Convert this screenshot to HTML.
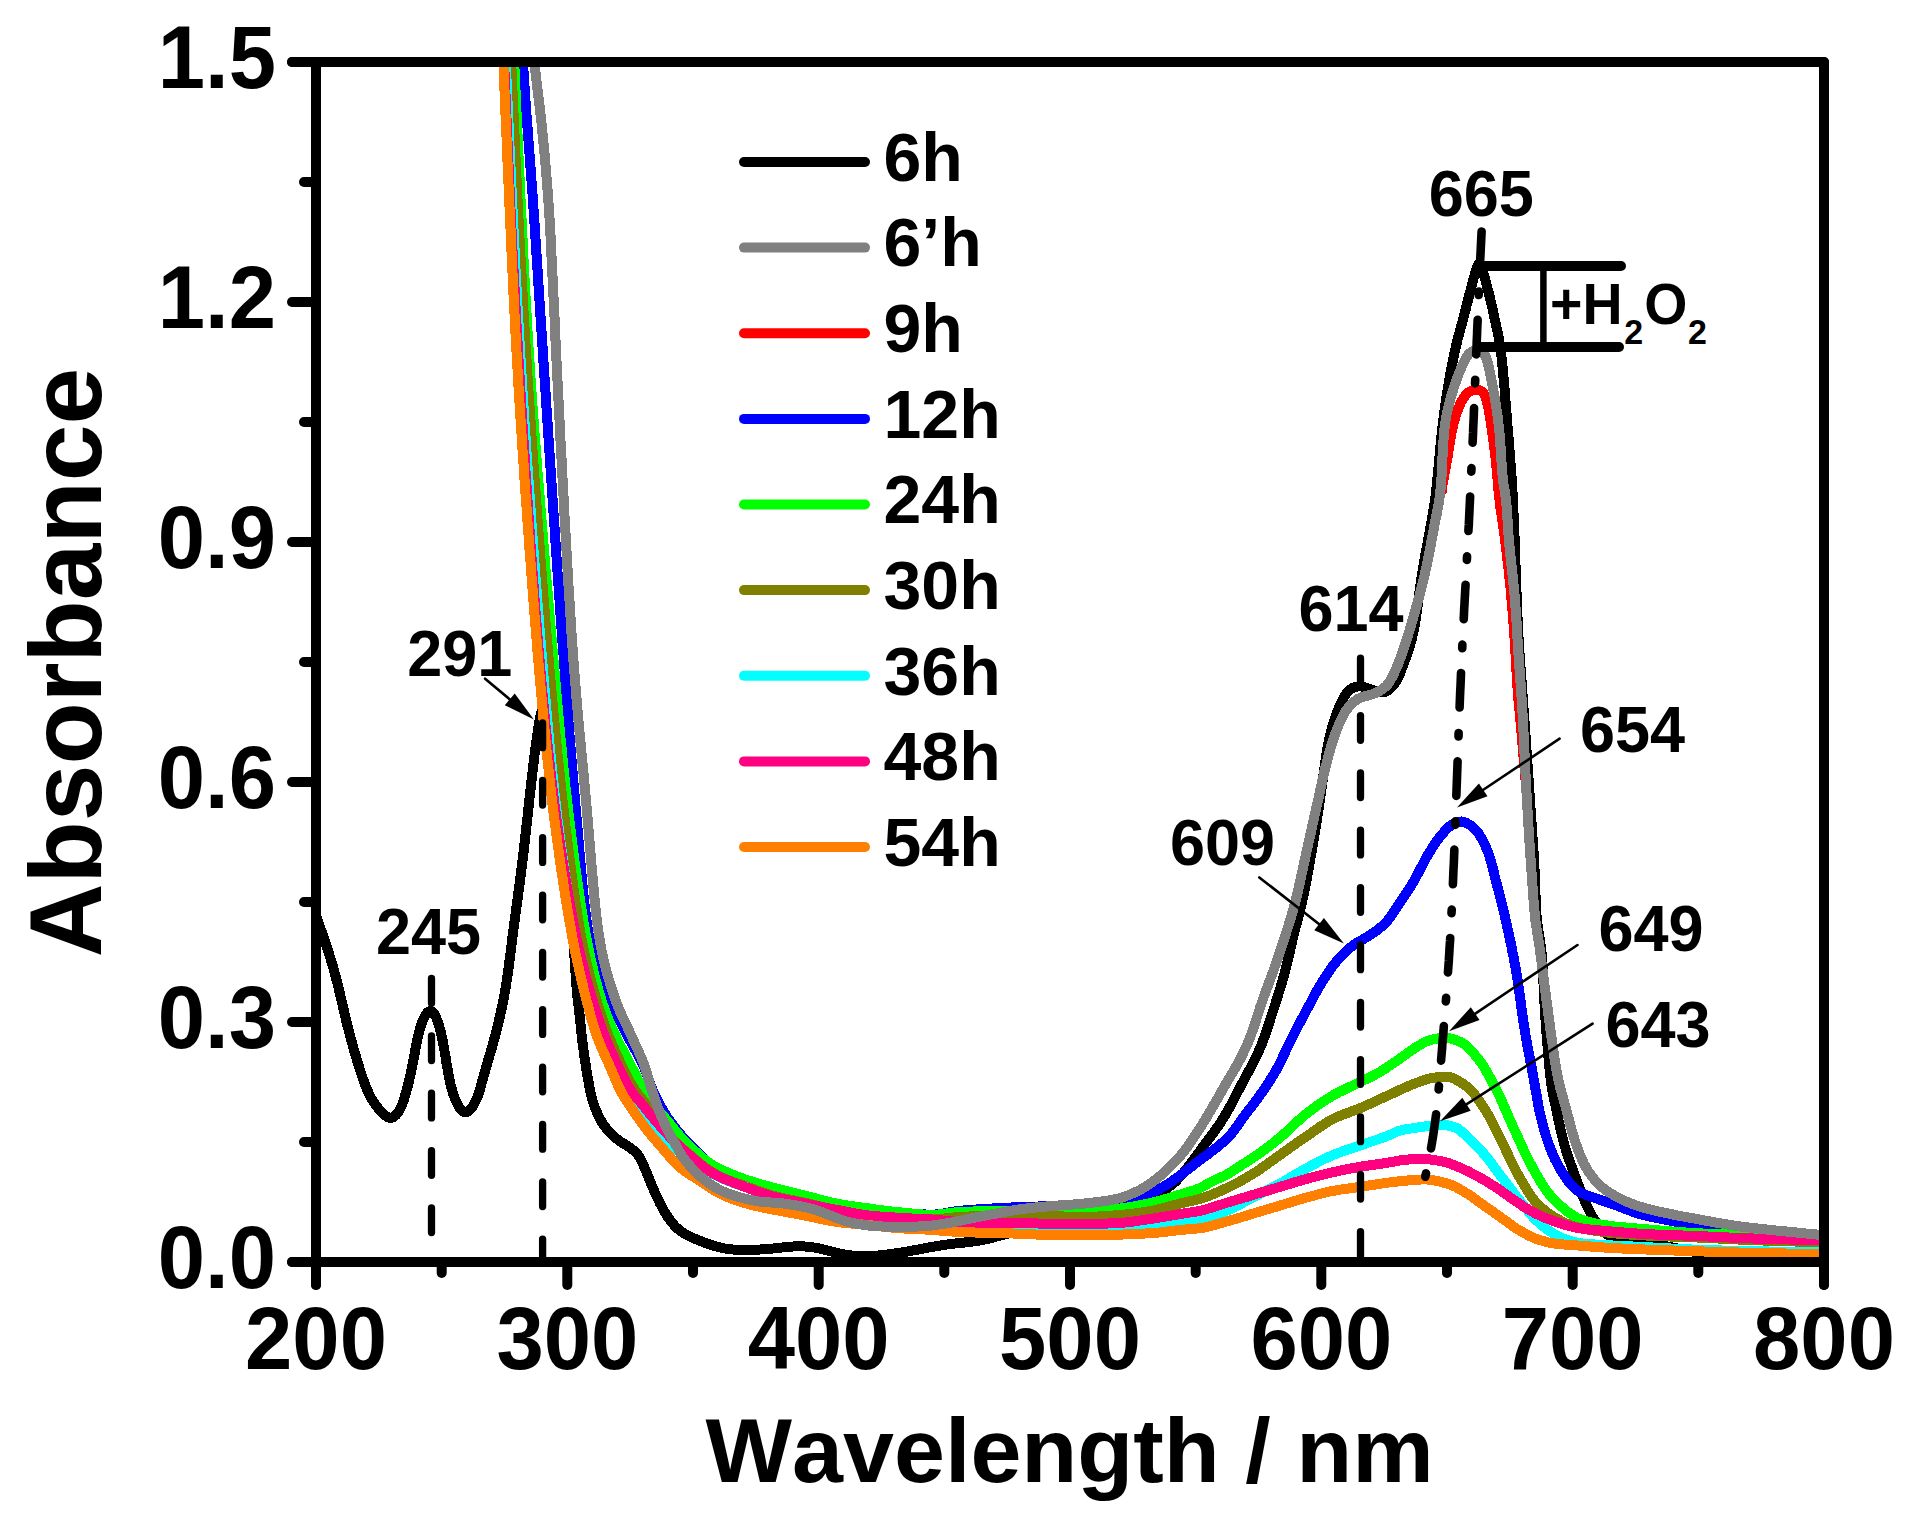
<!DOCTYPE html>
<html lang="en"><head><meta charset="utf-8"><title>UV-vis absorbance spectra</title>
<style>html,body{margin:0;padding:0;background:#fff;overflow:hidden;}svg{display:block;}</style></head>
<body>
<svg width="1906" height="1513" viewBox="0 0 1906 1513" role="img" aria-label="UV-vis absorbance spectra" font-family='"Liberation Sans", sans-serif' font-weight="bold" fill="#000" style="font-kerning:none;font-variant-ligatures:none">
<rect width="1906" height="1513" fill="#fff"/>
<defs><clipPath id="plot"><rect x="316" y="62" width="1508" height="1200"/></clipPath></defs>
<g clip-path="url(#plot)" fill="none" stroke-width="10" stroke-linejoin="round" stroke-linecap="butt" shape-rendering="crispEdges">
<path d="M312.0 901.0 L312.1 901.9 L312.4 903.1 L312.8 904.6 L313.3 906.4 L313.9 908.4 L314.6 910.6 L315.3 913.0 L316.2 915.7 L317.2 918.5 L318.2 921.4 L319.2 924.6 L320.3 927.8 L321.5 931.2 L322.7 934.7 L323.9 938.3 L325.1 941.9 L326.3 945.6 L327.6 949.4 L328.8 953.1 L330.0 956.9 L331.1 960.7 L332.3 964.5 L333.4 968.2 L334.4 971.9 L335.4 975.6 L336.3 979.2 L337.3 982.8 L338.1 986.3 L339.0 989.8 L339.8 993.3 L340.6 996.8 L341.5 1000.3 L342.3 1003.8 L343.1 1007.2 L343.9 1010.7 L344.7 1014.2 L345.5 1017.7 L346.3 1021.1 L347.2 1024.7 L348.1 1028.2 L349.0 1031.7 L349.9 1035.2 L350.9 1038.7 L351.8 1042.2 L352.8 1045.7 L353.8 1049.2 L354.7 1052.6 L355.7 1055.9 L356.7 1059.3 L357.7 1062.5 L358.7 1065.7 L359.7 1068.9 L360.7 1071.9 L361.6 1074.9 L362.6 1077.8 L363.6 1080.6 L364.6 1083.3 L365.6 1085.9 L366.6 1088.5 L367.7 1090.9 L368.8 1093.3 L369.9 1095.6 L371.0 1097.8 L372.2 1099.8 L373.5 1101.8 L374.7 1103.7 L376.1 1105.5 L377.4 1107.2 L378.7 1108.8 L380.0 1110.3 L381.3 1111.7 L382.6 1113.0 L383.9 1114.2 L385.1 1115.3 L386.3 1116.3 L387.4 1117.0 L388.6 1117.6 L389.8 1117.9 L391.0 1117.9 L392.3 1117.6 L393.5 1117.0 L394.7 1116.2 L395.9 1115.1 L397.0 1113.9 L398.1 1112.4 L399.2 1110.8 L400.1 1109.0 L401.1 1107.1 L401.9 1105.0 L402.8 1102.8 L403.6 1100.5 L404.4 1098.1 L405.1 1095.5 L405.9 1092.9 L406.6 1090.3 L407.4 1087.5 L408.1 1084.7 L408.8 1081.9 L409.5 1079.0 L410.1 1076.1 L410.8 1073.1 L411.4 1070.1 L412.1 1067.0 L412.7 1063.9 L413.3 1060.9 L413.9 1057.7 L414.5 1054.6 L415.0 1051.5 L415.6 1048.4 L416.2 1045.3 L416.8 1042.3 L417.4 1039.2 L418.0 1036.3 L418.7 1033.4 L419.4 1030.6 L420.2 1027.8 L421.0 1025.2 L421.9 1022.7 L422.9 1020.2 L423.9 1018.0 L425.0 1016.0 L426.1 1014.2 L427.2 1012.8 L428.4 1011.7 L429.6 1011.1 L430.7 1011.0 L431.8 1011.4 L432.9 1012.3 L434.0 1013.7 L435.1 1015.4 L436.1 1017.4 L437.0 1019.7 L437.9 1022.2 L438.8 1024.9 L439.6 1027.7 L440.4 1030.6 L441.1 1033.6 L441.8 1036.7 L442.5 1039.9 L443.1 1043.1 L443.7 1046.3 L444.3 1049.6 L444.8 1052.8 L445.4 1056.1 L445.9 1059.3 L446.4 1062.6 L447.0 1065.8 L447.5 1068.9 L448.1 1072.0 L448.6 1075.0 L449.2 1078.0 L449.8 1080.9 L450.4 1083.7 L451.1 1086.5 L451.8 1089.2 L452.6 1091.9 L453.4 1094.5 L454.3 1097.0 L455.3 1099.4 L456.3 1101.8 L457.4 1104.1 L458.5 1106.2 L459.7 1108.1 L460.9 1109.7 L462.2 1111.0 L463.5 1111.8 L464.9 1112.3 L466.2 1112.2 L467.6 1111.7 L469.0 1110.8 L470.3 1109.5 L471.6 1107.9 L472.9 1106.2 L474.0 1104.2 L475.1 1102.1 L476.1 1100.0 L477.1 1097.8 L477.9 1095.6 L478.7 1093.2 L479.5 1090.9 L480.2 1088.4 L480.9 1086.0 L481.6 1083.4 L482.3 1080.8 L483.0 1078.2 L483.8 1075.5 L484.6 1072.7 L485.4 1069.9 L486.2 1067.0 L487.1 1064.1 L487.9 1061.2 L488.8 1058.2 L489.7 1055.1 L490.6 1052.0 L491.5 1048.9 L492.4 1045.7 L493.3 1042.5 L494.2 1039.2 L495.1 1035.9 L495.9 1032.6 L496.8 1029.2 L497.6 1025.8 L498.5 1022.4 L499.3 1019.0 L500.1 1015.5 L500.8 1012.0 L501.6 1008.6 L502.3 1005.1 L503.0 1001.6 L503.7 998.1 L504.4 994.6 L505.0 991.1 L505.6 987.7 L506.2 984.3 L506.7 980.8 L507.2 977.4 L507.7 974.0 L508.2 970.5 L508.7 967.1 L509.1 963.6 L509.6 960.1 L510.0 956.6 L510.5 953.1 L510.9 949.5 L511.4 945.9 L511.8 942.2 L512.3 938.4 L512.8 934.6 L513.3 930.8 L513.8 926.9 L514.3 922.9 L514.9 918.9 L515.4 914.8 L516.0 910.7 L516.5 906.5 L517.1 902.3 L517.7 898.1 L518.2 893.8 L518.8 889.5 L519.4 885.2 L520.0 880.8 L520.5 876.4 L521.1 872.0 L521.6 867.6 L522.2 863.2 L522.7 858.7 L523.3 854.3 L523.8 849.8 L524.3 845.4 L524.8 840.9 L525.3 836.5 L525.8 832.0 L526.3 827.6 L526.8 823.2 L527.3 818.8 L527.8 814.4 L528.2 810.1 L528.7 805.8 L529.2 801.5 L529.6 797.3 L530.1 793.1 L530.6 788.9 L531.0 784.8 L531.5 780.8 L531.9 776.8 L532.4 772.8 L532.9 768.9 L533.3 765.1 L533.8 761.3 L534.2 757.5 L534.7 753.8 L535.2 750.2 L535.6 746.6 L536.1 743.0 L536.6 739.5 L537.1 736.0 L537.6 732.6 L538.1 729.2 L538.6 725.9 L539.1 722.7 L539.7 719.6 L540.2 716.7 L540.7 714.2 L541.3 712.0 L541.8 710.2 L542.4 708.9 L542.9 708.1 L543.4 708.0 L543.9 708.6 L544.5 709.7 L545.0 711.3 L545.5 713.4 L546.0 715.9 L546.5 718.7 L547.1 721.8 L547.6 725.2 L548.1 728.7 L548.6 732.3 L549.2 735.9 L549.7 739.7 L550.2 743.6 L550.8 747.6 L551.3 751.6 L551.9 755.7 L552.4 759.9 L553.0 764.1 L553.5 768.4 L554.1 772.7 L554.6 777.1 L555.2 781.5 L555.8 785.9 L556.3 790.4 L556.9 794.9 L557.4 799.4 L558.0 803.9 L558.5 808.4 L559.1 812.9 L559.6 817.4 L560.2 821.9 L560.7 826.4 L561.2 830.8 L561.8 835.3 L562.3 839.7 L562.8 844.2 L563.3 848.6 L563.9 852.9 L564.4 857.3 L564.9 861.6 L565.4 865.8 L565.9 870.1 L566.3 874.3 L566.8 878.4 L567.3 882.5 L567.7 886.5 L568.2 890.5 L568.6 894.5 L569.1 898.4 L569.5 902.3 L569.9 906.2 L570.3 910.0 L570.7 913.8 L571.1 917.6 L571.5 921.4 L571.9 925.2 L572.2 928.9 L572.5 932.7 L572.9 936.4 L573.2 940.1 L573.5 943.9 L573.8 947.6 L574.0 951.4 L574.3 955.1 L574.6 958.7 L574.8 962.3 L575.0 965.9 L575.3 969.4 L575.5 972.7 L575.7 976.0 L575.9 979.2 L576.2 982.2 L576.4 985.1 L576.6 987.8 L576.8 990.4 L577.1 992.8 L577.3 995.1 L577.5 997.3 L577.8 999.5 L578.0 1001.6 L578.3 1003.8 L578.5 1006.0 L578.8 1008.2 L579.1 1010.6 L579.3 1013.1 L579.6 1015.6 L579.9 1018.3 L580.2 1021.1 L580.5 1024.0 L580.8 1026.9 L581.1 1029.9 L581.4 1033.0 L581.8 1036.0 L582.1 1039.1 L582.5 1042.2 L582.9 1045.4 L583.3 1048.5 L583.7 1051.5 L584.1 1054.6 L584.6 1057.6 L585.0 1060.7 L585.5 1063.6 L585.9 1066.6 L586.4 1069.4 L586.8 1072.3 L587.3 1075.0 L587.8 1077.7 L588.2 1080.4 L588.7 1082.9 L589.1 1085.4 L589.6 1087.9 L590.1 1090.2 L590.6 1092.6 L591.1 1094.8 L591.7 1097.1 L592.2 1099.3 L592.9 1101.5 L593.6 1103.7 L594.3 1105.9 L595.1 1108.1 L596.0 1110.2 L596.9 1112.4 L597.8 1114.5 L598.8 1116.5 L599.9 1118.6 L601.0 1120.5 L602.1 1122.5 L603.3 1124.3 L604.5 1126.1 L605.8 1127.9 L607.1 1129.6 L608.5 1131.2 L610.0 1132.8 L611.5 1134.3 L613.0 1135.8 L614.6 1137.2 L616.3 1138.5 L618.0 1139.8 L619.7 1141.0 L621.4 1142.2 L623.2 1143.3 L624.9 1144.4 L626.6 1145.5 L628.2 1146.5 L629.7 1147.6 L631.2 1148.6 L632.6 1149.6 L633.9 1150.7 L635.1 1151.8 L636.3 1153.0 L637.4 1154.3 L638.4 1155.7 L639.4 1157.1 L640.3 1158.7 L641.2 1160.4 L642.1 1162.1 L643.0 1164.0 L643.8 1165.9 L644.6 1167.9 L645.5 1169.9 L646.3 1172.0 L647.2 1174.1 L648.1 1176.2 L648.9 1178.4 L649.8 1180.6 L650.8 1182.8 L651.7 1185.1 L652.7 1187.3 L653.6 1189.6 L654.6 1191.8 L655.6 1194.0 L656.6 1196.2 L657.6 1198.4 L658.7 1200.6 L659.7 1202.8 L660.8 1204.9 L661.9 1207.0 L663.1 1209.1 L664.2 1211.2 L665.4 1213.2 L666.7 1215.2 L667.9 1217.1 L669.2 1219.0 L670.6 1220.8 L671.9 1222.6 L673.4 1224.3 L674.8 1225.9 L676.3 1227.4 L677.8 1228.8 L679.4 1230.1 L681.0 1231.3 L682.7 1232.4 L684.4 1233.5 L686.1 1234.5 L687.9 1235.4 L689.7 1236.3 L691.6 1237.2 L693.5 1238.1 L695.4 1239.0 L697.4 1239.8 L699.4 1240.6 L701.4 1241.4 L703.4 1242.2 L705.5 1243.0 L707.5 1243.7 L709.6 1244.4 L711.6 1245.1 L713.7 1245.7 L715.7 1246.3 L717.8 1246.9 L719.8 1247.4 L721.9 1247.9 L723.9 1248.3 L726.0 1248.7 L728.0 1249.0 L730.0 1249.2 L732.1 1249.4 L734.2 1249.6 L736.2 1249.7 L738.3 1249.7 L740.4 1249.8 L742.5 1249.8 L744.6 1249.8 L746.7 1249.8 L748.9 1249.8 L751.1 1249.8 L753.3 1249.7 L755.5 1249.7 L757.8 1249.6 L760.1 1249.5 L762.5 1249.4 L764.9 1249.2 L767.3 1249.0 L769.8 1248.8 L772.3 1248.6 L774.9 1248.3 L777.4 1248.1 L779.8 1247.8 L782.2 1247.5 L784.6 1247.3 L786.8 1247.0 L789.0 1246.8 L791.0 1246.6 L792.9 1246.5 L794.7 1246.4 L796.4 1246.3 L798.1 1246.3 L799.7 1246.3 L801.4 1246.3 L803.1 1246.4 L804.9 1246.5 L806.7 1246.7 L808.6 1246.8 L810.6 1247.0 L812.6 1247.3 L814.6 1247.6 L816.6 1247.9 L818.7 1248.3 L820.8 1248.8 L822.9 1249.3 L825.1 1249.8 L827.2 1250.4 L829.3 1250.9 L831.4 1251.5 L833.5 1252.0 L835.6 1252.6 L837.7 1253.1 L839.7 1253.5 L841.7 1253.9 L843.6 1254.3 L845.6 1254.7 L847.5 1255.0 L849.4 1255.2 L851.3 1255.5 L853.1 1255.7 L855.0 1255.9 L856.8 1256.0 L858.7 1256.2 L860.6 1256.2 L862.6 1256.3 L864.6 1256.3 L866.6 1256.3 L868.7 1256.2 L870.9 1256.1 L873.2 1255.9 L875.6 1255.8 L877.9 1255.6 L880.4 1255.3 L882.8 1255.0 L885.3 1254.8 L887.7 1254.4 L890.1 1254.1 L892.6 1253.8 L894.9 1253.5 L897.3 1253.1 L899.6 1252.7 L902.0 1252.4 L904.3 1252.0 L906.6 1251.6 L909.0 1251.2 L911.4 1250.8 L913.8 1250.3 L916.3 1249.9 L918.8 1249.4 L921.4 1248.9 L924.1 1248.4 L926.8 1247.9 L929.5 1247.4 L932.3 1246.9 L935.1 1246.4 L937.9 1245.9 L940.7 1245.4 L943.6 1245.0 L946.4 1244.6 L949.3 1244.2 L952.1 1243.8 L955.0 1243.5 L957.8 1243.2 L960.6 1242.9 L963.5 1242.6 L966.3 1242.3 L969.0 1242.0 L971.8 1241.6 L974.5 1241.3 L977.2 1240.9 L979.9 1240.4 L982.6 1239.9 L985.2 1239.4 L987.8 1238.8 L990.4 1238.2 L993.0 1237.5 L995.6 1236.8 L998.2 1236.1 L1000.9 1235.4 L1003.6 1234.7 L1006.3 1234.0 L1009.1 1233.2 L1011.9 1232.5 L1014.8 1231.8 L1017.7 1231.1 L1020.7 1230.4 L1023.8 1229.7 L1026.9 1229.0 L1030.0 1228.3 L1033.1 1227.6 L1036.2 1227.0 L1039.4 1226.3 L1042.6 1225.6 L1045.7 1224.9 L1048.9 1224.2 L1052.0 1223.6 L1055.2 1222.9 L1058.3 1222.2 L1061.4 1221.5 L1064.5 1220.8 L1067.6 1220.1 L1070.7 1219.4 L1073.7 1218.7 L1076.8 1218.0 L1079.8 1217.4 L1082.8 1216.7 L1085.9 1216.0 L1088.9 1215.3 L1091.9 1214.6 L1094.9 1213.9 L1097.9 1213.2 L1100.8 1212.5 L1103.8 1211.8 L1106.7 1211.1 L1109.6 1210.4 L1112.5 1209.8 L1115.3 1209.1 L1118.1 1208.5 L1120.8 1207.9 L1123.5 1207.3 L1126.2 1206.8 L1128.8 1206.2 L1131.3 1205.7 L1133.8 1205.1 L1136.2 1204.5 L1138.6 1203.9 L1140.9 1203.3 L1143.2 1202.6 L1145.3 1201.8 L1147.5 1200.9 L1149.6 1200.0 L1151.6 1198.9 L1153.5 1197.8 L1155.4 1196.6 L1157.2 1195.4 L1159.0 1194.1 L1160.7 1192.9 L1162.3 1191.7 L1163.9 1190.5 L1165.4 1189.5 L1166.8 1188.4 L1168.2 1187.4 L1169.6 1186.4 L1171.0 1185.4 L1172.5 1184.2 L1173.9 1183.0 L1175.5 1181.5 L1177.1 1179.9 L1178.7 1178.1 L1180.5 1176.2 L1182.2 1174.1 L1184.0 1172.0 L1185.8 1169.8 L1187.6 1167.5 L1189.4 1165.2 L1191.2 1162.9 L1192.9 1160.7 L1194.5 1158.5 L1196.0 1156.4 L1197.5 1154.4 L1198.9 1152.4 L1200.3 1150.6 L1201.6 1148.7 L1202.9 1146.9 L1204.2 1145.1 L1205.5 1143.4 L1206.8 1141.6 L1208.2 1139.8 L1209.5 1137.9 L1210.9 1136.1 L1212.3 1134.2 L1213.8 1132.2 L1215.2 1130.2 L1216.7 1128.1 L1218.2 1126.0 L1219.7 1123.8 L1221.2 1121.6 L1222.6 1119.3 L1224.1 1116.9 L1225.6 1114.4 L1227.0 1111.9 L1228.4 1109.4 L1229.9 1106.8 L1231.3 1104.2 L1232.6 1101.7 L1234.0 1099.1 L1235.3 1096.6 L1236.6 1094.1 L1237.8 1091.7 L1239.0 1089.4 L1240.2 1087.1 L1241.3 1085.0 L1242.4 1082.9 L1243.5 1080.8 L1244.6 1078.8 L1245.6 1076.9 L1246.7 1074.9 L1247.7 1073.0 L1248.7 1071.0 L1249.8 1069.1 L1250.9 1067.1 L1252.0 1065.0 L1253.0 1063.0 L1254.1 1060.8 L1255.2 1058.7 L1256.3 1056.4 L1257.4 1054.1 L1258.5 1051.8 L1259.6 1049.3 L1260.6 1046.8 L1261.7 1044.2 L1262.7 1041.5 L1263.8 1038.7 L1264.8 1035.9 L1265.8 1033.0 L1266.8 1030.1 L1267.8 1027.1 L1268.8 1024.1 L1269.8 1021.1 L1270.7 1018.1 L1271.7 1015.1 L1272.7 1012.1 L1273.7 1009.1 L1274.6 1006.1 L1275.6 1003.1 L1276.5 1000.1 L1277.5 997.1 L1278.4 994.1 L1279.3 991.1 L1280.3 988.1 L1281.2 985.1 L1282.1 982.0 L1282.9 978.9 L1283.8 975.8 L1284.7 972.7 L1285.5 969.5 L1286.3 966.4 L1287.1 963.1 L1287.9 959.9 L1288.6 956.7 L1289.4 953.5 L1290.1 950.4 L1290.8 947.3 L1291.5 944.2 L1292.2 941.2 L1292.9 938.3 L1293.6 935.5 L1294.2 932.8 L1294.9 930.2 L1295.5 927.7 L1296.2 925.2 L1296.8 922.8 L1297.5 920.4 L1298.1 917.9 L1298.8 915.4 L1299.5 912.7 L1300.2 909.9 L1300.9 906.9 L1301.7 903.6 L1302.5 900.1 L1303.3 896.3 L1304.1 892.2 L1305.0 887.9 L1305.9 883.3 L1306.8 878.6 L1307.7 873.6 L1308.7 868.5 L1309.6 863.3 L1310.5 857.9 L1311.5 852.5 L1312.4 847.0 L1313.4 841.4 L1314.3 835.9 L1315.2 830.3 L1316.1 824.8 L1317.0 819.3 L1317.8 814.0 L1318.6 808.7 L1319.4 803.5 L1320.1 798.6 L1320.8 793.7 L1321.5 789.1 L1322.1 784.7 L1322.7 780.5 L1323.2 776.4 L1323.8 772.5 L1324.3 768.8 L1324.8 765.1 L1325.3 761.7 L1325.8 758.3 L1326.3 755.0 L1326.8 751.8 L1327.3 748.7 L1327.9 745.6 L1328.4 742.6 L1329.1 739.7 L1329.7 736.7 L1330.4 733.8 L1331.2 730.9 L1331.9 728.1 L1332.8 725.3 L1333.6 722.5 L1334.5 719.8 L1335.4 717.1 L1336.3 714.5 L1337.2 712.0 L1338.2 709.5 L1339.1 707.1 L1340.1 704.8 L1341.1 702.5 L1342.2 700.4 L1343.2 698.4 L1344.3 696.5 L1345.5 694.7 L1346.6 693.1 L1347.9 691.6 L1349.2 690.3 L1350.5 689.2 L1351.9 688.3 L1353.4 687.6 L1354.9 687.0 L1356.5 686.6 L1358.1 686.4 L1359.7 686.4 L1361.3 686.5 L1363.0 686.8 L1364.6 687.2 L1366.3 687.7 L1368.0 688.3 L1369.7 688.9 L1371.4 689.6 L1373.1 690.3 L1374.7 691.0 L1376.4 691.6 L1378.1 692.1 L1379.8 692.4 L1381.4 692.5 L1383.1 692.4 L1384.7 691.9 L1386.4 691.2 L1388.0 690.3 L1389.6 689.1 L1391.1 687.8 L1392.5 686.3 L1393.9 684.6 L1395.1 682.9 L1396.2 681.1 L1397.3 679.3 L1398.3 677.3 L1399.2 675.3 L1400.1 673.3 L1400.9 671.2 L1401.7 669.1 L1402.5 666.9 L1403.3 664.7 L1404.2 662.4 L1405.0 660.1 L1405.9 657.8 L1406.7 655.4 L1407.6 652.9 L1408.4 650.3 L1409.3 647.7 L1410.1 645.0 L1410.9 642.2 L1411.7 639.2 L1412.4 636.2 L1413.1 633.0 L1413.8 629.7 L1414.5 626.3 L1415.1 622.7 L1415.7 619.2 L1416.2 615.5 L1416.8 611.8 L1417.3 608.0 L1417.9 604.2 L1418.4 600.3 L1418.9 596.4 L1419.4 592.6 L1420.0 588.7 L1420.5 584.9 L1421.0 581.0 L1421.6 577.2 L1422.2 573.5 L1422.8 569.8 L1423.4 566.2 L1424.0 562.6 L1424.6 559.0 L1425.2 555.5 L1425.8 552.1 L1426.4 548.7 L1427.1 545.3 L1427.7 542.0 L1428.3 538.7 L1428.9 535.6 L1429.5 532.4 L1430.1 529.3 L1430.6 526.3 L1431.2 523.3 L1431.7 520.3 L1432.2 517.4 L1432.7 514.4 L1433.2 511.5 L1433.7 508.5 L1434.1 505.5 L1434.6 502.4 L1435.0 499.2 L1435.5 496.0 L1435.9 492.7 L1436.3 489.2 L1436.7 485.7 L1437.1 482.0 L1437.4 478.3 L1437.8 474.4 L1438.2 470.5 L1438.6 466.5 L1438.9 462.4 L1439.3 458.2 L1439.7 453.9 L1440.1 449.6 L1440.5 445.3 L1441.0 440.9 L1441.4 436.5 L1441.9 432.0 L1442.4 427.5 L1442.9 423.0 L1443.5 418.4 L1444.0 413.9 L1444.7 409.4 L1445.3 404.9 L1445.9 400.4 L1446.6 395.9 L1447.3 391.5 L1448.0 387.1 L1448.7 382.9 L1449.5 378.7 L1450.2 374.5 L1451.0 370.5 L1451.7 366.6 L1452.4 362.8 L1453.2 359.2 L1453.9 355.7 L1454.6 352.3 L1455.3 349.2 L1456.0 346.1 L1456.7 343.3 L1457.3 340.6 L1458.0 338.0 L1458.6 335.5 L1459.3 333.1 L1459.9 330.8 L1460.5 328.4 L1461.2 326.2 L1461.8 323.9 L1462.4 321.6 L1463.0 319.2 L1463.7 316.8 L1464.3 314.4 L1464.9 312.0 L1465.6 309.6 L1466.2 307.1 L1466.8 304.7 L1467.5 302.2 L1468.1 299.8 L1468.7 297.4 L1469.3 294.9 L1469.9 292.5 L1470.6 290.1 L1471.2 287.8 L1471.8 285.5 L1472.4 283.2 L1472.9 281.0 L1473.5 278.8 L1474.1 276.7 L1474.7 274.7 L1475.3 272.7 L1475.8 270.9 L1476.4 269.1 L1476.9 267.6 L1477.5 266.2 L1478.0 265.0 L1478.6 264.0 L1479.1 263.3 L1479.6 263.0 L1480.0 263.1 L1480.5 263.6 L1480.9 264.5 L1481.3 265.7 L1481.7 267.0 L1482.2 268.6 L1482.7 270.3 L1483.2 272.1 L1483.7 274.0 L1484.2 276.0 L1484.8 278.0 L1485.3 280.0 L1485.8 282.0 L1486.4 284.0 L1486.9 286.1 L1487.5 288.1 L1488.0 290.2 L1488.6 292.3 L1489.1 294.5 L1489.7 296.8 L1490.3 299.1 L1490.8 301.4 L1491.4 303.9 L1492.0 306.4 L1492.5 308.9 L1493.1 311.4 L1493.6 314.0 L1494.2 316.5 L1494.7 319.0 L1495.2 321.4 L1495.7 323.8 L1496.2 326.1 L1496.7 328.3 L1497.2 330.5 L1497.7 332.7 L1498.1 334.9 L1498.6 337.1 L1499.0 339.5 L1499.5 341.9 L1499.9 344.5 L1500.3 347.3 L1500.7 350.3 L1501.1 353.5 L1501.5 356.9 L1501.9 360.4 L1502.3 364.2 L1502.7 368.1 L1503.1 372.1 L1503.4 376.3 L1503.8 380.5 L1504.2 384.8 L1504.6 389.2 L1504.9 393.7 L1505.3 398.2 L1505.6 402.7 L1506.0 407.1 L1506.4 411.6 L1506.7 416.0 L1507.1 420.4 L1507.4 424.8 L1507.8 429.0 L1508.1 433.3 L1508.5 437.5 L1508.9 441.7 L1509.2 446.0 L1509.5 450.2 L1509.9 454.4 L1510.2 458.7 L1510.5 463.1 L1510.9 467.4 L1511.2 471.9 L1511.5 476.4 L1511.8 481.0 L1512.1 485.7 L1512.4 490.5 L1512.7 495.4 L1512.9 500.5 L1513.2 505.7 L1513.4 511.0 L1513.7 516.4 L1513.9 522.0 L1514.2 527.6 L1514.4 533.2 L1514.6 538.9 L1514.8 544.6 L1515.0 550.4 L1515.2 556.1 L1515.4 561.8 L1515.6 567.5 L1515.8 573.2 L1516.0 578.7 L1516.2 584.2 L1516.4 589.6 L1516.6 594.9 L1516.8 600.1 L1517.0 605.1 L1517.2 610.0 L1517.4 614.7 L1517.6 619.2 L1517.8 623.5 L1518.0 627.6 L1518.2 631.6 L1518.4 635.4 L1518.6 639.1 L1518.8 642.8 L1519.1 646.3 L1519.3 649.9 L1519.5 653.4 L1519.8 657.0 L1520.1 660.6 L1520.3 664.3 L1520.6 668.1 L1520.9 672.0 L1521.2 676.0 L1521.5 680.2 L1521.8 684.6 L1522.2 689.2 L1522.5 694.0 L1522.9 698.9 L1523.2 704.0 L1523.6 709.2 L1524.0 714.5 L1524.4 719.9 L1524.8 725.4 L1525.2 731.0 L1525.6 736.6 L1526.0 742.3 L1526.4 748.0 L1526.8 753.8 L1527.2 759.5 L1527.6 765.3 L1528.0 771.0 L1528.4 776.6 L1528.8 782.3 L1529.1 787.8 L1529.5 793.3 L1529.9 798.7 L1530.3 804.0 L1530.6 809.1 L1531.0 814.2 L1531.3 819.2 L1531.7 824.0 L1532.0 828.8 L1532.3 833.5 L1532.6 838.0 L1532.9 842.5 L1533.2 846.8 L1533.5 851.1 L1533.7 855.3 L1534.0 859.4 L1534.2 863.3 L1534.4 867.2 L1534.6 871.0 L1534.8 874.8 L1534.9 878.4 L1535.1 881.9 L1535.2 885.4 L1535.3 888.8 L1535.4 892.1 L1535.5 895.3 L1535.7 898.5 L1535.8 901.6 L1535.9 904.6 L1536.1 907.6 L1536.2 910.6 L1536.4 913.5 L1536.6 916.3 L1536.9 919.1 L1537.2 921.9 L1537.6 924.6 L1537.9 927.4 L1538.3 930.1 L1538.7 932.8 L1539.1 935.5 L1539.6 938.2 L1540.0 940.9 L1540.4 943.6 L1540.8 946.4 L1541.1 949.2 L1541.5 952.1 L1541.8 955.0 L1542.0 957.9 L1542.3 960.9 L1542.5 963.9 L1542.7 967.0 L1542.8 970.1 L1543.0 973.2 L1543.2 976.3 L1543.3 979.5 L1543.4 982.7 L1543.6 985.9 L1543.7 989.2 L1543.9 992.4 L1544.0 995.6 L1544.2 998.9 L1544.4 1002.2 L1544.6 1005.5 L1544.8 1008.8 L1545.0 1012.1 L1545.2 1015.5 L1545.4 1018.9 L1545.7 1022.3 L1545.9 1025.8 L1546.2 1029.3 L1546.4 1032.8 L1546.7 1036.4 L1547.0 1040.1 L1547.3 1043.7 L1547.6 1047.4 L1547.9 1051.1 L1548.2 1054.8 L1548.6 1058.4 L1548.9 1062.0 L1549.2 1065.6 L1549.6 1069.0 L1549.9 1072.4 L1550.3 1075.6 L1550.7 1078.7 L1551.1 1081.7 L1551.4 1084.5 L1551.8 1087.1 L1552.2 1089.5 L1552.6 1091.8 L1553.0 1094.0 L1553.4 1096.1 L1553.9 1098.2 L1554.3 1100.3 L1554.8 1102.4 L1555.3 1104.6 L1555.8 1107.0 L1556.3 1109.5 L1556.9 1112.1 L1557.4 1114.9 L1558.0 1117.8 L1558.6 1120.7 L1559.3 1123.7 L1559.9 1126.8 L1560.6 1129.8 L1561.3 1132.9 L1562.0 1135.9 L1562.8 1138.9 L1563.5 1141.8 L1564.3 1144.6 L1565.1 1147.3 L1565.9 1150.0 L1566.7 1152.5 L1567.5 1155.0 L1568.4 1157.5 L1569.2 1159.9 L1570.0 1162.2 L1570.9 1164.6 L1571.7 1166.9 L1572.6 1169.2 L1573.4 1171.5 L1574.3 1173.8 L1575.1 1176.2 L1576.0 1178.5 L1576.9 1180.8 L1577.7 1183.1 L1578.6 1185.5 L1579.5 1187.8 L1580.4 1190.2 L1581.3 1192.5 L1582.2 1194.8 L1583.2 1197.2 L1584.2 1199.5 L1585.1 1201.8 L1586.1 1204.1 L1587.2 1206.3 L1588.2 1208.6 L1589.3 1210.8 L1590.4 1212.9 L1591.6 1215.0 L1592.7 1217.1 L1593.9 1219.1 L1595.2 1221.0 L1596.4 1222.8 L1597.7 1224.6 L1598.9 1226.2 L1600.2 1227.8 L1601.4 1229.3 L1602.6 1230.6 L1603.9 1231.9 L1605.1 1233.0 L1606.3 1234.0 L1607.6 1234.8 L1609.0 1235.7 L1610.4 1236.4 L1612.0 1237.0 L1613.8 1237.6 L1615.7 1238.1 L1617.6 1238.6 L1619.7 1239.0 L1621.9 1239.4 L1624.1 1239.7 L1626.3 1240.0 L1628.5 1240.3 L1630.7 1240.6 L1632.9 1240.8 L1635.0 1241.1 L1637.2 1241.4 L1639.4 1241.6 L1641.6 1241.9 L1643.9 1242.2 L1646.3 1242.6 L1648.7 1243.0 L1651.3 1243.4 L1654.0 1243.8 L1656.8 1244.4 L1659.7 1244.9 L1662.6 1245.5 L1665.7 1246.1 L1668.8 1246.7 L1671.9 1247.3 L1675.0 1248.0 L1678.1 1248.6 L1681.2 1249.3 L1684.3 1249.9 L1687.3 1250.5 L1690.2 1251.0 L1693.1 1251.6 L1695.9 1252.1 L1698.6 1252.6 L1701.3 1253.0 L1703.9 1253.4 L1706.5 1253.8 L1709.1 1254.2 L1711.7 1254.5 L1714.3 1254.9 L1717.0 1255.2 L1719.7 1255.5 L1722.4 1255.7 L1725.2 1256.0 L1728.1 1256.2 L1731.0 1256.5 L1734.0 1256.7 L1737.0 1256.9 L1740.1 1257.1 L1743.3 1257.3 L1746.5 1257.4 L1749.8 1257.6 L1753.1 1257.7 L1756.6 1257.9 L1760.0 1258.0 L1763.6 1258.1 L1767.2 1258.2 L1770.9 1258.3 L1774.6 1258.4 L1778.5 1258.5 L1782.3 1258.6 L1786.3 1258.6 L1790.3 1258.7 L1794.4 1258.7 L1798.6 1258.8 L1802.9 1258.8 L1807.2 1258.9 L1811.6 1258.9 L1816.1 1258.9 L1820.6 1259.0 L1825.3 1259.0 L1830.0 1259.0" stroke="#000000"/>
<path d="M1441.4 494.0 L1441.5 493.0 L1441.6 491.8 L1441.8 490.4 L1442.0 488.8 L1442.2 487.1 L1442.5 485.1 L1442.8 482.8 L1443.3 480.3 L1443.8 477.5 L1444.3 474.5 L1444.9 471.4 L1445.5 468.3 L1446.1 465.1 L1446.6 462.0 L1447.2 458.9 L1447.7 456.0 L1448.2 453.0 L1448.7 449.9 L1449.2 446.8 L1449.7 443.7 L1450.2 440.6 L1450.7 437.4 L1451.2 434.4 L1451.8 431.3 L1452.4 428.4 L1453.1 425.5 L1453.8 422.7 L1454.6 419.8 L1455.4 416.8 L1456.4 413.9 L1457.4 411.0 L1458.4 408.2 L1459.5 405.6 L1460.6 403.1 L1461.7 401.0 L1462.8 399.1 L1463.9 397.5 L1465.0 396.0 L1466.1 394.7 L1467.2 393.5 L1468.4 392.5 L1469.6 391.7 L1470.8 391.1 L1472.1 390.5 L1473.5 390.1 L1474.8 389.7 L1476.1 389.5 L1477.5 389.6 L1478.9 390.0 L1480.2 390.6 L1481.5 391.3 L1482.7 392.2 L1483.5 393.1 L1484.3 394.3 L1485.0 395.8 L1485.6 397.5 L1486.2 399.3 L1486.8 401.2 L1487.3 403.2 L1487.9 405.4 L1488.3 407.8 L1488.8 410.3 L1489.3 413.1 L1489.7 415.9 L1490.1 418.7 L1490.6 421.6 L1491.0 424.5 L1491.4 427.3 L1491.8 430.1 L1492.2 432.8 L1492.6 435.6 L1493.0 438.4 L1493.4 441.2 L1493.8 444.0 L1494.2 446.9 L1494.5 449.8 L1494.9 452.7 L1495.3 455.7 L1495.6 458.8 L1496.0 462.0 L1496.3 465.3 L1496.6 468.7 L1496.9 472.1 L1497.2 475.5 L1497.5 479.0 L1497.8 482.6 L1498.1 486.1 L1498.4 489.6 L1498.8 493.1 L1499.1 496.5 L1499.5 499.9 L1499.9 503.2 L1500.3 506.5 L1500.7 509.7 L1501.2 512.9 L1501.7 516.1 L1502.1 519.3 L1502.6 522.5 L1503.1 525.7 L1503.6 529.0 L1504.1 532.4 L1504.5 535.9 L1505.0 539.4 L1505.4 543.1 L1505.9 546.9 L1506.4 550.7 L1506.8 554.7 L1507.3 558.7 L1507.8 562.8 L1508.3 566.9 L1508.7 571.1 L1509.2 575.3 L1509.6 579.5 L1510.0 583.7 L1510.5 587.8 L1510.9 592.0 L1511.2 596.1 L1511.6 600.2 L1512.0 604.3 L1512.3 608.6 L1512.7 612.9 L1513.0 617.3 L1513.3 621.8 L1513.7 626.2 L1514.0 630.5 L1514.3 634.8 L1514.6 639.0 L1514.8 643.0 L1515.1 646.9 L1515.3 650.6 L1515.5 654.1 L1515.7 657.3 L1515.9 660.3 L1516.0 662.9 L1516.2 665.3 L1516.3 667.6 L1516.4 669.8 L1516.5 672.0 L1516.6 674.3 L1516.7 676.7 L1516.9 679.5 L1517.1 682.5 L1517.3 685.7 L1517.6 689.2 L1517.9 692.8 L1518.2 696.6 L1518.5 700.5 L1518.9 704.5 L1519.3 708.6 L1519.7 712.7 L1520.0 716.8 L1520.4 720.9 L1520.8 725.0 L1521.1 729.0 L1521.5 732.9 L1521.8 736.8 L1522.2 740.8 L1522.5 745.0 L1522.9 749.2 L1523.3 753.5 L1523.6 757.7 L1524.0 761.9 L1524.4 766.0 L1524.7 770.0 L1525.0 773.8 L1525.3 777.3 L1525.6 780.6 L1525.8 783.6 L1526.0 786.3 L1526.2 788.7 L1526.4 791.0 L1526.5 793.1 L1526.7 795.1 L1526.8 796.9 L1526.9 798.6 L1527.0 800.0" stroke="#ff0000"/>
<path d="M522.0 40.0 L522.0 41.5 L522.1 43.2 L522.2 45.0 L522.3 47.0 L522.4 49.2 L522.5 51.5 L522.6 53.9 L522.7 56.5 L522.9 59.2 L523.0 62.0 L523.2 65.0 L523.4 68.1 L523.5 71.4 L523.8 75.0 L524.0 79.0 L524.3 83.2 L524.6 87.6 L524.9 92.3 L525.3 97.3 L525.6 102.4 L526.0 107.7 L526.4 113.1 L526.8 118.7 L527.3 124.4 L527.7 130.2 L528.2 136.1 L528.6 142.1 L529.1 148.1 L529.5 154.1 L530.0 160.1 L530.4 166.2 L530.9 172.2 L531.3 178.1 L531.7 184.0 L532.2 189.8 L532.6 195.5 L533.0 201.1 L533.4 206.6 L533.7 211.9 L534.1 217.1 L534.4 222.3 L534.8 227.4 L535.1 232.5 L535.4 237.5 L535.8 242.5 L536.1 247.5 L536.4 252.5 L536.7 257.5 L537.1 262.5 L537.4 267.5 L537.7 272.5 L538.0 277.6 L538.3 282.7 L538.7 287.8 L539.0 293.0 L539.3 298.3 L539.7 303.6 L540.0 309.0 L540.4 314.4 L540.7 320.0 L541.1 325.6 L541.5 331.4 L541.9 337.3 L542.3 343.3 L542.7 349.4 L543.1 355.7 L543.5 362.2 L544.0 368.9 L544.4 375.8 L544.9 382.9 L545.4 390.2 L545.8 397.6 L546.3 405.2 L546.9 412.9 L547.4 420.7 L547.9 428.6 L548.4 436.7 L549.0 444.8 L549.5 453.0 L550.1 461.3 L550.6 469.6 L551.2 478.0 L551.7 486.4 L552.3 494.8 L552.9 503.3 L553.4 511.7 L554.0 520.1 L554.6 528.5 L555.1 536.9 L555.7 545.2 L556.3 553.4 L556.8 561.6 L557.4 569.7 L557.9 577.7 L558.5 585.6 L559.0 593.4 L559.6 601.0 L560.1 608.5 L560.6 615.9 L561.1 623.1 L561.6 630.1 L562.1 637.0 L562.6 643.6 L563.1 650.0 L563.6 656.3 L564.0 662.4 L564.5 668.5 L564.9 674.4 L565.4 680.3 L565.8 686.0 L566.2 691.7 L566.6 697.3 L567.0 702.8 L567.5 708.3 L567.9 713.7 L568.3 719.1 L568.7 724.4 L569.1 729.6 L569.5 734.9 L569.9 740.1 L570.3 745.3 L570.8 750.4 L571.2 755.6 L571.6 760.7 L572.0 765.9 L572.5 771.1 L572.9 776.2 L573.4 781.5 L573.8 786.7 L574.3 792.0 L574.8 797.3 L575.2 802.6 L575.7 808.1 L576.2 813.6 L576.7 819.3 L577.2 825.0 L577.7 830.8 L578.2 836.6 L578.7 842.4 L579.2 848.2 L579.7 854.1 L580.2 859.9 L580.7 865.7 L581.2 871.5 L581.8 877.2 L582.3 882.8 L582.8 888.3 L583.4 893.8 L584.0 899.1 L584.5 904.3 L585.1 909.3 L585.7 914.2 L586.3 919.0 L587.0 923.5 L587.6 927.8 L588.3 932.0 L588.9 935.9 L589.6 939.5 L590.3 943.0 L591.1 946.3 L591.9 949.5 L592.8 952.6 L593.7 955.6 L594.6 958.4 L595.5 961.2 L596.4 963.9 L597.4 966.5 L598.3 969.0 L599.3 971.5 L600.2 973.9 L601.1 976.2 L601.9 978.5 L602.8 980.7 L603.6 982.9 L604.3 984.8 L605.0 986.7 L605.7 988.6 L606.5 990.4 L607.2 992.2 L607.9 994.0 L608.7 995.8 L609.6 997.8 L610.4 999.8 L611.4 1002.0 L612.4 1004.3 L613.4 1006.6 L614.5 1009.0 L615.6 1011.4 L616.8 1013.9 L618.0 1016.4 L619.2 1018.9 L620.4 1021.4 L621.6 1024.0 L622.9 1026.5 L624.1 1029.0 L625.3 1031.5 L626.5 1033.9 L627.8 1036.3 L629.1 1038.8 L630.4 1041.2 L631.8 1043.6 L633.2 1046.1 L634.5 1048.5 L635.9 1050.9 L637.2 1053.4 L638.5 1055.8 L639.8 1058.2 L641.0 1060.5 L642.2 1062.9 L643.2 1065.2 L644.3 1067.5 L645.2 1069.8 L646.1 1072.1 L646.9 1074.4 L647.7 1076.7 L648.5 1078.9 L649.3 1081.2 L650.1 1083.4 L650.9 1085.6 L651.7 1087.7 L652.6 1089.8 L653.4 1091.9 L654.4 1094.0 L655.4 1096.1 L656.4 1098.2 L657.5 1100.3 L658.6 1102.4 L659.7 1104.4 L660.8 1106.4 L661.8 1108.2 L662.8 1109.9 L663.7 1111.5 L664.5 1112.9 L665.2 1114.0 L665.9 1115.0 L666.4 1115.9 L667.0 1116.8 L667.6 1117.7 L668.4 1118.8 L669.3 1120.1 L670.4 1121.6 L671.6 1123.2 L672.9 1124.9 L674.3 1126.7 L675.8 1128.6 L677.2 1130.4 L678.7 1132.3 L680.2 1134.1 L681.6 1135.7 L683.0 1137.3 L684.3 1138.8 L685.6 1140.2 L686.9 1141.6 L688.2 1143.0 L689.5 1144.4 L690.9 1145.7 L692.2 1147.1 L693.6 1148.4 L695.0 1149.8 L696.4 1151.2 L697.8 1152.6 L699.2 1154.0 L700.6 1155.5 L702.1 1156.9 L703.5 1158.3 L705.0 1159.7 L706.6 1161.1 L708.2 1162.4 L709.9 1163.7 L711.8 1165.0 L713.7 1166.2 L715.8 1167.4 L718.0 1168.6 L720.3 1169.8 L722.7 1170.9 L725.1 1172.1 L727.7 1173.2 L730.2 1174.2 L732.8 1175.3 L735.3 1176.3 L737.9 1177.3 L740.4 1178.2 L742.8 1179.1 L745.3 1180.0 L747.7 1180.8 L750.1 1181.6 L752.6 1182.4 L755.0 1183.2 L757.4 1183.9 L759.9 1184.6 L762.3 1185.3 L764.8 1186.0 L767.3 1186.7 L769.7 1187.3 L772.2 1188.0 L774.6 1188.7 L777.1 1189.3 L779.5 1190.0 L782.0 1190.6 L784.5 1191.2 L786.9 1191.8 L789.4 1192.5 L791.9 1193.1 L794.3 1193.7 L796.8 1194.3 L799.3 1194.9 L801.7 1195.5 L804.2 1196.1 L806.7 1196.7 L809.1 1197.3 L811.6 1198.0 L814.0 1198.6 L816.5 1199.3 L819.0 1199.9 L821.4 1200.6 L823.9 1201.2 L826.4 1201.8 L828.8 1202.4 L831.3 1203.0 L833.8 1203.6 L836.2 1204.1 L838.7 1204.5 L841.2 1205.0 L843.7 1205.4 L846.2 1205.8 L848.6 1206.2 L851.1 1206.6 L853.6 1207.0 L856.1 1207.3 L858.6 1207.7 L861.1 1208.0 L863.6 1208.4 L866.1 1208.7 L868.6 1209.1 L871.1 1209.4 L873.5 1209.7 L876.0 1210.1 L878.5 1210.5 L881.0 1210.8 L883.5 1211.2 L886.0 1211.5 L888.5 1211.8 L891.0 1212.1 L893.5 1212.4 L896.0 1212.6 L898.5 1212.9 L901.0 1213.0 L903.5 1213.2 L906.0 1213.4 L908.5 1213.6 L911.0 1213.8 L913.6 1213.9 L916.1 1214.1 L918.6 1214.2 L921.1 1214.3 L923.6 1214.4 L926.1 1214.5 L928.6 1214.6 L931.0 1214.6 L933.4 1214.6 L935.8 1214.5 L938.1 1214.2 L940.3 1214.0 L942.6 1213.6 L944.8 1213.2 L947.1 1212.8 L949.4 1212.4 L951.7 1211.9 L954.1 1211.5 L956.6 1211.2 L959.2 1210.9 L961.8 1210.6 L964.6 1210.4 L967.4 1210.2 L970.4 1209.9 L973.4 1209.7 L976.4 1209.5 L979.5 1209.3 L982.7 1209.0 L985.8 1208.8 L989.0 1208.7 L992.2 1208.5 L995.4 1208.3 L998.6 1208.1 L1001.7 1208.0 L1004.8 1207.8 L1007.9 1207.7 L1010.9 1207.5 L1014.0 1207.4 L1017.0 1207.3 L1020.1 1207.2 L1023.2 1207.1 L1026.2 1206.9 L1029.3 1206.8 L1032.3 1206.7 L1035.4 1206.6 L1038.5 1206.5 L1041.5 1206.4 L1044.6 1206.3 L1047.6 1206.2 L1050.7 1206.1 L1053.7 1206.0 L1056.8 1205.9 L1059.8 1205.8 L1062.9 1205.7 L1066.0 1205.5 L1069.1 1205.4 L1072.2 1205.3 L1075.3 1205.2 L1078.4 1205.1 L1081.5 1205.0 L1084.5 1204.8 L1087.5 1204.7 L1090.5 1204.5 L1093.4 1204.4 L1096.3 1204.2 L1099.1 1204.1 L1101.9 1203.9 L1104.7 1203.7 L1107.4 1203.5 L1110.2 1203.2 L1112.9 1203.0 L1115.6 1202.7 L1118.3 1202.5 L1120.8 1202.2 L1123.4 1201.9 L1125.8 1201.5 L1128.1 1201.2 L1130.4 1200.8 L1132.5 1200.4 L1134.5 1200.0 L1136.4 1199.4 L1138.2 1198.8 L1139.9 1198.2 L1141.5 1197.5 L1143.2 1196.7 L1144.8 1195.9 L1146.4 1195.2 L1148.0 1194.4 L1149.7 1193.6 L1151.4 1192.9 L1153.1 1192.1 L1154.8 1191.3 L1156.4 1190.5 L1158.1 1189.6 L1159.8 1188.8 L1161.4 1187.9 L1163.1 1187.0 L1164.7 1186.0 L1166.3 1185.0 L1168.0 1184.0 L1169.6 1182.9 L1171.2 1181.8 L1172.8 1180.7 L1174.4 1179.5 L1176.0 1178.4 L1177.6 1177.2 L1179.2 1176.0 L1180.8 1174.8 L1182.3 1173.7 L1183.9 1172.5 L1185.5 1171.3 L1187.0 1170.1 L1188.6 1168.8 L1190.1 1167.6 L1191.7 1166.4 L1193.3 1165.2 L1194.9 1163.9 L1196.5 1162.7 L1198.1 1161.5 L1199.8 1160.3 L1201.4 1159.0 L1203.1 1157.8 L1204.8 1156.6 L1206.5 1155.3 L1208.2 1154.1 L1209.8 1152.8 L1211.5 1151.5 L1213.1 1150.3 L1214.7 1149.0 L1216.3 1147.7 L1217.9 1146.4 L1219.5 1145.1 L1221.0 1143.8 L1222.6 1142.5 L1224.1 1141.1 L1225.6 1139.7 L1227.1 1138.3 L1228.6 1136.8 L1230.1 1135.3 L1231.5 1133.6 L1232.9 1131.9 L1234.2 1130.1 L1235.6 1128.3 L1236.9 1126.4 L1238.3 1124.5 L1239.6 1122.6 L1240.9 1120.7 L1242.3 1118.8 L1243.6 1116.9 L1245.0 1115.0 L1246.4 1113.2 L1247.8 1111.4 L1249.2 1109.6 L1250.6 1107.8 L1252.0 1106.0 L1253.4 1104.1 L1254.8 1102.3 L1256.2 1100.5 L1257.6 1098.6 L1259.0 1096.7 L1260.3 1094.8 L1261.7 1092.9 L1263.0 1090.9 L1264.4 1088.9 L1265.7 1086.9 L1267.1 1084.9 L1268.4 1082.8 L1269.7 1080.8 L1271.0 1078.7 L1272.3 1076.6 L1273.6 1074.5 L1274.9 1072.3 L1276.1 1070.2 L1277.3 1068.0 L1278.5 1065.9 L1279.6 1063.7 L1280.7 1061.4 L1281.8 1059.2 L1282.9 1056.9 L1283.9 1054.7 L1285.0 1052.4 L1286.1 1050.1 L1287.1 1047.8 L1288.2 1045.5 L1289.3 1043.2 L1290.4 1040.9 L1291.6 1038.6 L1292.8 1036.3 L1293.9 1034.0 L1295.1 1031.7 L1296.3 1029.4 L1297.5 1027.1 L1298.7 1024.8 L1300.0 1022.5 L1301.2 1020.2 L1302.4 1017.9 L1303.6 1015.6 L1304.9 1013.3 L1306.1 1011.0 L1307.3 1008.7 L1308.5 1006.4 L1309.8 1004.2 L1311.0 1001.9 L1312.2 999.6 L1313.4 997.3 L1314.6 995.0 L1315.9 992.8 L1317.1 990.5 L1318.4 988.3 L1319.6 986.1 L1320.9 984.0 L1322.2 981.9 L1323.5 979.9 L1324.8 977.8 L1326.1 975.8 L1327.4 973.8 L1328.7 971.8 L1330.1 969.8 L1331.4 967.9 L1332.8 966.0 L1334.2 964.2 L1335.6 962.4 L1337.0 960.7 L1338.4 959.0 L1339.8 957.5 L1341.3 955.9 L1342.8 954.4 L1344.3 952.9 L1345.8 951.5 L1347.4 950.1 L1348.9 948.8 L1350.5 947.5 L1352.0 946.3 L1353.6 945.1 L1355.2 943.9 L1356.8 942.8 L1358.4 941.8 L1360.1 940.9 L1361.8 940.0 L1363.4 939.0 L1365.1 938.1 L1366.8 937.2 L1368.4 936.2 L1370.0 935.1 L1371.7 934.0 L1373.3 932.8 L1375.1 931.6 L1376.8 930.4 L1378.5 929.1 L1380.1 927.8 L1381.7 926.4 L1383.2 925.1 L1384.6 923.9 L1385.8 922.6 L1386.9 921.4 L1387.9 920.2 L1388.8 919.0 L1389.6 917.9 L1390.5 916.7 L1391.3 915.5 L1392.1 914.2 L1393.0 912.9 L1394.0 911.6 L1395.0 910.2 L1395.9 908.7 L1397.0 907.2 L1398.0 905.7 L1399.0 904.2 L1400.0 902.6 L1401.1 901.0 L1402.2 899.4 L1403.2 897.8 L1404.3 896.1 L1405.4 894.4 L1406.5 892.7 L1407.7 891.0 L1408.8 889.2 L1410.0 887.4 L1411.1 885.6 L1412.3 883.7 L1413.4 881.8 L1414.6 879.8 L1415.7 877.8 L1416.8 875.7 L1418.0 873.5 L1419.1 871.3 L1420.3 869.0 L1421.5 866.7 L1422.6 864.5 L1423.8 862.2 L1425.0 860.0 L1426.1 857.9 L1427.3 855.8 L1428.5 853.8 L1429.8 851.8 L1431.0 849.8 L1432.2 847.9 L1433.5 845.9 L1434.7 844.0 L1436.0 842.1 L1437.3 840.3 L1438.5 838.6 L1439.8 837.0 L1441.1 835.4 L1442.3 834.0 L1443.5 832.6 L1444.7 831.2 L1445.9 829.9 L1447.2 828.7 L1448.4 827.5 L1449.6 826.4 L1450.8 825.5 L1452.1 824.7 L1453.3 824.1 L1454.6 823.5 L1456.0 822.9 L1457.3 822.4 L1458.6 821.9 L1459.9 821.6 L1461.2 821.5 L1462.4 821.6 L1463.6 821.8 L1464.8 822.3 L1466.0 822.8 L1467.2 823.5 L1468.3 824.1 L1469.4 824.7 L1470.5 825.4 L1471.5 826.1 L1472.5 826.9 L1473.6 827.8 L1474.6 828.7 L1475.6 829.8 L1476.7 831.0 L1477.8 832.4 L1478.9 834.0 L1480.0 835.8 L1481.2 837.7 L1482.3 839.8 L1483.4 842.0 L1484.5 844.2 L1485.6 846.4 L1486.5 848.6 L1487.4 850.8 L1488.3 853.0 L1489.0 855.1 L1489.8 857.4 L1490.4 859.6 L1491.1 861.9 L1491.7 864.2 L1492.4 866.6 L1493.0 869.0 L1493.6 871.4 L1494.2 873.9 L1494.8 876.3 L1495.4 878.8 L1496.1 881.4 L1496.8 883.9 L1497.4 886.5 L1498.1 889.1 L1498.8 891.7 L1499.5 894.4 L1500.2 897.1 L1500.9 899.8 L1501.6 902.5 L1502.2 905.3 L1502.9 908.1 L1503.6 911.0 L1504.3 913.9 L1505.0 916.8 L1505.6 919.8 L1506.3 922.8 L1507.0 925.9 L1507.7 929.0 L1508.4 932.2 L1509.1 935.4 L1509.8 938.7 L1510.5 942.0 L1511.2 945.3 L1511.9 948.7 L1512.5 952.1 L1513.2 955.4 L1513.9 958.8 L1514.5 962.2 L1515.1 965.6 L1515.7 968.9 L1516.3 972.2 L1516.8 975.5 L1517.4 978.8 L1517.9 982.0 L1518.4 985.3 L1518.9 988.6 L1519.3 991.9 L1519.8 995.2 L1520.2 998.5 L1520.7 1001.8 L1521.1 1005.1 L1521.5 1008.4 L1522.0 1011.6 L1522.4 1014.9 L1522.9 1018.1 L1523.3 1021.3 L1523.8 1024.4 L1524.3 1027.6 L1524.8 1030.7 L1525.3 1033.8 L1525.8 1036.9 L1526.4 1040.0 L1526.9 1043.0 L1527.5 1046.0 L1528.1 1049.0 L1528.6 1052.0 L1529.2 1055.0 L1529.8 1058.0 L1530.3 1061.0 L1530.9 1063.9 L1531.5 1066.8 L1532.0 1069.8 L1532.6 1072.7 L1533.1 1075.6 L1533.6 1078.5 L1534.2 1081.4 L1534.7 1084.4 L1535.2 1087.3 L1535.7 1090.2 L1536.2 1093.1 L1536.7 1096.0 L1537.2 1098.8 L1537.7 1101.7 L1538.2 1104.5 L1538.7 1107.2 L1539.3 1110.0 L1539.8 1112.6 L1540.4 1115.3 L1541.0 1117.9 L1541.7 1120.4 L1542.3 1123.0 L1543.0 1125.5 L1543.7 1128.0 L1544.4 1130.5 L1545.1 1132.9 L1545.8 1135.3 L1546.5 1137.7 L1547.3 1140.0 L1548.0 1142.2 L1548.8 1144.4 L1549.6 1146.5 L1550.4 1148.6 L1551.2 1150.6 L1552.0 1152.5 L1552.8 1154.4 L1553.6 1156.3 L1554.4 1158.1 L1555.3 1159.9 L1556.2 1161.7 L1557.2 1163.6 L1558.2 1165.4 L1559.2 1167.3 L1560.4 1169.3 L1561.6 1171.3 L1562.8 1173.4 L1564.2 1175.4 L1565.5 1177.4 L1566.9 1179.4 L1568.2 1181.3 L1569.6 1183.0 L1570.9 1184.5 L1572.1 1185.9 L1573.2 1187.0 L1574.3 1188.0 L1575.3 1188.9 L1576.2 1189.7 L1577.2 1190.4 L1578.3 1191.2 L1579.5 1191.9 L1580.9 1192.7 L1582.5 1193.5 L1584.2 1194.2 L1586.1 1195.0 L1588.1 1195.7 L1590.2 1196.4 L1592.3 1197.1 L1594.4 1197.8 L1596.4 1198.5 L1598.5 1199.2 L1600.4 1199.9 L1602.4 1200.6 L1604.3 1201.3 L1606.2 1202.0 L1608.1 1202.7 L1610.1 1203.3 L1612.0 1204.0 L1613.9 1204.7 L1615.9 1205.3 L1617.8 1206.0 L1619.7 1206.7 L1621.6 1207.4 L1623.5 1208.1 L1625.3 1208.9 L1627.1 1209.6 L1628.9 1210.3 L1630.8 1211.0 L1632.7 1211.8 L1634.7 1212.5 L1636.7 1213.2 L1638.9 1213.8 L1641.2 1214.5 L1643.6 1215.1 L1646.3 1215.7 L1649.0 1216.4 L1651.9 1217.0 L1654.8 1217.6 L1657.8 1218.2 L1660.8 1218.8 L1663.8 1219.4 L1666.8 1220.0 L1669.7 1220.5 L1672.5 1221.1 L1675.2 1221.6 L1677.8 1222.0 L1680.1 1222.5 L1682.3 1222.9 L1684.4 1223.3 L1686.4 1223.7 L1688.4 1224.0 L1690.3 1224.4 L1692.2 1224.7 L1694.2 1225.1 L1696.2 1225.4 L1698.4 1225.8 L1700.8 1226.1 L1703.3 1226.5 L1705.9 1226.9 L1708.6 1227.3 L1711.4 1227.6 L1714.3 1228.0 L1717.3 1228.4 L1720.3 1228.8 L1723.5 1229.2 L1726.7 1229.5 L1729.9 1229.9 L1733.2 1230.3 L1736.6 1230.6 L1740.0 1231.0 L1743.4 1231.4 L1746.9 1231.7 L1750.3 1232.0 L1753.8 1232.4 L1757.4 1232.7 L1761.0 1233.0 L1764.6 1233.3 L1768.4 1233.7 L1772.1 1234.0 L1775.9 1234.3 L1779.8 1234.6 L1783.7 1234.9 L1787.7 1235.2 L1791.7 1235.5 L1795.7 1235.8 L1799.9 1236.1 L1804.0 1236.4 L1808.2 1236.6 L1812.5 1236.9 L1816.8 1237.2 L1821.1 1237.5 L1825.5 1237.7 L1830.0 1238.0" stroke="#0000ff"/>
<path d="M513.0 40.0 L513.1 41.4 L513.2 43.0 L513.3 44.7 L513.4 46.6 L513.5 48.6 L513.6 50.7 L513.7 53.0 L513.8 55.4 L513.9 57.9 L514.1 60.5 L514.2 63.2 L514.4 66.0 L514.5 69.0 L514.7 72.2 L514.8 75.8 L515.0 79.5 L515.2 83.5 L515.4 87.8 L515.6 92.2 L515.8 96.9 L516.0 101.7 L516.3 106.7 L516.5 111.8 L516.7 117.1 L517.0 122.4 L517.2 127.9 L517.5 133.4 L517.7 139.1 L518.0 144.7 L518.2 150.4 L518.5 156.1 L518.8 161.9 L519.0 167.6 L519.3 173.3 L519.6 178.9 L519.8 184.5 L520.1 189.9 L520.3 195.3 L520.6 200.6 L520.9 205.8 L521.1 210.8 L521.4 215.8 L521.6 220.7 L521.8 225.6 L522.1 230.4 L522.3 235.2 L522.6 239.9 L522.8 244.7 L523.1 249.4 L523.3 254.1 L523.5 258.8 L523.8 263.6 L524.0 268.3 L524.3 273.1 L524.5 277.9 L524.8 282.7 L525.1 287.5 L525.3 292.5 L525.6 297.4 L525.9 302.4 L526.2 307.5 L526.5 312.7 L526.8 317.9 L527.1 323.2 L527.4 328.6 L527.7 334.1 L528.1 339.7 L528.4 345.4 L528.8 351.3 L529.2 357.3 L529.6 363.5 L530.0 369.9 L530.4 376.4 L530.9 383.2 L531.4 390.0 L531.9 397.0 L532.4 404.2 L532.9 411.4 L533.5 418.8 L534.0 426.3 L534.6 433.9 L535.2 441.5 L535.8 449.2 L536.4 457.0 L537.0 464.9 L537.6 472.8 L538.3 480.7 L538.9 488.7 L539.6 496.6 L540.2 504.6 L540.9 512.6 L541.5 520.5 L542.2 528.5 L542.8 536.4 L543.5 544.2 L544.1 552.1 L544.8 559.8 L545.4 567.5 L546.1 575.1 L546.7 582.6 L547.4 590.0 L548.0 597.3 L548.6 604.4 L549.2 611.5 L549.8 618.4 L550.4 625.1 L551.0 631.7 L551.6 638.2 L552.1 644.4 L552.6 650.5 L553.2 656.4 L553.7 662.2 L554.2 667.9 L554.7 673.6 L555.2 679.1 L555.7 684.6 L556.1 690.0 L556.6 695.3 L557.1 700.5 L557.5 705.7 L558.0 710.9 L558.5 715.9 L558.9 721.0 L559.4 726.0 L559.9 731.0 L560.3 735.9 L560.8 740.8 L561.3 745.7 L561.8 750.6 L562.2 755.5 L562.7 760.4 L563.2 765.2 L563.7 770.1 L564.2 775.0 L564.8 779.9 L565.3 784.9 L565.8 789.8 L566.4 794.8 L567.0 799.8 L567.6 804.9 L568.2 810.1 L568.8 815.3 L569.4 820.5 L570.1 825.8 L570.7 831.1 L571.4 836.4 L572.0 841.7 L572.7 847.1 L573.4 852.4 L574.1 857.7 L574.8 863.1 L575.5 868.3 L576.2 873.6 L577.0 878.8 L577.7 883.9 L578.4 889.0 L579.2 894.1 L579.9 899.0 L580.6 903.9 L581.4 908.7 L582.1 913.4 L582.9 918.0 L583.6 922.5 L584.4 926.8 L585.1 931.1 L585.9 935.2 L586.6 939.1 L587.4 943.0 L588.1 946.7 L588.9 950.4 L589.6 954.0 L590.4 957.5 L591.1 961.0 L591.9 964.4 L592.7 967.7 L593.4 971.0 L594.2 974.2 L595.0 977.3 L595.8 980.4 L596.6 983.4 L597.4 986.3 L598.2 989.3 L599.0 992.1 L599.8 994.9 L600.7 997.7 L601.5 1000.4 L602.4 1003.0 L603.2 1005.5 L604.1 1008.0 L604.9 1010.4 L605.8 1012.8 L606.7 1015.1 L607.6 1017.3 L608.5 1019.6 L609.4 1021.8 L610.4 1024.0 L611.3 1026.3 L612.3 1028.5 L613.3 1030.8 L614.3 1033.1 L615.4 1035.4 L616.5 1037.7 L617.6 1040.0 L618.8 1042.4 L619.9 1044.7 L621.1 1047.0 L622.4 1049.3 L623.6 1051.6 L624.8 1053.9 L626.0 1056.2 L627.2 1058.5 L628.4 1060.7 L629.6 1062.9 L630.7 1065.1 L631.8 1067.3 L632.9 1069.4 L634.0 1071.6 L635.1 1073.8 L636.2 1076.0 L637.3 1078.2 L638.3 1080.3 L639.4 1082.4 L640.4 1084.4 L641.5 1086.4 L642.5 1088.3 L643.6 1090.1 L644.6 1091.9 L645.6 1093.5 L646.7 1095.0 L647.7 1096.5 L648.7 1097.9 L649.8 1099.3 L650.8 1100.6 L651.8 1102.0 L652.8 1103.3 L653.9 1104.6 L654.9 1105.9 L655.9 1107.2 L657.0 1108.4 L658.0 1109.6 L659.0 1110.9 L660.0 1112.1 L661.1 1113.3 L662.1 1114.5 L663.3 1115.8 L664.4 1117.2 L665.6 1118.7 L666.9 1120.3 L668.3 1121.9 L669.7 1123.7 L671.1 1125.5 L672.6 1127.3 L674.1 1129.1 L675.6 1131.0 L677.1 1132.8 L678.6 1134.5 L680.0 1136.2 L681.4 1137.8 L682.8 1139.3 L684.1 1140.7 L685.4 1142.1 L686.7 1143.4 L688.0 1144.6 L689.2 1145.8 L690.5 1147.0 L691.7 1148.2 L693.0 1149.4 L694.3 1150.6 L695.7 1151.8 L697.1 1153.0 L698.4 1154.2 L699.8 1155.4 L701.2 1156.7 L702.6 1157.9 L704.0 1159.0 L705.5 1160.2 L707.1 1161.4 L708.7 1162.5 L710.3 1163.7 L712.1 1164.8 L714.0 1165.9 L716.0 1167.0 L718.1 1168.1 L720.3 1169.2 L722.5 1170.2 L724.9 1171.3 L727.2 1172.4 L729.6 1173.4 L732.0 1174.4 L734.5 1175.4 L736.9 1176.3 L739.3 1177.2 L741.6 1178.1 L743.9 1178.9 L746.2 1179.7 L748.5 1180.5 L750.8 1181.2 L753.1 1182.0 L755.4 1182.7 L757.7 1183.4 L760.0 1184.0 L762.4 1184.7 L764.7 1185.3 L767.0 1186.0 L769.3 1186.6 L771.7 1187.3 L774.0 1187.9 L776.3 1188.5 L778.6 1189.1 L781.0 1189.7 L783.3 1190.3 L785.6 1190.9 L787.9 1191.5 L790.3 1192.1 L792.6 1192.6 L794.9 1193.2 L797.3 1193.8 L799.6 1194.4 L801.9 1194.9 L804.3 1195.5 L806.6 1196.1 L808.9 1196.7 L811.3 1197.3 L813.6 1197.9 L815.9 1198.5 L818.3 1199.1 L820.6 1199.8 L822.9 1200.4 L825.2 1201.0 L827.6 1201.5 L829.9 1202.1 L832.2 1202.6 L834.6 1203.1 L836.9 1203.6 L839.3 1204.0 L841.6 1204.5 L844.0 1204.9 L846.3 1205.3 L848.7 1205.6 L851.0 1206.0 L853.4 1206.3 L855.7 1206.7 L858.1 1207.0 L860.4 1207.3 L862.8 1207.7 L865.2 1208.0 L867.5 1208.3 L869.9 1208.6 L872.2 1209.0 L874.6 1209.3 L876.9 1209.6 L879.3 1209.9 L881.6 1210.2 L884.0 1210.5 L886.4 1210.8 L888.7 1211.1 L891.1 1211.4 L893.4 1211.7 L895.8 1211.9 L898.2 1212.2 L900.5 1212.4 L902.9 1212.6 L905.3 1212.9 L907.6 1213.1 L910.0 1213.4 L912.4 1213.6 L914.8 1213.8 L917.2 1214.1 L919.6 1214.3 L921.9 1214.4 L924.3 1214.6 L926.6 1214.7 L929.0 1214.8 L931.3 1214.8 L933.5 1214.8 L935.8 1214.7 L938.0 1214.5 L940.2 1214.3 L942.3 1214.0 L944.5 1213.7 L946.7 1213.4 L948.8 1213.1 L951.0 1212.8 L953.3 1212.6 L955.6 1212.3 L957.9 1212.1 L960.3 1212.0 L962.7 1211.9 L965.2 1211.8 L967.7 1211.7 L970.3 1211.6 L972.9 1211.5 L975.5 1211.4 L978.2 1211.3 L980.8 1211.3 L983.5 1211.2 L986.3 1211.1 L989.0 1211.1 L991.8 1211.0 L994.7 1211.0 L997.5 1211.0 L1000.3 1211.0 L1003.3 1211.0 L1006.3 1211.0 L1009.4 1211.1 L1012.6 1211.2 L1015.8 1211.2 L1019.0 1211.3 L1022.3 1211.4 L1025.6 1211.5 L1028.9 1211.6 L1032.1 1211.7 L1035.4 1211.8 L1038.5 1211.9 L1041.7 1211.9 L1044.8 1212.0 L1047.7 1212.0 L1050.6 1212.1 L1053.4 1212.1 L1056.1 1212.1 L1058.6 1212.1 L1061.1 1212.1 L1063.6 1212.1 L1066.0 1212.1 L1068.3 1212.1 L1070.6 1212.1 L1072.9 1212.1 L1075.2 1212.1 L1077.4 1212.1 L1079.7 1212.1 L1082.0 1212.1 L1084.3 1212.1 L1086.7 1212.1 L1089.0 1212.0 L1091.4 1211.9 L1093.7 1211.8 L1096.1 1211.6 L1098.5 1211.4 L1100.8 1211.1 L1103.2 1210.8 L1105.6 1210.5 L1107.9 1210.2 L1110.3 1209.9 L1112.6 1209.5 L1115.0 1209.2 L1117.3 1208.9 L1119.7 1208.6 L1122.1 1208.3 L1124.4 1207.9 L1126.8 1207.6 L1129.1 1207.2 L1131.5 1206.8 L1133.8 1206.4 L1136.2 1206.0 L1138.5 1205.5 L1140.9 1205.1 L1143.2 1204.6 L1145.5 1204.1 L1147.9 1203.6 L1150.2 1203.1 L1152.6 1202.6 L1155.0 1202.0 L1157.4 1201.3 L1159.8 1200.7 L1162.2 1200.0 L1164.6 1199.3 L1167.0 1198.6 L1169.4 1197.9 L1171.7 1197.2 L1174.0 1196.5 L1176.2 1195.8 L1178.3 1195.1 L1180.4 1194.5 L1182.4 1193.9 L1184.4 1193.3 L1186.3 1192.7 L1188.3 1192.1 L1190.1 1191.5 L1192.0 1190.9 L1193.7 1190.4 L1195.5 1189.8 L1197.2 1189.1 L1198.8 1188.5 L1200.3 1187.8 L1201.8 1187.2 L1203.2 1186.4 L1204.6 1185.7 L1205.9 1184.9 L1207.2 1184.2 L1208.5 1183.4 L1209.8 1182.6 L1211.2 1181.9 L1212.6 1181.1 L1214.1 1180.4 L1215.6 1179.7 L1217.1 1179.0 L1218.7 1178.3 L1220.2 1177.6 L1221.8 1176.9 L1223.4 1176.2 L1225.0 1175.4 L1226.5 1174.6 L1228.1 1173.7 L1229.7 1172.8 L1231.2 1171.9 L1232.8 1170.9 L1234.4 1169.9 L1236.0 1168.8 L1237.6 1167.8 L1239.2 1166.7 L1240.8 1165.7 L1242.3 1164.6 L1243.9 1163.6 L1245.5 1162.6 L1247.0 1161.6 L1248.6 1160.6 L1250.2 1159.6 L1251.7 1158.6 L1253.3 1157.6 L1254.9 1156.5 L1256.4 1155.5 L1258.0 1154.4 L1259.6 1153.2 L1261.3 1152.1 L1262.9 1150.9 L1264.5 1149.7 L1266.2 1148.5 L1267.8 1147.2 L1269.5 1145.9 L1271.2 1144.6 L1272.9 1143.3 L1274.6 1141.9 L1276.3 1140.5 L1278.0 1139.1 L1279.8 1137.7 L1281.6 1136.2 L1283.4 1134.6 L1285.2 1132.9 L1287.0 1131.2 L1288.9 1129.5 L1290.8 1127.7 L1292.7 1125.9 L1294.6 1124.1 L1296.5 1122.4 L1298.4 1120.6 L1300.3 1118.9 L1302.2 1117.2 L1304.2 1115.5 L1306.1 1114.0 L1308.0 1112.5 L1309.9 1111.0 L1311.8 1109.6 L1313.7 1108.2 L1315.6 1106.8 L1317.5 1105.4 L1319.4 1104.1 L1321.3 1102.7 L1323.2 1101.5 L1325.2 1100.2 L1327.1 1099.0 L1329.1 1097.8 L1331.0 1096.6 L1333.0 1095.4 L1334.9 1094.3 L1336.9 1093.3 L1338.9 1092.2 L1341.0 1091.2 L1343.0 1090.2 L1345.0 1089.2 L1347.0 1088.3 L1349.0 1087.3 L1351.0 1086.4 L1353.0 1085.4 L1355.0 1084.5 L1356.9 1083.5 L1358.8 1082.6 L1360.7 1081.7 L1362.5 1080.8 L1364.4 1079.9 L1366.2 1079.1 L1368.0 1078.2 L1369.9 1077.3 L1371.7 1076.4 L1373.5 1075.5 L1375.3 1074.5 L1377.2 1073.5 L1379.0 1072.5 L1380.9 1071.4 L1382.8 1070.2 L1384.8 1069.0 L1386.7 1067.7 L1388.6 1066.4 L1390.6 1065.1 L1392.5 1063.8 L1394.4 1062.4 L1396.3 1061.1 L1398.1 1059.9 L1399.9 1058.6 L1401.6 1057.4 L1403.3 1056.3 L1404.9 1055.1 L1406.5 1054.0 L1408.1 1052.8 L1409.6 1051.7 L1411.1 1050.6 L1412.6 1049.5 L1414.0 1048.5 L1415.5 1047.5 L1416.9 1046.6 L1418.4 1045.8 L1419.8 1045.0 L1421.2 1044.2 L1422.5 1043.4 L1423.9 1042.7 L1425.2 1042.0 L1426.6 1041.4 L1428.0 1040.8 L1429.4 1040.4 L1430.9 1040.0 L1432.4 1039.6 L1434.0 1039.2 L1435.6 1038.9 L1437.2 1038.5 L1438.8 1038.3 L1440.5 1038.1 L1442.1 1037.9 L1443.7 1037.8 L1445.3 1037.8 L1447.0 1037.9 L1448.7 1038.2 L1450.3 1038.5 L1452.0 1038.9 L1453.7 1039.4 L1455.3 1040.0 L1457.0 1040.6 L1458.6 1041.2 L1460.2 1041.9 L1461.8 1042.6 L1463.4 1043.6 L1464.9 1044.7 L1466.5 1046.0 L1468.1 1047.4 L1469.6 1048.9 L1471.1 1050.5 L1472.7 1052.2 L1474.1 1053.9 L1475.6 1055.7 L1477.0 1057.4 L1478.4 1059.2 L1479.8 1061.0 L1481.1 1062.8 L1482.5 1064.8 L1483.8 1066.8 L1485.1 1068.9 L1486.3 1071.1 L1487.6 1073.3 L1488.8 1075.5 L1490.1 1077.8 L1491.3 1080.1 L1492.5 1082.4 L1493.7 1084.8 L1494.9 1087.1 L1496.1 1089.4 L1497.3 1091.8 L1498.5 1094.2 L1499.7 1096.6 L1500.8 1099.1 L1502.0 1101.6 L1503.1 1104.2 L1504.2 1106.8 L1505.3 1109.3 L1506.5 1111.9 L1507.6 1114.5 L1508.7 1117.1 L1509.8 1119.7 L1511.0 1122.3 L1512.1 1124.8 L1513.3 1127.3 L1514.4 1129.8 L1515.6 1132.3 L1516.7 1134.8 L1517.9 1137.4 L1519.0 1139.9 L1520.2 1142.4 L1521.3 1144.9 L1522.5 1147.4 L1523.6 1149.9 L1524.8 1152.4 L1526.0 1154.8 L1527.2 1157.2 L1528.4 1159.6 L1529.6 1162.0 L1530.8 1164.3 L1532.0 1166.5 L1533.2 1168.8 L1534.5 1171.0 L1535.7 1173.3 L1537.0 1175.5 L1538.3 1177.8 L1539.6 1179.9 L1540.9 1182.1 L1542.2 1184.2 L1543.5 1186.2 L1544.8 1188.2 L1546.1 1190.1 L1547.5 1191.9 L1548.8 1193.7 L1550.2 1195.3 L1551.5 1196.9 L1552.9 1198.4 L1554.3 1199.9 L1555.7 1201.3 L1557.1 1202.7 L1558.5 1204.0 L1559.9 1205.3 L1561.4 1206.5 L1562.8 1207.7 L1564.2 1208.9 L1565.7 1210.0 L1567.1 1211.2 L1568.5 1212.3 L1569.9 1213.3 L1571.4 1214.4 L1572.8 1215.4 L1574.3 1216.3 L1575.8 1217.2 L1577.4 1218.1 L1579.1 1218.8 L1580.8 1219.5 L1582.7 1220.1 L1584.6 1220.8 L1586.6 1221.4 L1588.7 1221.9 L1590.8 1222.5 L1593.0 1223.0 L1595.3 1223.4 L1597.5 1223.9 L1599.8 1224.3 L1602.1 1224.7 L1604.4 1225.1 L1606.6 1225.4 L1608.9 1225.7 L1611.2 1226.0 L1613.5 1226.3 L1615.7 1226.6 L1618.1 1226.8 L1620.4 1227.0 L1622.8 1227.2 L1625.2 1227.5 L1627.6 1227.7 L1630.1 1227.9 L1632.7 1228.1 L1635.3 1228.3 L1637.9 1228.6 L1640.7 1228.8 L1643.6 1229.1 L1646.5 1229.3 L1649.6 1229.6 L1652.8 1229.9 L1656.0 1230.2 L1659.3 1230.5 L1662.6 1230.7 L1666.0 1231.0 L1669.4 1231.3 L1672.8 1231.6 L1676.2 1231.9 L1679.6 1232.1 L1683.0 1232.3 L1686.4 1232.6 L1689.7 1232.8 L1693.0 1233.0 L1696.2 1233.2 L1699.3 1233.3 L1702.4 1233.5 L1705.4 1233.6 L1708.4 1233.7 L1711.3 1233.8 L1714.2 1233.9 L1717.0 1234.0 L1719.9 1234.1 L1722.7 1234.2 L1725.6 1234.3 L1728.5 1234.4 L1731.4 1234.5 L1734.3 1234.6 L1737.3 1234.6 L1740.4 1234.7 L1743.5 1234.8 L1746.7 1234.9 L1750.0 1235.0 L1753.4 1235.1 L1756.8 1235.3 L1760.3 1235.4 L1763.8 1235.5 L1767.3 1235.6 L1770.9 1235.7 L1774.5 1235.8 L1778.2 1235.9 L1781.9 1236.1 L1785.7 1236.2 L1789.5 1236.3 L1793.4 1236.4 L1797.3 1236.5 L1801.2 1236.6 L1805.2 1236.8 L1809.2 1236.9 L1813.3 1237.0 L1817.4 1237.1 L1821.6 1237.3 L1825.8 1237.4 L1830.0 1237.5" stroke="#00ff00"/>
<path d="M510.0 40.0 L510.1 41.4 L510.2 43.0 L510.3 44.7 L510.4 46.6 L510.5 48.6 L510.6 50.8 L510.7 53.1 L510.8 55.5 L510.9 58.0 L511.1 60.6 L511.2 63.4 L511.4 66.2 L511.5 69.2 L511.7 72.5 L511.8 76.0 L512.0 79.8 L512.2 83.9 L512.4 88.2 L512.6 92.7 L512.8 97.4 L513.0 102.2 L513.3 107.2 L513.5 112.4 L513.7 117.7 L514.0 123.1 L514.2 128.6 L514.5 134.2 L514.7 139.9 L515.0 145.6 L515.3 151.3 L515.5 157.0 L515.8 162.8 L516.1 168.5 L516.3 174.2 L516.6 179.9 L516.9 185.5 L517.1 191.0 L517.4 196.4 L517.6 201.7 L517.9 206.8 L518.2 211.9 L518.4 216.8 L518.7 221.8 L518.9 226.6 L519.2 231.5 L519.4 236.3 L519.7 241.1 L519.9 245.8 L520.2 250.6 L520.4 255.3 L520.7 260.1 L520.9 264.8 L521.2 269.6 L521.5 274.4 L521.7 279.2 L522.0 284.1 L522.3 289.0 L522.6 293.9 L522.9 298.9 L523.1 304.0 L523.4 309.1 L523.7 314.3 L524.1 319.6 L524.4 324.9 L524.7 330.4 L525.0 336.0 L525.4 341.6 L525.7 347.4 L526.1 353.4 L526.5 359.5 L526.9 365.8 L527.3 372.3 L527.7 378.9 L528.2 385.7 L528.6 392.7 L529.1 399.8 L529.6 407.0 L530.1 414.3 L530.6 421.8 L531.1 429.4 L531.6 437.0 L532.2 444.7 L532.7 452.5 L533.3 460.4 L533.8 468.3 L534.4 476.3 L535.0 484.2 L535.6 492.2 L536.2 500.3 L536.7 508.3 L537.3 516.3 L537.9 524.3 L538.5 532.2 L539.1 540.2 L539.7 548.1 L540.3 555.9 L540.9 563.6 L541.5 571.3 L542.1 578.9 L542.7 586.4 L543.3 593.8 L543.8 601.0 L544.4 608.2 L545.0 615.2 L545.5 622.1 L546.1 628.8 L546.6 635.3 L547.2 641.7 L547.7 647.8 L548.2 653.8 L548.7 659.7 L549.2 665.5 L549.7 671.2 L550.2 676.8 L550.7 682.4 L551.2 687.8 L551.7 693.2 L552.2 698.5 L552.7 703.7 L553.1 708.9 L553.6 714.0 L554.1 719.1 L554.6 724.2 L555.0 729.2 L555.5 734.1 L556.0 739.1 L556.5 744.0 L557.0 748.9 L557.5 753.8 L558.0 758.7 L558.5 763.6 L559.0 768.5 L559.6 773.4 L560.1 778.4 L560.6 783.3 L561.2 788.3 L561.7 793.3 L562.3 798.4 L562.9 803.5 L563.5 808.6 L564.1 813.8 L564.7 819.1 L565.3 824.4 L566.0 829.7 L566.6 835.0 L567.3 840.4 L567.9 845.8 L568.6 851.1 L569.3 856.5 L570.0 861.8 L570.7 867.1 L571.4 872.4 L572.1 877.7 L572.8 882.9 L573.5 888.0 L574.2 893.1 L574.9 898.1 L575.6 903.0 L576.4 907.8 L577.1 912.6 L577.8 917.2 L578.6 921.7 L579.3 926.1 L580.0 930.4 L580.8 934.6 L581.5 938.6 L582.3 942.4 L583.0 946.2 L583.8 949.9 L584.6 953.5 L585.3 957.1 L586.1 960.6 L586.9 964.0 L587.7 967.3 L588.5 970.6 L589.3 973.8 L590.1 977.0 L590.9 980.1 L591.7 983.1 L592.6 986.1 L593.4 989.0 L594.2 991.9 L595.0 994.7 L595.8 997.5 L596.6 1000.2 L597.4 1002.9 L598.1 1005.5 L598.9 1008.0 L599.6 1010.4 L600.4 1012.8 L601.2 1015.1 L601.9 1017.4 L602.7 1019.7 L603.5 1022.0 L604.3 1024.2 L605.1 1026.5 L605.9 1028.8 L606.8 1031.1 L607.7 1033.4 L608.6 1035.8 L609.6 1038.2 L610.6 1040.7 L611.6 1043.2 L612.7 1045.7 L613.8 1048.2 L614.9 1050.7 L616.0 1053.1 L617.1 1055.5 L618.1 1057.8 L619.2 1060.0 L620.2 1062.1 L621.1 1064.1 L622.0 1066.0 L622.8 1067.8 L623.6 1069.4 L624.4 1071.0 L625.1 1072.5 L625.8 1073.9 L626.5 1075.3 L627.2 1076.7 L628.0 1078.1 L628.7 1079.5 L629.5 1081.0 L630.4 1082.4 L631.2 1083.8 L632.1 1085.2 L633.0 1086.6 L633.8 1088.0 L634.7 1089.3 L635.6 1090.7 L636.5 1092.0 L637.4 1093.3 L638.4 1094.5 L639.3 1095.7 L640.2 1096.9 L641.1 1098.0 L642.1 1099.2 L643.1 1100.4 L644.0 1101.7 L645.0 1103.0 L646.0 1104.4 L647.0 1105.9 L648.0 1107.4 L649.0 1108.9 L650.0 1110.5 L651.0 1112.1 L652.0 1113.8 L653.1 1115.4 L654.2 1117.0 L655.4 1118.7 L656.6 1120.3 L657.9 1122.0 L659.2 1123.7 L660.6 1125.4 L662.0 1127.2 L663.4 1129.0 L664.9 1130.7 L666.4 1132.5 L667.9 1134.2 L669.4 1135.9 L671.0 1137.5 L672.5 1139.1 L674.0 1140.7 L675.5 1142.2 L677.0 1143.7 L678.5 1145.1 L680.1 1146.5 L681.6 1147.9 L683.2 1149.3 L684.7 1150.6 L686.3 1152.0 L687.9 1153.3 L689.4 1154.6 L691.0 1155.9 L692.6 1157.2 L694.1 1158.6 L695.7 1159.9 L697.3 1161.2 L698.8 1162.5 L700.4 1163.8 L702.0 1165.1 L703.6 1166.3 L705.2 1167.5 L706.8 1168.7 L708.4 1169.8 L710.0 1170.8 L711.7 1171.8 L713.4 1172.8 L715.0 1173.8 L716.7 1174.7 L718.4 1175.6 L720.1 1176.5 L721.8 1177.3 L723.5 1178.1 L725.2 1178.9 L726.9 1179.6 L728.7 1180.3 L730.3 1181.0 L732.0 1181.6 L733.7 1182.2 L735.4 1182.7 L737.0 1183.3 L738.8 1183.9 L740.5 1184.4 L742.3 1185.0 L744.2 1185.7 L746.2 1186.3 L748.2 1187.1 L750.3 1187.8 L752.4 1188.6 L754.6 1189.4 L756.8 1190.2 L759.1 1191.0 L761.4 1191.9 L763.7 1192.7 L766.0 1193.4 L768.4 1194.2 L770.7 1194.9 L773.0 1195.6 L775.3 1196.2 L777.6 1196.8 L779.9 1197.4 L782.2 1197.9 L784.6 1198.5 L786.9 1199.0 L789.3 1199.5 L791.7 1200.0 L794.0 1200.5 L796.4 1201.0 L798.8 1201.5 L801.1 1202.0 L803.5 1202.5 L805.9 1203.0 L808.2 1203.5 L810.6 1204.1 L812.9 1204.6 L815.2 1205.2 L817.6 1205.8 L819.9 1206.3 L822.3 1206.9 L824.6 1207.5 L827.0 1208.0 L829.3 1208.6 L831.7 1209.1 L834.0 1209.6 L836.4 1210.1 L838.7 1210.6 L841.1 1211.0 L843.4 1211.5 L845.8 1212.0 L848.2 1212.5 L850.5 1212.9 L852.9 1213.4 L855.2 1213.8 L857.6 1214.2 L860.0 1214.6 L862.3 1215.0 L864.7 1215.3 L867.1 1215.6 L869.4 1215.9 L871.8 1216.1 L874.2 1216.3 L876.5 1216.6 L878.9 1216.8 L881.3 1217.0 L883.7 1217.2 L886.0 1217.3 L888.4 1217.5 L890.8 1217.7 L893.2 1217.8 L895.6 1217.9 L897.9 1218.1 L900.3 1218.2 L902.7 1218.3 L905.1 1218.4 L907.5 1218.5 L909.9 1218.7 L912.3 1218.8 L914.7 1218.9 L917.1 1219.0 L919.5 1219.1 L921.8 1219.1 L924.2 1219.2 L926.6 1219.3 L928.9 1219.3 L931.2 1219.3 L933.5 1219.3 L935.8 1219.2 L938.0 1219.1 L940.2 1218.9 L942.4 1218.7 L944.6 1218.5 L946.7 1218.2 L948.9 1218.0 L951.1 1217.8 L953.4 1217.5 L955.7 1217.3 L958.0 1217.1 L960.5 1217.0 L962.9 1216.8 L965.5 1216.7 L968.1 1216.6 L970.7 1216.4 L973.4 1216.3 L976.1 1216.2 L978.8 1216.0 L981.6 1215.9 L984.3 1215.8 L987.1 1215.7 L989.9 1215.6 L992.6 1215.6 L995.3 1215.5 L998.0 1215.5 L1000.7 1215.5 L1003.3 1215.5 L1006.0 1215.5 L1008.6 1215.5 L1011.2 1215.6 L1013.8 1215.6 L1016.4 1215.6 L1018.9 1215.7 L1021.6 1215.7 L1024.2 1215.8 L1026.8 1215.8 L1029.4 1215.9 L1032.1 1215.9 L1034.8 1215.9 L1037.5 1216.0 L1040.3 1216.0 L1043.2 1216.1 L1046.1 1216.1 L1049.0 1216.2 L1052.0 1216.3 L1055.0 1216.3 L1058.0 1216.4 L1061.0 1216.4 L1064.1 1216.5 L1067.1 1216.6 L1070.1 1216.6 L1073.0 1216.7 L1075.9 1216.7 L1078.8 1216.8 L1081.5 1216.8 L1084.2 1216.8 L1086.9 1216.8 L1089.4 1216.8 L1091.9 1216.7 L1094.3 1216.7 L1096.7 1216.6 L1099.1 1216.4 L1101.4 1216.3 L1103.8 1216.2 L1106.1 1216.0 L1108.4 1215.9 L1110.7 1215.7 L1113.0 1215.5 L1115.3 1215.4 L1117.7 1215.2 L1120.1 1215.0 L1122.4 1214.8 L1124.8 1214.6 L1127.2 1214.3 L1129.6 1214.1 L1131.9 1213.8 L1134.3 1213.5 L1136.7 1213.2 L1139.0 1212.8 L1141.4 1212.5 L1143.8 1212.1 L1146.1 1211.8 L1148.5 1211.4 L1150.9 1211.0 L1153.3 1210.5 L1155.7 1209.9 L1158.1 1209.4 L1160.6 1208.8 L1163.0 1208.1 L1165.4 1207.5 L1167.8 1206.8 L1170.2 1206.1 L1172.5 1205.5 L1174.8 1204.9 L1177.0 1204.3 L1179.1 1203.7 L1181.2 1203.2 L1183.2 1202.8 L1185.1 1202.3 L1186.9 1201.9 L1188.7 1201.5 L1190.5 1201.2 L1192.2 1200.8 L1194.0 1200.4 L1195.8 1199.9 L1197.7 1199.4 L1199.6 1198.9 L1201.6 1198.3 L1203.6 1197.7 L1205.7 1197.0 L1207.8 1196.2 L1209.9 1195.4 L1212.0 1194.5 L1214.2 1193.7 L1216.3 1192.7 L1218.5 1191.8 L1220.6 1190.9 L1222.8 1189.9 L1224.9 1188.9 L1227.0 1188.0 L1229.1 1187.0 L1231.1 1186.0 L1233.2 1184.9 L1235.3 1183.9 L1237.3 1182.8 L1239.4 1181.7 L1241.5 1180.5 L1243.5 1179.4 L1245.5 1178.2 L1247.6 1177.0 L1249.6 1175.8 L1251.6 1174.6 L1253.7 1173.3 L1255.7 1172.1 L1257.7 1170.8 L1259.7 1169.4 L1261.6 1168.1 L1263.6 1166.7 L1265.6 1165.3 L1267.6 1163.8 L1269.6 1162.4 L1271.5 1161.0 L1273.5 1159.5 L1275.5 1158.1 L1277.4 1156.7 L1279.4 1155.3 L1281.4 1153.9 L1283.4 1152.5 L1285.4 1151.1 L1287.3 1149.7 L1289.3 1148.3 L1291.3 1146.9 L1293.3 1145.5 L1295.3 1144.1 L1297.2 1142.7 L1299.2 1141.3 L1301.2 1139.9 L1303.2 1138.6 L1305.2 1137.2 L1307.2 1135.9 L1309.2 1134.5 L1311.1 1133.1 L1313.1 1131.7 L1315.1 1130.3 L1317.1 1128.9 L1319.1 1127.5 L1321.1 1126.1 L1323.1 1124.8 L1325.1 1123.5 L1327.1 1122.2 L1329.1 1121.0 L1331.2 1119.9 L1333.2 1118.8 L1335.3 1117.8 L1337.4 1116.9 L1339.5 1116.0 L1341.6 1115.2 L1343.7 1114.3 L1345.8 1113.6 L1347.9 1112.8 L1350.1 1112.0 L1352.2 1111.2 L1354.3 1110.4 L1356.4 1109.6 L1358.6 1108.8 L1360.7 1107.9 L1362.8 1107.0 L1364.9 1106.1 L1366.9 1105.2 L1369.0 1104.2 L1371.1 1103.3 L1373.2 1102.3 L1375.3 1101.3 L1377.4 1100.4 L1379.5 1099.4 L1381.6 1098.4 L1383.7 1097.5 L1385.7 1096.5 L1387.8 1095.6 L1390.0 1094.6 L1392.1 1093.6 L1394.3 1092.6 L1396.4 1091.6 L1398.6 1090.5 L1400.8 1089.5 L1402.9 1088.6 L1405.0 1087.6 L1407.1 1086.7 L1409.1 1085.8 L1411.1 1085.0 L1413.0 1084.2 L1414.9 1083.5 L1416.7 1082.8 L1418.4 1082.2 L1420.2 1081.5 L1421.9 1080.9 L1423.5 1080.3 L1425.2 1079.8 L1426.8 1079.3 L1428.3 1078.9 L1429.8 1078.5 L1431.3 1078.2 L1432.7 1078.0 L1434.0 1077.7 L1435.4 1077.5 L1436.7 1077.3 L1437.9 1077.1 L1439.2 1077.0 L1440.5 1077.0 L1441.6 1077.0 L1442.8 1077.0 L1443.9 1077.0 L1445.0 1077.0 L1446.2 1077.0 L1447.5 1077.0 L1448.9 1077.1 L1450.5 1077.4 L1452.1 1077.9 L1453.8 1078.6 L1455.6 1079.4 L1457.4 1080.4 L1459.3 1081.5 L1461.1 1082.6 L1462.8 1083.7 L1464.5 1084.9 L1466.1 1086.0 L1467.6 1087.2 L1469.1 1088.6 L1470.6 1090.0 L1472.1 1091.6 L1473.6 1093.3 L1475.0 1095.1 L1476.4 1097.0 L1477.8 1098.8 L1479.2 1100.8 L1480.6 1102.8 L1481.9 1104.7 L1483.2 1106.7 L1484.6 1108.7 L1485.8 1110.8 L1487.1 1112.9 L1488.4 1115.2 L1489.6 1117.4 L1490.8 1119.8 L1492.0 1122.1 L1493.3 1124.5 L1494.5 1127.0 L1495.6 1129.4 L1496.8 1131.8 L1498.0 1134.3 L1499.2 1136.7 L1500.4 1139.1 L1501.6 1141.5 L1502.8 1143.8 L1504.0 1146.3 L1505.2 1148.7 L1506.4 1151.2 L1507.6 1153.6 L1508.7 1156.1 L1509.9 1158.6 L1511.1 1161.0 L1512.3 1163.5 L1513.4 1165.9 L1514.6 1168.3 L1515.9 1170.6 L1517.1 1172.9 L1518.3 1175.1 L1519.6 1177.3 L1520.8 1179.5 L1522.1 1181.7 L1523.4 1183.9 L1524.7 1186.1 L1526.0 1188.2 L1527.3 1190.3 L1528.6 1192.4 L1529.9 1194.4 L1531.3 1196.3 L1532.6 1198.2 L1534.0 1200.0 L1535.5 1201.7 L1536.9 1203.3 L1538.4 1204.8 L1539.8 1206.2 L1541.4 1207.6 L1542.9 1209.0 L1544.5 1210.3 L1546.0 1211.6 L1547.7 1212.8 L1549.3 1213.9 L1550.9 1215.1 L1552.6 1216.1 L1554.3 1217.2 L1556.0 1218.2 L1557.8 1219.1 L1559.5 1220.1 L1561.3 1221.0 L1563.1 1222.0 L1564.9 1222.8 L1566.8 1223.7 L1568.7 1224.5 L1570.6 1225.2 L1572.6 1225.9 L1574.7 1226.6 L1576.8 1227.1 L1579.1 1227.7 L1581.4 1228.2 L1583.8 1228.8 L1586.3 1229.3 L1588.9 1229.7 L1591.5 1230.2 L1594.2 1230.6 L1596.8 1231.0 L1599.5 1231.4 L1602.1 1231.8 L1604.7 1232.1 L1607.2 1232.5 L1609.7 1232.8 L1612.1 1233.0 L1614.4 1233.3 L1616.6 1233.5 L1618.8 1233.7 L1620.9 1233.9 L1623.0 1234.1 L1625.0 1234.2 L1627.1 1234.4 L1629.3 1234.5 L1631.5 1234.7 L1633.7 1234.8 L1636.1 1235.0 L1638.6 1235.1 L1641.3 1235.3 L1644.0 1235.4 L1647.0 1235.6 L1650.0 1235.7 L1653.1 1235.9 L1656.4 1236.0 L1659.7 1236.1 L1663.1 1236.3 L1666.5 1236.4 L1670.0 1236.5 L1673.5 1236.6 L1677.0 1236.8 L1680.4 1236.9 L1683.9 1237.0 L1687.3 1237.1 L1690.7 1237.3 L1694.0 1237.4 L1697.3 1237.5 L1700.4 1237.7 L1703.5 1237.8 L1706.6 1237.9 L1709.6 1238.1 L1712.6 1238.2 L1715.6 1238.4 L1718.6 1238.5 L1721.5 1238.7 L1724.5 1238.8 L1727.5 1239.0 L1730.4 1239.1 L1733.4 1239.3 L1736.4 1239.4 L1739.4 1239.6 L1742.5 1239.7 L1745.6 1239.8 L1748.7 1239.9 L1751.9 1240.1 L1755.2 1240.2 L1758.7 1240.3 L1762.2 1240.5 L1765.8 1240.6 L1769.5 1240.7 L1773.2 1240.8 L1776.9 1241.0 L1780.5 1241.1 L1784.2 1241.2 L1787.8 1241.3 L1791.3 1241.4 L1794.7 1241.5 L1798.0 1241.6 L1801.2 1241.7 L1804.2 1241.8 L1807.0 1241.9 L1809.6 1242.0 L1812.0 1242.0 L1814.3 1242.0 L1816.4 1242.1 L1818.4 1242.1 L1820.4 1242.2 L1822.3 1242.2 L1824.0 1242.2 L1825.7 1242.3 L1827.2 1242.3 L1828.7 1242.3 L1830.0 1242.3" stroke="#808000"/>
<path d="M504.8 40.0 L504.9 41.4 L504.9 43.0 L505.0 44.8 L505.1 46.7 L505.2 48.7 L505.3 50.9 L505.4 53.2 L505.5 55.7 L505.6 58.3 L505.7 60.9 L505.9 63.7 L506.0 66.6 L506.1 69.7 L506.3 73.0 L506.4 76.6 L506.6 80.5 L506.8 84.7 L507.0 89.0 L507.2 93.6 L507.4 98.4 L507.6 103.3 L507.9 108.5 L508.1 113.7 L508.3 119.1 L508.6 124.6 L508.8 130.2 L509.1 135.9 L509.3 141.6 L509.6 147.4 L509.9 153.2 L510.1 159.0 L510.4 164.8 L510.7 170.6 L510.9 176.3 L511.2 182.0 L511.5 187.6 L511.7 193.2 L512.0 198.6 L512.3 203.9 L512.5 209.0 L512.8 214.1 L513.0 219.1 L513.3 224.0 L513.5 229.0 L513.7 233.8 L514.0 238.7 L514.2 243.5 L514.5 248.3 L514.7 253.1 L515.0 257.9 L515.2 262.7 L515.4 267.5 L515.7 272.3 L516.0 277.2 L516.2 282.1 L516.5 287.0 L516.7 292.0 L517.0 297.0 L517.3 302.1 L517.6 307.3 L517.9 312.5 L518.2 317.8 L518.5 323.2 L518.8 328.7 L519.1 334.3 L519.4 340.0 L519.8 345.8 L520.1 351.8 L520.5 357.9 L520.9 364.2 L521.3 370.7 L521.7 377.4 L522.1 384.3 L522.5 391.3 L523.0 398.4 L523.5 405.7 L524.0 413.1 L524.4 420.6 L525.0 428.3 L525.5 436.0 L526.0 443.8 L526.5 451.7 L527.1 459.6 L527.6 467.6 L528.2 475.6 L528.8 483.7 L529.3 491.8 L529.9 499.9 L530.5 508.0 L531.1 516.1 L531.6 524.2 L532.2 532.2 L532.8 540.3 L533.4 548.2 L534.0 556.1 L534.6 564.0 L535.1 571.7 L535.7 579.4 L536.3 586.9 L536.9 594.4 L537.4 601.7 L538.0 608.9 L538.6 616.0 L539.1 622.9 L539.6 629.7 L540.2 636.3 L540.7 642.7 L541.2 648.9 L541.7 655.0 L542.2 661.0 L542.7 666.9 L543.2 672.9 L543.7 678.7 L544.2 684.5 L544.7 690.3 L545.2 696.0 L545.7 701.7 L546.2 707.3 L546.7 712.8 L547.2 718.3 L547.7 723.7 L548.2 729.0 L548.6 734.3 L549.1 739.6 L549.6 744.7 L550.1 749.8 L550.6 754.8 L551.1 759.7 L551.5 764.6 L552.0 769.4 L552.5 774.1 L553.0 778.7 L553.5 783.3 L553.9 787.8 L554.4 792.2 L554.9 796.5 L555.4 800.7 L555.9 804.8 L556.3 808.8 L556.8 812.7 L557.2 816.5 L557.7 820.2 L558.2 823.8 L558.6 827.4 L559.1 830.9 L559.5 834.4 L560.0 837.8 L560.4 841.2 L560.9 844.5 L561.3 847.9 L561.8 851.3 L562.3 854.6 L562.8 858.0 L563.3 861.4 L563.8 864.9 L564.3 868.4 L564.8 872.0 L565.3 875.6 L565.8 879.1 L566.4 882.7 L566.9 886.3 L567.5 890.0 L568.0 893.6 L568.6 897.2 L569.1 900.8 L569.7 904.4 L570.3 908.0 L570.9 911.6 L571.5 915.2 L572.1 918.7 L572.7 922.3 L573.3 925.8 L573.9 929.3 L574.6 932.8 L575.3 936.2 L575.9 939.6 L576.6 943.1 L577.3 946.5 L578.1 949.9 L578.9 953.4 L579.7 956.9 L580.5 960.3 L581.3 963.7 L582.1 967.2 L583.0 970.6 L583.8 973.9 L584.7 977.2 L585.5 980.5 L586.4 983.7 L587.3 986.9 L588.1 989.9 L589.0 993.0 L589.8 995.9 L590.6 998.7 L591.4 1001.5 L592.2 1004.1 L593.0 1006.7 L593.8 1009.2 L594.5 1011.6 L595.3 1014.0 L596.1 1016.3 L596.8 1018.6 L597.6 1020.9 L598.4 1023.2 L599.2 1025.5 L600.1 1027.8 L600.9 1030.1 L601.8 1032.5 L602.7 1034.8 L603.6 1037.2 L604.6 1039.6 L605.6 1042.0 L606.6 1044.4 L607.7 1046.8 L608.7 1049.2 L609.8 1051.6 L610.8 1054.0 L611.9 1056.3 L613.0 1058.7 L614.1 1061.0 L615.2 1063.2 L616.2 1065.5 L617.3 1067.7 L618.4 1069.9 L619.5 1072.1 L620.6 1074.4 L621.7 1076.6 L622.8 1078.8 L623.9 1081.0 L625.0 1083.1 L626.1 1085.1 L627.2 1087.1 L628.3 1089.0 L629.4 1090.8 L630.5 1092.5 L631.5 1094.0 L632.5 1095.4 L633.5 1096.7 L634.5 1098.0 L635.5 1099.2 L636.5 1100.5 L637.5 1101.8 L638.6 1103.1 L639.7 1104.6 L640.8 1106.2 L642.0 1107.9 L643.2 1109.7 L644.4 1111.6 L645.7 1113.6 L646.9 1115.6 L648.2 1117.7 L649.5 1119.7 L650.8 1121.8 L652.2 1123.8 L653.5 1125.7 L654.9 1127.6 L656.3 1129.3 L657.7 1131.1 L659.1 1132.8 L660.5 1134.6 L662.0 1136.3 L663.5 1138.0 L664.9 1139.7 L666.5 1141.3 L668.0 1142.9 L669.5 1144.3 L671.1 1145.8 L672.7 1147.1 L674.2 1148.3 L675.9 1149.5 L677.5 1150.5 L679.2 1151.5 L680.9 1152.5 L682.6 1153.4 L684.3 1154.3 L686.0 1155.2 L687.7 1156.1 L689.4 1157.1 L691.1 1158.1 L692.8 1159.2 L694.4 1160.4 L696.0 1161.6 L697.6 1162.9 L699.2 1164.2 L700.8 1165.5 L702.4 1166.7 L704.0 1168.0 L705.6 1169.2 L707.3 1170.4 L708.9 1171.4 L710.6 1172.4 L712.3 1173.4 L714.0 1174.3 L715.7 1175.2 L717.4 1176.1 L719.1 1177.0 L720.8 1177.8 L722.6 1178.6 L724.3 1179.4 L726.0 1180.1 L727.8 1180.8 L729.5 1181.5 L731.2 1182.2 L732.9 1182.8 L734.5 1183.4 L736.2 1184.0 L738.0 1184.5 L739.7 1185.1 L741.5 1185.7 L743.4 1186.4 L745.3 1187.0 L747.3 1187.8 L749.4 1188.5 L751.5 1189.3 L753.7 1190.2 L756.0 1191.0 L758.2 1191.9 L760.6 1192.7 L762.9 1193.6 L765.2 1194.4 L767.6 1195.2 L769.9 1196.0 L772.3 1196.7 L774.6 1197.3 L776.9 1198.0 L779.2 1198.6 L781.6 1199.1 L784.0 1199.7 L786.3 1200.2 L788.7 1200.8 L791.1 1201.3 L793.5 1201.8 L795.9 1202.3 L798.3 1202.8 L800.7 1203.3 L803.1 1203.9 L805.4 1204.4 L807.8 1205.0 L810.3 1205.5 L812.8 1206.1 L815.3 1206.7 L817.8 1207.3 L820.3 1208.0 L822.8 1208.6 L825.2 1209.1 L827.6 1209.7 L830.0 1210.3 L832.2 1210.8 L834.4 1211.3 L836.5 1211.8 L838.4 1212.2 L840.2 1212.6 L841.8 1213.0 L843.4 1213.4 L845.0 1213.7 L846.5 1214.0 L848.1 1214.4 L849.7 1214.7 L851.5 1215.0 L853.4 1215.4 L855.4 1215.7 L857.6 1216.0 L859.9 1216.4 L862.2 1216.7 L864.6 1217.1 L867.1 1217.4 L869.6 1217.7 L872.2 1218.1 L874.7 1218.4 L877.2 1218.7 L879.8 1219.0 L882.2 1219.2 L884.7 1219.5 L887.1 1219.8 L889.5 1220.0 L891.8 1220.2 L894.2 1220.5 L896.6 1220.7 L899.0 1220.9 L901.4 1221.1 L903.8 1221.3 L906.2 1221.5 L908.6 1221.7 L911.0 1221.9 L913.4 1222.1 L915.8 1222.3 L918.2 1222.5 L920.6 1222.7 L923.0 1222.8 L925.4 1223.0 L927.8 1223.2 L930.2 1223.4 L932.6 1223.5 L935.0 1223.7 L937.4 1223.9 L939.8 1224.0 L942.2 1224.2 L944.7 1224.3 L947.1 1224.5 L949.5 1224.6 L951.9 1224.7 L954.3 1224.9 L956.7 1225.0 L959.0 1225.2 L961.4 1225.3 L963.8 1225.4 L966.2 1225.5 L968.7 1225.6 L971.1 1225.7 L973.6 1225.8 L976.1 1225.9 L978.7 1226.0 L981.3 1226.0 L983.9 1226.1 L986.5 1226.1 L989.2 1226.2 L991.9 1226.2 L994.6 1226.3 L997.4 1226.3 L1000.2 1226.3 L1003.0 1226.4 L1005.8 1226.4 L1008.7 1226.4 L1011.6 1226.5 L1014.5 1226.5 L1017.5 1226.5 L1020.5 1226.5 L1023.6 1226.5 L1026.7 1226.5 L1029.8 1226.5 L1033.1 1226.5 L1036.4 1226.5 L1039.7 1226.4 L1043.1 1226.4 L1046.5 1226.4 L1050.0 1226.4 L1053.4 1226.4 L1056.9 1226.3 L1060.4 1226.3 L1063.9 1226.3 L1067.4 1226.2 L1070.9 1226.2 L1074.4 1226.1 L1077.9 1226.1 L1081.3 1226.1 L1084.8 1226.0 L1088.2 1226.0 L1091.7 1225.9 L1095.2 1225.8 L1098.7 1225.8 L1102.3 1225.7 L1105.9 1225.6 L1109.5 1225.5 L1113.1 1225.4 L1116.7 1225.3 L1120.2 1225.2 L1123.8 1225.1 L1127.2 1224.9 L1130.6 1224.8 L1134.0 1224.7 L1137.2 1224.5 L1140.4 1224.4 L1143.5 1224.3 L1146.4 1224.1 L1149.3 1224.0 L1152.0 1223.8 L1154.7 1223.7 L1157.3 1223.5 L1159.8 1223.3 L1162.3 1223.2 L1164.8 1223.0 L1167.1 1222.8 L1169.5 1222.6 L1171.7 1222.4 L1174.0 1222.1 L1176.2 1221.9 L1178.3 1221.7 L1180.4 1221.5 L1182.5 1221.3 L1184.4 1221.1 L1186.3 1220.8 L1188.2 1220.6 L1190.0 1220.4 L1191.8 1220.1 L1193.6 1219.9 L1195.4 1219.6 L1197.3 1219.3 L1199.3 1218.9 L1201.3 1218.6 L1203.4 1218.1 L1205.5 1217.6 L1207.6 1217.1 L1209.8 1216.5 L1212.0 1215.8 L1214.2 1215.2 L1216.4 1214.4 L1218.7 1213.7 L1220.9 1212.9 L1223.1 1212.2 L1225.2 1211.4 L1227.4 1210.5 L1229.5 1209.7 L1231.6 1208.7 L1233.7 1207.7 L1235.8 1206.7 L1237.8 1205.6 L1239.9 1204.4 L1242.0 1203.3 L1244.1 1202.1 L1246.1 1200.9 L1248.2 1199.8 L1250.3 1198.6 L1252.4 1197.5 L1254.5 1196.5 L1256.6 1195.4 L1258.7 1194.4 L1260.8 1193.3 L1262.8 1192.3 L1264.9 1191.2 L1267.0 1190.2 L1269.1 1189.2 L1271.2 1188.1 L1273.3 1187.0 L1275.4 1186.0 L1277.5 1184.9 L1279.6 1183.8 L1281.6 1182.7 L1283.7 1181.5 L1285.8 1180.3 L1287.8 1179.1 L1289.9 1177.9 L1291.9 1176.7 L1294.0 1175.5 L1296.0 1174.2 L1298.1 1173.0 L1300.2 1171.8 L1302.2 1170.6 L1304.3 1169.5 L1306.4 1168.3 L1308.4 1167.2 L1310.5 1166.1 L1312.6 1165.0 L1314.7 1163.9 L1316.8 1162.8 L1318.8 1161.7 L1320.9 1160.6 L1323.0 1159.6 L1325.1 1158.6 L1327.2 1157.6 L1329.3 1156.6 L1331.5 1155.7 L1333.6 1154.8 L1335.7 1153.9 L1337.8 1153.1 L1340.0 1152.3 L1342.1 1151.5 L1344.3 1150.8 L1346.4 1150.0 L1348.6 1149.3 L1350.7 1148.6 L1352.9 1147.9 L1355.1 1147.2 L1357.2 1146.4 L1359.4 1145.7 L1361.5 1144.9 L1363.7 1144.2 L1366.0 1143.4 L1368.2 1142.6 L1370.5 1141.9 L1372.7 1141.1 L1375.0 1140.3 L1377.2 1139.6 L1379.3 1138.8 L1381.4 1138.1 L1383.5 1137.4 L1385.4 1136.7 L1387.3 1136.0 L1389.1 1135.2 L1390.8 1134.5 L1392.4 1133.7 L1394.0 1133.0 L1395.6 1132.3 L1397.2 1131.6 L1398.7 1131.0 L1400.2 1130.5 L1401.7 1130.1 L1403.2 1129.8 L1404.7 1129.5 L1406.1 1129.2 L1407.5 1129.0 L1408.9 1128.8 L1410.3 1128.6 L1411.8 1128.4 L1413.3 1128.1 L1414.9 1127.9 L1416.5 1127.7 L1418.3 1127.4 L1420.1 1127.1 L1421.9 1126.9 L1423.7 1126.6 L1425.4 1126.4 L1427.2 1126.2 L1428.9 1125.9 L1430.5 1125.7 L1432.0 1125.5 L1433.6 1125.3 L1435.1 1125.1 L1436.6 1124.9 L1438.0 1124.7 L1439.4 1124.6 L1440.8 1124.5 L1442.1 1124.5 L1443.4 1124.6 L1444.7 1124.7 L1445.9 1125.0 L1447.1 1125.3 L1448.2 1125.6 L1449.4 1125.9 L1450.6 1126.1 L1451.8 1126.4 L1452.9 1126.8 L1454.1 1127.1 L1455.3 1127.5 L1456.4 1128.0 L1457.5 1128.5 L1458.6 1129.0 L1459.6 1129.8 L1460.6 1130.6 L1461.6 1131.5 L1462.6 1132.6 L1463.7 1133.6 L1464.8 1134.7 L1466.0 1135.9 L1467.3 1137.1 L1468.7 1138.4 L1470.2 1139.8 L1471.7 1141.3 L1473.3 1142.8 L1474.9 1144.4 L1476.5 1146.0 L1478.1 1147.7 L1479.7 1149.3 L1481.3 1151.0 L1482.8 1152.7 L1484.3 1154.4 L1485.7 1156.1 L1487.1 1157.8 L1488.6 1159.6 L1490.0 1161.5 L1491.4 1163.3 L1492.8 1165.2 L1494.2 1167.1 L1495.6 1169.0 L1497.0 1170.9 L1498.4 1172.8 L1499.8 1174.6 L1501.2 1176.5 L1502.6 1178.3 L1504.1 1180.2 L1505.5 1182.0 L1506.9 1183.9 L1508.3 1185.7 L1509.7 1187.6 L1511.1 1189.5 L1512.5 1191.3 L1513.9 1193.1 L1515.3 1195.0 L1516.7 1196.8 L1518.1 1198.6 L1519.6 1200.4 L1521.0 1202.2 L1522.4 1204.0 L1523.8 1205.8 L1525.3 1207.6 L1526.7 1209.4 L1528.1 1211.2 L1529.6 1213.0 L1531.0 1214.7 L1532.5 1216.4 L1534.0 1218.0 L1535.5 1219.5 L1537.0 1221.0 L1538.6 1222.4 L1540.2 1223.8 L1541.8 1225.2 L1543.5 1226.6 L1545.1 1227.9 L1546.8 1229.2 L1548.5 1230.4 L1550.1 1231.6 L1551.7 1232.6 L1553.3 1233.6 L1554.8 1234.5 L1556.3 1235.2 L1557.6 1235.9 L1559.0 1236.6 L1560.3 1237.2 L1561.6 1237.8 L1562.9 1238.4 L1564.3 1238.9 L1565.7 1239.4 L1567.2 1239.9 L1568.7 1240.4 L1570.2 1240.9 L1571.7 1241.4 L1573.3 1241.8 L1574.9 1242.2 L1576.5 1242.6 L1578.2 1242.9 L1579.9 1243.2 L1581.6 1243.4 L1583.3 1243.6 L1585.1 1243.8 L1586.9 1243.9 L1588.8 1244.1 L1590.7 1244.2 L1592.6 1244.3 L1594.6 1244.5 L1596.7 1244.6 L1598.8 1244.7 L1601.0 1244.9 L1603.3 1245.0 L1605.7 1245.1 L1608.2 1245.3 L1610.7 1245.4 L1613.3 1245.5 L1616.0 1245.7 L1618.7 1245.8 L1621.5 1245.9 L1624.3 1246.1 L1627.2 1246.2 L1630.1 1246.3 L1633.0 1246.5 L1635.9 1246.6 L1638.9 1246.8 L1641.8 1246.9 L1644.9 1247.1 L1648.0 1247.2 L1651.2 1247.4 L1654.4 1247.6 L1657.6 1247.8 L1660.9 1248.0 L1664.3 1248.2 L1667.7 1248.3 L1671.0 1248.5 L1674.4 1248.7 L1677.9 1248.9 L1681.3 1249.1 L1684.7 1249.2 L1688.1 1249.4 L1691.5 1249.5 L1694.9 1249.7 L1698.2 1249.8 L1701.5 1249.9 L1704.9 1250.0 L1708.2 1250.1 L1711.5 1250.2 L1714.8 1250.3 L1718.1 1250.4 L1721.4 1250.5 L1724.7 1250.5 L1728.0 1250.6 L1731.3 1250.7 L1734.7 1250.8 L1738.0 1250.9 L1741.4 1250.9 L1744.7 1251.0 L1748.1 1251.1 L1751.5 1251.1 L1754.9 1251.2 L1758.4 1251.3 L1761.8 1251.3 L1765.3 1251.4 L1768.8 1251.5 L1772.3 1251.5 L1775.8 1251.6 L1779.3 1251.6 L1782.9 1251.7 L1786.4 1251.7 L1790.0 1251.8 L1793.6 1251.9 L1797.1 1251.9 L1800.7 1252.0 L1804.4 1252.0 L1808.0 1252.1 L1811.6 1252.1 L1815.3 1252.1 L1818.9 1252.2 L1822.6 1252.2 L1826.3 1252.3 L1830.0 1252.3" stroke="#00ffff"/>
<path d="M503.0 40.0 L503.1 41.4 L503.2 43.1 L503.2 44.8 L503.3 46.7 L503.4 48.8 L503.5 51.0 L503.7 53.4 L503.8 55.8 L503.9 58.4 L504.0 61.1 L504.2 63.9 L504.3 66.8 L504.4 69.9 L504.6 73.3 L504.8 77.0 L504.9 81.0 L505.1 85.1 L505.3 89.6 L505.5 94.2 L505.7 99.0 L505.9 104.0 L506.1 109.2 L506.4 114.5 L506.6 120.0 L506.8 125.5 L507.1 131.1 L507.3 136.9 L507.6 142.6 L507.8 148.5 L508.1 154.3 L508.3 160.2 L508.6 166.0 L508.8 171.8 L509.1 177.6 L509.3 183.3 L509.6 188.9 L509.8 194.5 L510.1 199.9 L510.3 205.2 L510.6 210.4 L510.8 215.4 L511.1 220.4 L511.3 225.4 L511.6 230.3 L511.8 235.2 L512.0 240.1 L512.3 245.0 L512.5 249.8 L512.8 254.6 L513.0 259.5 L513.3 264.3 L513.5 269.1 L513.8 274.0 L514.0 278.9 L514.3 283.9 L514.6 288.8 L514.8 293.9 L515.1 299.0 L515.4 304.1 L515.7 309.3 L516.0 314.6 L516.3 320.0 L516.6 325.5 L516.9 331.0 L517.2 336.7 L517.6 342.5 L517.9 348.4 L518.3 354.5 L518.6 360.7 L519.0 367.2 L519.4 373.8 L519.8 380.6 L520.2 387.6 L520.7 394.7 L521.1 402.0 L521.6 409.4 L522.1 416.9 L522.5 424.5 L523.0 432.2 L523.5 440.1 L524.0 448.0 L524.6 455.9 L525.1 463.9 L525.6 472.0 L526.2 480.1 L526.7 488.3 L527.3 496.4 L527.8 504.6 L528.4 512.7 L528.9 520.9 L529.5 529.0 L530.1 537.1 L530.6 545.1 L531.2 553.1 L531.8 561.0 L532.3 568.8 L532.9 576.6 L533.5 584.2 L534.0 591.8 L534.6 599.2 L535.2 606.5 L535.7 613.7 L536.3 620.7 L536.8 627.5 L537.4 634.2 L537.9 640.7 L538.4 647.0 L539.0 653.2 L539.5 659.2 L540.0 665.1 L540.5 670.9 L541.0 676.6 L541.5 682.2 L542.0 687.7 L542.5 693.2 L543.0 698.6 L543.5 703.9 L544.0 709.2 L544.5 714.4 L545.0 719.6 L545.5 724.7 L546.0 729.8 L546.6 734.9 L547.1 739.9 L547.6 744.9 L548.1 749.9 L548.7 754.9 L549.2 759.9 L549.8 764.8 L550.4 769.8 L550.9 774.8 L551.5 779.9 L552.1 784.9 L552.8 790.0 L553.4 795.1 L554.0 800.2 L554.7 805.4 L555.4 810.7 L556.1 816.0 L556.8 821.3 L557.6 826.7 L558.3 832.2 L559.1 837.6 L559.9 843.0 L560.7 848.5 L561.6 853.9 L562.4 859.4 L563.3 864.8 L564.1 870.2 L565.0 875.5 L565.9 880.8 L566.8 886.0 L567.6 891.2 L568.5 896.3 L569.4 901.3 L570.3 906.3 L571.2 911.1 L572.1 915.9 L572.9 920.5 L573.8 925.0 L574.7 929.4 L575.6 933.6 L576.4 937.7 L577.3 941.6 L578.1 945.5 L579.0 949.3 L579.8 953.0 L580.7 956.6 L581.5 960.1 L582.4 963.6 L583.3 967.0 L584.1 970.3 L585.0 973.6 L585.8 976.8 L586.7 980.0 L587.6 983.0 L588.4 986.1 L589.3 989.0 L590.1 992.0 L591.0 994.8 L591.8 997.7 L592.6 1000.4 L593.4 1003.1 L594.2 1005.8 L595.0 1008.3 L595.8 1010.8 L596.6 1013.2 L597.3 1015.5 L598.1 1017.9 L598.9 1020.2 L599.7 1022.5 L600.5 1024.8 L601.3 1027.1 L602.2 1029.4 L603.0 1031.8 L603.9 1034.2 L604.9 1036.6 L605.8 1039.0 L606.8 1041.4 L607.9 1043.8 L608.9 1046.2 L609.9 1048.7 L611.0 1051.1 L612.1 1053.4 L613.2 1055.8 L614.3 1058.2 L615.3 1060.5 L616.4 1062.8 L617.5 1065.0 L618.6 1067.2 L619.7 1069.5 L620.8 1071.8 L622.0 1074.1 L623.1 1076.4 L624.3 1078.7 L625.4 1080.9 L626.6 1083.1 L627.7 1085.2 L628.8 1087.1 L629.9 1089.0 L631.0 1090.7 L632.0 1092.3 L633.0 1093.7 L634.0 1094.9 L634.9 1096.0 L635.8 1097.0 L636.7 1098.0 L637.6 1099.1 L638.6 1100.2 L639.7 1101.4 L640.8 1102.8 L642.0 1104.3 L643.3 1105.9 L644.7 1107.5 L646.0 1109.2 L647.4 1111.0 L648.9 1112.8 L650.3 1114.5 L651.8 1116.3 L653.3 1118.1 L654.7 1119.8 L656.2 1121.5 L657.6 1123.2 L659.1 1124.9 L660.5 1126.6 L662.0 1128.3 L663.5 1129.9 L665.0 1131.6 L666.5 1133.3 L668.0 1134.9 L669.5 1136.6 L671.0 1138.2 L672.5 1139.7 L674.1 1141.3 L675.6 1142.8 L677.2 1144.2 L678.7 1145.7 L680.3 1147.1 L681.9 1148.5 L683.5 1149.9 L685.0 1151.3 L686.6 1152.7 L688.2 1154.1 L689.8 1155.4 L691.4 1156.8 L693.0 1158.1 L694.6 1159.5 L696.2 1160.9 L697.8 1162.2 L699.3 1163.6 L700.9 1165.0 L702.5 1166.3 L704.1 1167.5 L705.8 1168.8 L707.4 1169.9 L709.1 1171.0 L710.7 1172.0 L712.4 1173.0 L714.1 1174.0 L715.8 1174.9 L717.6 1175.7 L719.3 1176.6 L721.1 1177.4 L722.8 1178.2 L724.5 1179.0 L726.3 1179.7 L728.0 1180.5 L729.8 1181.2 L731.6 1181.9 L733.4 1182.6 L735.1 1183.3 L736.9 1184.0 L738.7 1184.6 L740.5 1185.3 L742.2 1185.9 L743.9 1186.5 L745.6 1187.2 L747.3 1187.8 L748.9 1188.4 L750.5 1189.0 L752.1 1189.6 L753.7 1190.2 L755.3 1190.8 L756.9 1191.4 L758.4 1192.0 L760.0 1192.5 L761.6 1193.0 L763.1 1193.6 L764.6 1194.1 L766.1 1194.6 L767.7 1195.0 L769.2 1195.5 L770.9 1196.0 L772.6 1196.5 L774.4 1197.0 L776.4 1197.5 L778.5 1198.0 L780.7 1198.5 L783.0 1199.0 L785.5 1199.6 L787.9 1200.1 L790.4 1200.6 L793.0 1201.1 L795.5 1201.6 L798.1 1202.1 L800.6 1202.6 L803.1 1203.1 L805.6 1203.6 L808.0 1204.1 L810.4 1204.6 L812.7 1205.1 L815.1 1205.6 L817.5 1206.1 L819.9 1206.6 L822.3 1207.1 L824.7 1207.5 L827.1 1208.0 L829.5 1208.5 L831.9 1209.0 L834.3 1209.4 L836.7 1209.9 L839.1 1210.3 L841.5 1210.8 L843.9 1211.3 L846.3 1211.7 L848.7 1212.2 L851.1 1212.7 L853.5 1213.1 L855.9 1213.6 L858.3 1214.0 L860.7 1214.4 L863.1 1214.8 L865.5 1215.1 L867.9 1215.4 L870.3 1215.7 L872.8 1215.9 L875.2 1216.1 L877.6 1216.3 L880.0 1216.5 L882.4 1216.7 L884.8 1216.9 L887.3 1217.1 L889.7 1217.2 L892.1 1217.4 L894.5 1217.5 L896.9 1217.7 L899.3 1217.8 L901.8 1218.0 L904.2 1218.1 L906.6 1218.2 L909.1 1218.4 L911.5 1218.5 L914.0 1218.6 L916.4 1218.7 L918.8 1218.8 L921.3 1218.9 L923.7 1219.0 L926.1 1219.2 L928.5 1219.3 L930.8 1219.4 L933.2 1219.6 L935.5 1219.8 L937.8 1220.0 L940.0 1220.2 L942.3 1220.4 L944.6 1220.7 L946.8 1220.9 L949.1 1221.1 L951.3 1221.3 L953.6 1221.6 L955.9 1221.7 L958.2 1221.9 L960.5 1222.0 L962.9 1222.1 L965.3 1222.3 L967.7 1222.4 L970.1 1222.5 L972.5 1222.6 L974.9 1222.7 L977.4 1222.8 L979.8 1222.9 L982.3 1223.0 L984.7 1223.0 L987.1 1223.1 L989.6 1223.1 L992.0 1223.1 L994.4 1223.1 L996.8 1223.1 L999.3 1223.1 L1001.7 1223.1 L1004.1 1223.1 L1006.5 1223.1 L1008.9 1223.1 L1011.4 1223.1 L1013.8 1223.1 L1016.2 1223.1 L1018.6 1223.1 L1021.0 1223.1 L1023.4 1223.1 L1025.9 1223.1 L1028.3 1223.2 L1030.7 1223.2 L1033.1 1223.3 L1035.5 1223.4 L1037.9 1223.5 L1040.4 1223.6 L1042.8 1223.7 L1045.2 1223.7 L1047.6 1223.8 L1050.0 1223.9 L1052.4 1223.9 L1054.9 1223.9 L1057.3 1223.9 L1059.7 1223.9 L1062.1 1223.9 L1064.5 1223.9 L1067.0 1223.9 L1069.4 1223.9 L1071.8 1223.9 L1074.2 1223.9 L1076.6 1223.9 L1079.1 1223.9 L1081.5 1223.9 L1083.9 1223.9 L1086.3 1223.9 L1088.7 1223.9 L1091.2 1223.9 L1093.6 1223.8 L1096.0 1223.8 L1098.4 1223.7 L1100.8 1223.7 L1103.3 1223.6 L1105.7 1223.5 L1108.1 1223.5 L1110.5 1223.4 L1112.9 1223.3 L1115.4 1223.2 L1117.8 1223.1 L1120.2 1222.9 L1122.6 1222.8 L1125.0 1222.5 L1127.4 1222.3 L1129.8 1222.0 L1132.2 1221.7 L1134.7 1221.3 L1137.1 1221.0 L1139.5 1220.6 L1141.9 1220.2 L1144.3 1219.9 L1146.7 1219.5 L1149.1 1219.2 L1151.5 1218.8 L1154.0 1218.4 L1156.5 1218.0 L1159.0 1217.6 L1161.5 1217.2 L1164.0 1216.8 L1166.5 1216.4 L1168.9 1216.0 L1171.3 1215.5 L1173.7 1215.1 L1176.0 1214.7 L1178.2 1214.4 L1180.4 1214.0 L1182.4 1213.7 L1184.4 1213.4 L1186.3 1213.1 L1188.2 1212.8 L1190.0 1212.5 L1191.8 1212.3 L1193.6 1212.0 L1195.5 1211.7 L1197.3 1211.3 L1199.3 1210.9 L1201.3 1210.5 L1203.4 1210.0 L1205.5 1209.5 L1207.7 1208.8 L1209.9 1208.2 L1212.1 1207.5 L1214.3 1206.8 L1216.5 1206.1 L1218.7 1205.3 L1221.0 1204.6 L1223.2 1203.9 L1225.4 1203.2 L1227.6 1202.5 L1229.8 1201.9 L1231.9 1201.2 L1234.1 1200.6 L1236.3 1199.9 L1238.5 1199.3 L1240.7 1198.6 L1242.8 1198.0 L1245.0 1197.3 L1247.2 1196.7 L1249.4 1196.0 L1251.6 1195.3 L1253.8 1194.7 L1255.9 1194.0 L1258.1 1193.4 L1260.3 1192.7 L1262.5 1192.1 L1264.7 1191.4 L1266.8 1190.8 L1269.0 1190.1 L1271.2 1189.5 L1273.4 1188.8 L1275.6 1188.2 L1277.7 1187.5 L1279.9 1186.9 L1282.1 1186.2 L1284.3 1185.5 L1286.5 1184.9 L1288.6 1184.2 L1290.8 1183.5 L1293.0 1182.9 L1295.2 1182.2 L1297.4 1181.5 L1299.5 1180.9 L1301.7 1180.2 L1303.9 1179.6 L1306.1 1179.0 L1308.3 1178.4 L1310.5 1177.8 L1312.7 1177.2 L1314.8 1176.6 L1317.0 1176.1 L1319.2 1175.5 L1321.4 1175.0 L1323.6 1174.4 L1325.8 1173.9 L1328.0 1173.4 L1330.2 1172.8 L1332.4 1172.3 L1334.6 1171.9 L1336.8 1171.4 L1339.0 1170.9 L1341.2 1170.4 L1343.4 1170.0 L1345.6 1169.5 L1347.8 1169.1 L1350.0 1168.7 L1352.3 1168.2 L1354.5 1167.8 L1356.7 1167.4 L1358.9 1167.0 L1361.1 1166.6 L1363.4 1166.3 L1365.7 1165.9 L1368.0 1165.6 L1370.3 1165.2 L1372.6 1164.9 L1375.0 1164.6 L1377.2 1164.2 L1379.4 1163.9 L1381.6 1163.6 L1383.7 1163.3 L1385.7 1163.0 L1387.6 1162.7 L1389.3 1162.4 L1391.0 1162.1 L1392.6 1161.8 L1394.1 1161.5 L1395.7 1161.2 L1397.2 1160.9 L1398.8 1160.6 L1400.5 1160.4 L1402.2 1160.2 L1404.0 1160.0 L1405.9 1159.8 L1407.7 1159.6 L1409.6 1159.4 L1411.6 1159.2 L1413.5 1159.1 L1415.5 1159.0 L1417.4 1158.9 L1419.4 1158.8 L1421.3 1158.8 L1423.3 1158.8 L1425.3 1159.0 L1427.3 1159.1 L1429.4 1159.3 L1431.4 1159.6 L1433.4 1159.9 L1435.5 1160.2 L1437.4 1160.6 L1439.4 1160.9 L1441.3 1161.3 L1443.2 1161.6 L1445.1 1162.1 L1446.9 1162.6 L1448.6 1163.1 L1450.4 1163.8 L1452.2 1164.4 L1453.9 1165.1 L1455.6 1165.8 L1457.4 1166.6 L1459.1 1167.3 L1460.8 1168.0 L1462.6 1168.8 L1464.3 1169.6 L1466.1 1170.4 L1467.8 1171.2 L1469.5 1172.1 L1471.2 1173.0 L1473.0 1173.9 L1474.7 1174.8 L1476.4 1175.7 L1478.1 1176.6 L1479.8 1177.6 L1481.5 1178.5 L1483.2 1179.5 L1484.9 1180.5 L1486.6 1181.5 L1488.3 1182.5 L1489.9 1183.5 L1491.6 1184.6 L1493.3 1185.7 L1494.9 1186.7 L1496.6 1187.8 L1498.3 1188.9 L1499.9 1190.0 L1501.6 1191.2 L1503.2 1192.4 L1504.8 1193.5 L1506.5 1194.7 L1508.1 1195.9 L1509.8 1197.1 L1511.4 1198.3 L1513.1 1199.4 L1514.7 1200.5 L1516.4 1201.7 L1518.0 1202.8 L1519.7 1203.9 L1521.4 1205.1 L1523.0 1206.2 L1524.7 1207.3 L1526.4 1208.4 L1528.0 1209.4 L1529.7 1210.4 L1531.4 1211.4 L1533.1 1212.2 L1534.8 1213.1 L1536.4 1213.9 L1538.1 1214.7 L1539.8 1215.5 L1541.5 1216.3 L1543.2 1217.0 L1545.0 1217.8 L1546.8 1218.5 L1548.7 1219.2 L1550.7 1219.9 L1552.8 1220.7 L1554.9 1221.5 L1557.2 1222.2 L1559.5 1223.0 L1561.8 1223.8 L1564.2 1224.5 L1566.7 1225.3 L1569.1 1226.0 L1571.6 1226.6 L1574.0 1227.2 L1576.5 1227.7 L1578.9 1228.1 L1581.3 1228.5 L1583.6 1228.8 L1586.0 1229.1 L1588.4 1229.4 L1590.8 1229.7 L1593.2 1229.9 L1595.6 1230.1 L1598.1 1230.3 L1600.5 1230.5 L1603.0 1230.8 L1605.4 1231.0 L1607.9 1231.2 L1610.4 1231.4 L1613.0 1231.6 L1615.5 1231.8 L1618.1 1232.0 L1620.6 1232.2 L1623.2 1232.5 L1625.8 1232.7 L1628.4 1232.9 L1631.1 1233.1 L1633.7 1233.3 L1636.4 1233.5 L1639.1 1233.7 L1641.8 1233.8 L1644.6 1234.0 L1647.4 1234.2 L1650.2 1234.3 L1653.0 1234.4 L1655.9 1234.6 L1658.8 1234.7 L1661.8 1234.8 L1664.8 1234.9 L1667.8 1235.0 L1670.8 1235.1 L1673.9 1235.2 L1677.0 1235.3 L1680.0 1235.4 L1683.1 1235.5 L1686.2 1235.6 L1689.3 1235.7 L1692.4 1235.8 L1695.4 1236.0 L1698.5 1236.1 L1701.5 1236.2 L1704.5 1236.3 L1707.6 1236.5 L1710.6 1236.6 L1713.7 1236.7 L1716.7 1236.9 L1719.8 1237.0 L1722.8 1237.2 L1725.9 1237.3 L1728.9 1237.5 L1732.0 1237.6 L1735.0 1237.7 L1738.1 1237.9 L1741.1 1238.0 L1744.1 1238.1 L1747.1 1238.2 L1750.2 1238.3 L1753.2 1238.5 L1756.2 1238.6 L1759.3 1238.7 L1762.3 1238.7 L1765.4 1238.8 L1768.5 1238.9 L1771.5 1239.0 L1774.5 1239.1 L1777.6 1239.2 L1780.5 1239.3 L1783.5 1239.4 L1786.4 1239.4 L1789.3 1239.5 L1792.1 1239.6 L1794.9 1239.7 L1797.6 1239.7 L1800.3 1239.8 L1802.9 1239.9 L1805.6 1239.9 L1808.1 1240.0 L1810.7 1240.1 L1813.2 1240.1 L1815.7 1240.2 L1818.2 1240.2 L1820.6 1240.3 L1823.0 1240.4 L1825.4 1240.4 L1827.7 1240.5 L1830.0 1240.5" stroke="#ff0080"/>
<path d="M502.3 40.0 L502.4 41.4 L502.4 43.0 L502.5 44.7 L502.6 46.6 L502.7 48.6 L502.8 50.7 L502.9 52.9 L503.0 55.3 L503.1 57.8 L503.2 60.4 L503.3 63.2 L503.5 66.0 L503.6 68.9 L503.7 72.1 L503.9 75.6 L504.0 79.4 L504.2 83.4 L504.4 87.6 L504.6 92.0 L504.8 96.7 L505.0 101.5 L505.2 106.4 L505.4 111.5 L505.6 116.8 L505.8 122.1 L506.1 127.6 L506.3 133.1 L506.6 138.7 L506.8 144.4 L507.0 150.0 L507.3 155.8 L507.5 161.5 L507.8 167.2 L508.0 172.8 L508.3 178.4 L508.5 184.0 L508.7 189.5 L509.0 194.9 L509.2 200.2 L509.4 205.3 L509.7 210.4 L509.9 215.3 L510.1 220.2 L510.3 225.1 L510.6 229.9 L510.8 234.7 L511.0 239.4 L511.2 244.2 L511.4 248.9 L511.6 253.6 L511.8 258.3 L512.1 263.0 L512.3 267.8 L512.5 272.5 L512.7 277.3 L512.9 282.1 L513.2 286.9 L513.4 291.8 L513.6 296.8 L513.9 301.8 L514.1 306.8 L514.4 311.9 L514.7 317.2 L514.9 322.4 L515.2 327.8 L515.5 333.3 L515.8 338.9 L516.1 344.6 L516.4 350.4 L516.8 356.4 L517.1 362.5 L517.5 368.9 L517.8 375.4 L518.2 382.1 L518.7 388.9 L519.1 395.9 L519.5 403.0 L520.0 410.2 L520.4 417.5 L520.9 425.0 L521.4 432.5 L521.9 440.2 L522.4 447.9 L522.9 455.6 L523.5 463.5 L524.0 471.3 L524.5 479.2 L525.1 487.2 L525.6 495.1 L526.2 503.1 L526.8 511.0 L527.3 519.0 L527.9 526.9 L528.5 534.8 L529.0 542.7 L529.6 550.5 L530.2 558.2 L530.8 565.9 L531.3 573.5 L531.9 581.0 L532.5 588.4 L533.0 595.7 L533.6 602.9 L534.1 610.0 L534.7 616.9 L535.2 623.6 L535.8 630.3 L536.3 636.7 L536.8 643.0 L537.3 649.1 L537.8 655.0 L538.3 660.8 L538.8 666.6 L539.3 672.2 L539.8 677.8 L540.3 683.2 L540.7 688.6 L541.2 694.0 L541.7 699.2 L542.1 704.4 L542.6 709.5 L543.1 714.6 L543.5 719.7 L544.0 724.7 L544.5 729.6 L545.0 734.6 L545.4 739.5 L545.9 744.4 L546.4 749.3 L546.9 754.1 L547.4 759.0 L547.9 763.8 L548.5 768.7 L549.0 773.6 L549.5 778.5 L550.1 783.4 L550.6 788.3 L551.2 793.3 L551.8 798.3 L552.4 803.4 L553.0 808.5 L553.7 813.7 L554.3 818.9 L555.0 824.1 L555.7 829.4 L556.4 834.7 L557.1 840.0 L557.8 845.3 L558.6 850.7 L559.3 856.0 L560.1 861.3 L560.8 866.5 L561.6 871.8 L562.4 877.0 L563.2 882.1 L563.9 887.2 L564.7 892.3 L565.5 897.3 L566.3 902.1 L567.1 907.0 L567.9 911.7 L568.6 916.3 L569.4 920.8 L570.2 925.2 L571.0 929.5 L571.7 933.6 L572.4 937.6 L573.2 941.5 L573.9 945.3 L574.7 949.0 L575.4 952.6 L576.1 956.1 L576.9 959.6 L577.6 963.0 L578.4 966.4 L579.1 969.6 L579.8 972.9 L580.6 976.0 L581.3 979.1 L582.0 982.1 L582.8 985.1 L583.5 988.1 L584.2 990.9 L584.9 993.8 L585.6 996.6 L586.3 999.3 L587.0 1002.0 L587.7 1004.6 L588.3 1007.1 L589.0 1009.6 L589.6 1012.0 L590.2 1014.3 L590.8 1016.6 L591.5 1018.9 L592.1 1021.2 L592.8 1023.5 L593.5 1025.7 L594.2 1028.0 L594.9 1030.3 L595.7 1032.6 L596.5 1034.9 L597.3 1037.3 L598.2 1039.7 L599.2 1042.0 L600.1 1044.4 L601.1 1046.8 L602.2 1049.1 L603.2 1051.5 L604.2 1053.8 L605.3 1056.1 L606.3 1058.4 L607.3 1060.7 L608.3 1062.9 L609.3 1065.1 L610.2 1067.3 L611.2 1069.5 L612.1 1071.7 L613.0 1073.8 L613.9 1075.9 L614.8 1078.1 L615.7 1080.1 L616.6 1082.2 L617.5 1084.3 L618.4 1086.3 L619.4 1088.2 L620.3 1090.2 L621.3 1092.1 L622.4 1094.0 L623.4 1095.8 L624.5 1097.7 L625.6 1099.4 L626.7 1101.2 L627.8 1102.9 L629.0 1104.6 L630.1 1106.3 L631.3 1108.0 L632.5 1109.7 L633.6 1111.4 L634.8 1113.1 L635.9 1114.8 L637.1 1116.5 L638.3 1118.2 L639.5 1119.9 L640.7 1121.6 L641.9 1123.3 L643.1 1125.0 L644.4 1126.6 L645.6 1128.2 L646.8 1129.8 L648.0 1131.3 L649.2 1132.8 L650.4 1134.3 L651.6 1135.8 L652.9 1137.3 L654.1 1138.7 L655.3 1140.1 L656.6 1141.5 L657.7 1142.8 L658.8 1144.1 L659.9 1145.3 L660.9 1146.4 L661.8 1147.5 L662.6 1148.5 L663.4 1149.4 L664.2 1150.3 L665.0 1151.3 L665.8 1152.3 L666.7 1153.3 L667.8 1154.5 L668.9 1155.8 L670.0 1157.1 L671.2 1158.4 L672.5 1159.8 L673.8 1161.3 L675.1 1162.7 L676.5 1164.1 L677.9 1165.4 L679.3 1166.7 L680.8 1168.0 L682.3 1169.2 L683.9 1170.4 L685.6 1171.6 L687.3 1172.7 L689.0 1173.9 L690.8 1175.1 L692.6 1176.2 L694.4 1177.3 L696.1 1178.4 L697.9 1179.6 L699.6 1180.7 L701.4 1181.8 L703.1 1183.0 L704.8 1184.1 L706.5 1185.3 L708.2 1186.5 L709.9 1187.6 L711.6 1188.7 L713.4 1189.8 L715.1 1190.9 L716.8 1191.9 L718.6 1192.8 L720.4 1193.7 L722.1 1194.6 L723.9 1195.4 L725.7 1196.2 L727.5 1197.0 L729.3 1197.7 L731.1 1198.4 L732.9 1199.1 L734.7 1199.8 L736.6 1200.4 L738.4 1201.0 L740.2 1201.6 L742.0 1202.2 L743.9 1202.8 L745.7 1203.3 L747.5 1203.8 L749.4 1204.3 L751.2 1204.8 L753.1 1205.3 L754.9 1205.8 L756.8 1206.2 L758.6 1206.6 L760.4 1207.1 L762.3 1207.5 L764.1 1207.8 L765.9 1208.2 L767.7 1208.6 L769.5 1208.9 L771.4 1209.2 L773.2 1209.6 L775.1 1209.9 L777.0 1210.3 L779.0 1210.7 L781.0 1211.1 L783.0 1211.4 L785.1 1211.8 L787.2 1212.2 L789.4 1212.6 L791.5 1213.0 L793.7 1213.4 L795.9 1213.8 L798.1 1214.2 L800.4 1214.7 L802.6 1215.1 L804.8 1215.5 L807.1 1215.9 L809.4 1216.4 L811.7 1216.9 L814.0 1217.4 L816.3 1217.9 L818.6 1218.4 L821.0 1219.0 L823.4 1219.5 L825.7 1220.0 L828.1 1220.4 L830.5 1220.9 L832.8 1221.3 L835.2 1221.7 L837.5 1222.0 L839.9 1222.3 L842.2 1222.6 L844.6 1222.8 L846.9 1223.1 L849.3 1223.3 L851.7 1223.5 L854.0 1223.8 L856.4 1224.0 L858.7 1224.2 L861.1 1224.4 L863.5 1224.6 L865.8 1224.8 L868.2 1225.0 L870.5 1225.3 L872.9 1225.5 L875.2 1225.8 L877.6 1226.0 L879.9 1226.3 L882.3 1226.6 L884.6 1226.8 L887.0 1227.1 L889.4 1227.3 L891.7 1227.6 L894.1 1227.8 L896.4 1228.0 L898.8 1228.2 L901.1 1228.3 L903.5 1228.5 L905.9 1228.6 L908.3 1228.8 L910.6 1228.9 L913.0 1229.0 L915.4 1229.1 L917.8 1229.2 L920.1 1229.3 L922.5 1229.4 L924.9 1229.5 L927.2 1229.6 L929.5 1229.8 L931.8 1229.9 L934.1 1230.0 L936.3 1230.2 L938.5 1230.4 L940.6 1230.6 L942.7 1230.7 L944.9 1230.9 L947.0 1231.1 L949.2 1231.3 L951.4 1231.5 L953.7 1231.6 L956.0 1231.8 L958.4 1231.9 L960.9 1232.0 L963.5 1232.1 L966.1 1232.2 L968.9 1232.3 L971.7 1232.4 L974.5 1232.5 L977.4 1232.6 L980.4 1232.6 L983.3 1232.7 L986.4 1232.8 L989.4 1232.8 L992.4 1232.9 L995.4 1233.0 L998.4 1233.1 L1001.4 1233.1 L1004.3 1233.2 L1007.2 1233.3 L1010.1 1233.4 L1013.0 1233.5 L1015.9 1233.6 L1018.8 1233.7 L1021.7 1233.9 L1024.6 1234.0 L1027.5 1234.1 L1030.4 1234.3 L1033.2 1234.4 L1036.1 1234.5 L1039.0 1234.6 L1041.9 1234.7 L1044.8 1234.8 L1047.7 1234.8 L1050.6 1234.9 L1053.5 1234.9 L1056.4 1234.9 L1059.3 1234.9 L1062.2 1234.9 L1065.0 1234.9 L1067.9 1234.9 L1070.8 1234.9 L1073.7 1234.9 L1076.6 1234.9 L1079.5 1234.9 L1082.4 1234.9 L1085.3 1234.9 L1088.2 1234.9 L1091.1 1234.9 L1094.0 1234.9 L1096.9 1234.9 L1099.8 1234.9 L1102.7 1234.9 L1105.6 1234.9 L1108.5 1234.9 L1111.5 1234.8 L1114.5 1234.7 L1117.5 1234.7 L1120.5 1234.6 L1123.4 1234.5 L1126.4 1234.4 L1129.4 1234.3 L1132.3 1234.1 L1135.2 1234.0 L1138.0 1233.9 L1140.8 1233.7 L1143.6 1233.6 L1146.3 1233.4 L1148.9 1233.3 L1151.5 1233.1 L1154.0 1232.9 L1156.5 1232.7 L1159.0 1232.5 L1161.5 1232.2 L1163.9 1231.9 L1166.3 1231.7 L1168.6 1231.4 L1170.9 1231.1 L1173.1 1230.8 L1175.3 1230.5 L1177.5 1230.3 L1179.6 1230.1 L1181.7 1229.9 L1183.6 1229.7 L1185.5 1229.5 L1187.4 1229.4 L1189.2 1229.3 L1190.9 1229.1 L1192.7 1229.0 L1194.5 1228.8 L1196.3 1228.6 L1198.2 1228.4 L1200.2 1228.2 L1202.2 1227.9 L1204.2 1227.5 L1206.3 1227.1 L1208.5 1226.6 L1210.6 1226.0 L1212.8 1225.5 L1215.0 1224.9 L1217.2 1224.2 L1219.3 1223.6 L1221.5 1223.0 L1223.7 1222.3 L1225.9 1221.7 L1228.0 1221.1 L1230.1 1220.5 L1232.3 1219.9 L1234.4 1219.3 L1236.5 1218.7 L1238.6 1218.0 L1240.8 1217.4 L1242.9 1216.7 L1245.0 1216.1 L1247.1 1215.4 L1249.3 1214.8 L1251.4 1214.1 L1253.5 1213.5 L1255.7 1212.8 L1257.8 1212.2 L1259.9 1211.6 L1262.0 1210.9 L1264.2 1210.3 L1266.3 1209.6 L1268.4 1209.0 L1270.5 1208.4 L1272.7 1207.7 L1274.8 1207.1 L1276.9 1206.5 L1279.1 1205.8 L1281.2 1205.2 L1283.3 1204.5 L1285.4 1203.9 L1287.6 1203.2 L1289.7 1202.6 L1291.8 1201.9 L1293.9 1201.3 L1296.1 1200.6 L1298.2 1200.0 L1300.3 1199.3 L1302.5 1198.7 L1304.6 1198.1 L1306.7 1197.5 L1308.9 1196.9 L1311.0 1196.3 L1313.1 1195.8 L1315.3 1195.2 L1317.4 1194.6 L1319.5 1194.0 L1321.7 1193.5 L1323.8 1192.9 L1326.0 1192.4 L1328.1 1191.9 L1330.3 1191.4 L1332.4 1191.0 L1334.6 1190.6 L1336.7 1190.2 L1338.9 1189.9 L1341.0 1189.5 L1343.2 1189.2 L1345.4 1188.9 L1347.5 1188.6 L1349.7 1188.3 L1351.8 1188.0 L1354.0 1187.7 L1356.2 1187.4 L1358.3 1187.1 L1360.5 1186.8 L1362.7 1186.4 L1364.9 1186.1 L1367.2 1185.7 L1369.5 1185.4 L1371.7 1185.0 L1374.0 1184.7 L1376.2 1184.3 L1378.4 1184.0 L1380.6 1183.7 L1382.6 1183.4 L1384.6 1183.1 L1386.5 1182.8 L1388.3 1182.6 L1390.0 1182.4 L1391.6 1182.2 L1393.1 1182.0 L1394.6 1181.8 L1396.1 1181.7 L1397.6 1181.5 L1399.2 1181.3 L1400.9 1181.1 L1402.7 1181.0 L1404.6 1180.8 L1406.5 1180.6 L1408.5 1180.4 L1410.5 1180.2 L1412.6 1180.0 L1414.7 1179.8 L1416.8 1179.7 L1418.9 1179.6 L1421.0 1179.5 L1423.1 1179.4 L1425.1 1179.4 L1427.1 1179.5 L1429.2 1179.6 L1431.2 1179.9 L1433.3 1180.2 L1435.4 1180.6 L1437.4 1181.1 L1439.5 1181.5 L1441.5 1182.0 L1443.4 1182.6 L1445.4 1183.1 L1447.2 1183.6 L1449.1 1184.2 L1450.8 1184.8 L1452.6 1185.5 L1454.3 1186.3 L1456.0 1187.1 L1457.6 1188.0 L1459.3 1188.9 L1460.9 1189.9 L1462.5 1190.8 L1464.2 1191.8 L1465.8 1192.8 L1467.4 1193.8 L1469.1 1194.8 L1470.7 1195.9 L1472.3 1197.0 L1473.9 1198.2 L1475.5 1199.3 L1477.1 1200.5 L1478.7 1201.7 L1480.3 1202.9 L1481.9 1204.0 L1483.5 1205.2 L1485.1 1206.3 L1486.7 1207.4 L1488.3 1208.6 L1489.9 1209.7 L1491.5 1210.8 L1493.1 1211.9 L1494.8 1213.1 L1496.4 1214.2 L1498.0 1215.3 L1499.6 1216.4 L1501.2 1217.6 L1502.8 1218.7 L1504.4 1219.9 L1506.0 1221.0 L1507.6 1222.2 L1509.2 1223.4 L1510.8 1224.6 L1512.4 1225.7 L1514.0 1226.9 L1515.6 1227.9 L1517.2 1229.0 L1518.9 1230.0 L1520.5 1231.0 L1522.2 1231.9 L1523.8 1232.9 L1525.5 1233.8 L1527.1 1234.7 L1528.8 1235.6 L1530.5 1236.4 L1532.2 1237.2 L1533.9 1237.9 L1535.6 1238.6 L1537.3 1239.2 L1539.0 1239.8 L1540.7 1240.3 L1542.4 1240.8 L1544.1 1241.3 L1545.8 1241.8 L1547.6 1242.2 L1549.3 1242.6 L1551.1 1243.0 L1553.0 1243.3 L1554.9 1243.6 L1556.8 1243.8 L1558.8 1244.1 L1560.8 1244.3 L1562.8 1244.4 L1564.9 1244.6 L1567.0 1244.8 L1569.1 1244.9 L1571.3 1245.1 L1573.5 1245.2 L1575.7 1245.4 L1577.9 1245.5 L1580.1 1245.7 L1582.4 1245.9 L1584.7 1246.1 L1587.0 1246.2 L1589.4 1246.4 L1591.8 1246.6 L1594.2 1246.8 L1596.7 1247.0 L1599.1 1247.2 L1601.5 1247.3 L1604.0 1247.5 L1606.4 1247.7 L1608.7 1247.8 L1611.0 1247.9 L1613.3 1248.1 L1615.5 1248.2 L1617.7 1248.3 L1619.8 1248.4 L1621.8 1248.5 L1623.9 1248.6 L1626.0 1248.7 L1628.1 1248.8 L1630.3 1248.9 L1632.5 1249.0 L1634.8 1249.1 L1637.3 1249.2 L1639.8 1249.3 L1642.5 1249.4 L1645.3 1249.5 L1648.3 1249.6 L1651.5 1249.8 L1654.7 1249.9 L1658.0 1250.0 L1661.4 1250.1 L1664.8 1250.2 L1668.3 1250.3 L1671.8 1250.4 L1675.3 1250.6 L1678.7 1250.7 L1682.2 1250.8 L1685.6 1250.9 L1688.9 1251.0 L1692.2 1251.1 L1695.3 1251.2 L1698.3 1251.3 L1701.2 1251.4 L1704.0 1251.5 L1706.7 1251.5 L1709.3 1251.6 L1711.9 1251.7 L1714.4 1251.8 L1716.9 1251.9 L1719.4 1251.9 L1722.0 1252.0 L1724.5 1252.1 L1727.2 1252.2 L1729.9 1252.2 L1732.7 1252.3 L1735.6 1252.4 L1738.6 1252.5 L1741.8 1252.5 L1745.0 1252.6 L1748.3 1252.7 L1751.8 1252.8 L1755.2 1252.8 L1758.8 1252.9 L1762.4 1253.0 L1766.1 1253.1 L1769.9 1253.2 L1773.7 1253.2 L1777.6 1253.3 L1781.6 1253.4 L1785.7 1253.5 L1789.8 1253.5 L1794.0 1253.6 L1798.3 1253.7 L1802.6 1253.8 L1807.0 1253.8 L1811.5 1253.9 L1816.0 1254.0 L1820.6 1254.1 L1825.3 1254.1 L1830.0 1254.2" stroke="#ff8000"/>
<path d="M532.2 40.0 L532.4 41.9 L532.6 44.0 L532.8 46.1 L533.0 48.3 L533.2 50.6 L533.4 53.0 L533.7 55.4 L534.0 57.9 L534.2 60.6 L534.5 63.2 L534.8 66.0 L535.1 68.9 L535.4 71.9 L535.8 75.0 L536.2 78.2 L536.6 81.6 L537.0 85.1 L537.4 88.7 L537.9 92.3 L538.3 96.0 L538.8 99.8 L539.3 103.6 L539.7 107.4 L540.2 111.3 L540.6 115.2 L541.1 119.1 L541.5 123.0 L541.9 126.8 L542.3 130.7 L542.6 134.5 L543.0 138.5 L543.4 142.4 L543.8 146.4 L544.2 150.5 L544.6 154.6 L544.9 158.7 L545.3 162.8 L545.7 166.9 L546.0 171.1 L546.4 175.3 L546.7 179.4 L547.1 183.6 L547.4 187.8 L547.7 191.9 L548.0 196.1 L548.3 200.3 L548.6 204.4 L548.9 208.5 L549.1 212.6 L549.4 216.7 L549.7 220.8 L549.9 225.0 L550.1 229.1 L550.4 233.3 L550.6 237.5 L550.8 241.6 L551.0 245.8 L551.2 250.0 L551.4 254.1 L551.6 258.2 L551.9 262.3 L552.0 266.4 L552.2 270.4 L552.4 274.4 L552.6 278.4 L552.8 282.3 L553.0 286.2 L553.2 290.0 L553.4 293.7 L553.5 297.2 L553.7 300.6 L553.9 303.9 L554.0 307.1 L554.2 310.4 L554.3 313.6 L554.5 316.9 L554.6 320.2 L554.8 323.5 L554.9 327.0 L555.1 330.6 L555.3 334.4 L555.4 338.4 L555.6 342.6 L555.9 347.0 L556.1 351.7 L556.3 356.8 L556.6 362.3 L556.9 368.2 L557.2 374.4 L557.5 380.9 L557.9 387.7 L558.2 394.8 L558.6 402.2 L559.0 409.9 L559.4 417.8 L559.8 425.9 L560.2 434.2 L560.6 442.6 L561.1 451.2 L561.6 460.0 L562.0 468.9 L562.5 477.8 L563.0 486.9 L563.5 496.0 L564.0 505.1 L564.4 514.3 L565.0 523.4 L565.5 532.5 L566.0 541.6 L566.5 550.7 L567.0 559.6 L567.5 568.5 L568.0 577.2 L568.5 585.8 L569.0 594.2 L569.6 602.5 L570.1 610.6 L570.6 618.4 L571.1 626.0 L571.5 633.4 L572.0 640.5 L572.5 647.3 L573.0 653.8 L573.4 660.2 L573.9 666.4 L574.4 672.6 L574.9 678.6 L575.4 684.6 L575.9 690.5 L576.3 696.2 L576.8 701.9 L577.3 707.6 L577.8 713.1 L578.3 718.6 L578.8 724.1 L579.3 729.5 L579.8 734.9 L580.3 740.3 L580.8 745.6 L581.3 750.9 L581.8 756.2 L582.3 761.5 L582.9 766.8 L583.4 772.2 L583.9 777.5 L584.4 782.9 L584.9 788.3 L585.4 793.7 L585.9 799.2 L586.4 804.7 L586.9 810.3 L587.4 816.0 L587.9 821.7 L588.4 827.5 L588.9 833.3 L589.4 839.1 L589.8 844.9 L590.3 850.7 L590.8 856.6 L591.3 862.4 L591.8 868.1 L592.3 873.9 L592.8 879.5 L593.3 885.1 L593.8 890.7 L594.3 896.2 L594.8 901.5 L595.4 906.8 L596.0 912.0 L596.5 917.0 L597.1 921.9 L597.7 926.7 L598.4 931.3 L599.0 935.7 L599.7 940.0 L600.4 944.2 L601.2 948.2 L601.9 952.2 L602.8 956.1 L603.6 959.8 L604.5 963.6 L605.4 967.2 L606.3 970.7 L607.3 974.2 L608.3 977.6 L609.3 980.9 L610.3 984.2 L611.3 987.4 L612.3 990.5 L613.3 993.6 L614.3 996.6 L615.3 999.5 L616.4 1002.4 L617.4 1005.2 L618.5 1007.8 L619.6 1010.4 L620.7 1012.9 L621.8 1015.4 L623.0 1017.8 L624.1 1020.3 L625.3 1022.6 L626.4 1025.0 L627.6 1027.5 L628.7 1029.9 L629.8 1032.4 L630.9 1034.9 L632.1 1037.4 L633.3 1040.0 L634.4 1042.6 L635.6 1045.1 L636.8 1047.7 L638.0 1050.2 L639.1 1052.8 L640.2 1055.3 L641.3 1057.8 L642.3 1060.3 L643.3 1062.8 L644.2 1065.2 L645.1 1067.6 L645.9 1070.0 L646.6 1072.4 L647.3 1074.8 L648.0 1077.1 L648.7 1079.5 L649.4 1081.8 L650.0 1084.1 L650.7 1086.4 L651.4 1088.6 L652.0 1090.8 L652.7 1092.9 L653.5 1095.1 L654.2 1097.1 L654.9 1099.2 L655.6 1101.2 L656.3 1103.2 L657.0 1105.2 L657.7 1107.2 L658.5 1109.1 L659.2 1111.1 L660.0 1113.1 L660.8 1115.0 L661.6 1117.0 L662.5 1119.0 L663.3 1120.9 L664.2 1122.9 L665.1 1124.8 L665.9 1126.7 L666.8 1128.6 L667.7 1130.4 L668.6 1132.2 L669.5 1133.9 L670.4 1135.6 L671.3 1137.2 L672.3 1138.8 L673.2 1140.4 L674.1 1142.0 L675.0 1143.5 L675.9 1145.1 L676.8 1146.6 L677.6 1148.0 L678.3 1149.4 L679.0 1150.8 L679.8 1152.1 L680.5 1153.5 L681.4 1154.9 L682.3 1156.4 L683.4 1158.0 L684.6 1159.6 L686.0 1161.4 L687.5 1163.2 L689.1 1165.1 L690.8 1166.9 L692.5 1168.8 L694.3 1170.6 L696.0 1172.4 L697.8 1174.1 L699.5 1175.7 L701.2 1177.1 L702.9 1178.6 L704.6 1179.9 L706.3 1181.3 L708.1 1182.6 L709.8 1183.9 L711.6 1185.1 L713.4 1186.2 L715.2 1187.3 L717.0 1188.3 L718.8 1189.3 L720.6 1190.2 L722.4 1191.1 L724.2 1191.9 L726.0 1192.7 L727.9 1193.4 L729.8 1194.1 L731.7 1194.8 L733.6 1195.5 L735.6 1196.1 L737.6 1196.7 L739.7 1197.3 L741.9 1197.9 L744.1 1198.5 L746.3 1199.0 L748.5 1199.5 L750.8 1200.0 L753.1 1200.5 L755.3 1200.9 L757.6 1201.3 L759.8 1201.6 L762.0 1201.8 L764.1 1202.0 L766.3 1202.2 L768.5 1202.3 L770.6 1202.5 L772.8 1202.6 L774.9 1202.8 L777.1 1202.9 L779.2 1203.1 L781.4 1203.3 L783.6 1203.5 L785.9 1203.8 L788.1 1204.1 L790.4 1204.5 L792.7 1204.8 L795.0 1205.2 L797.3 1205.6 L799.5 1206.1 L801.6 1206.5 L803.7 1206.9 L805.8 1207.4 L807.7 1207.8 L809.6 1208.3 L811.4 1208.8 L813.2 1209.3 L814.9 1209.8 L816.6 1210.4 L818.4 1211.0 L820.1 1211.6 L821.9 1212.2 L823.6 1212.8 L825.4 1213.5 L827.1 1214.2 L828.9 1215.0 L830.6 1215.7 L832.4 1216.4 L834.1 1217.2 L835.9 1217.8 L837.6 1218.5 L839.4 1219.1 L841.1 1219.7 L842.8 1220.3 L844.5 1220.8 L846.3 1221.4 L848.0 1221.9 L849.9 1222.4 L851.7 1222.8 L853.7 1223.2 L855.7 1223.6 L857.9 1224.0 L860.0 1224.3 L862.3 1224.7 L864.6 1225.0 L866.9 1225.3 L869.2 1225.6 L871.5 1225.8 L873.8 1226.0 L876.0 1226.2 L878.2 1226.3 L880.5 1226.4 L882.7 1226.5 L884.9 1226.6 L887.2 1226.7 L889.4 1226.8 L891.6 1226.9 L893.8 1226.9 L896.1 1227.0 L898.3 1227.0 L900.5 1227.0 L902.8 1227.0 L905.0 1227.0 L907.2 1226.9 L909.5 1226.9 L911.7 1226.8 L913.9 1226.7 L916.1 1226.6 L918.4 1226.5 L920.6 1226.4 L922.8 1226.3 L925.1 1226.1 L927.3 1226.0 L929.7 1225.7 L932.0 1225.5 L934.3 1225.2 L936.7 1224.8 L939.0 1224.5 L941.2 1224.1 L943.3 1223.8 L945.4 1223.5 L947.3 1223.1 L949.1 1222.9 L950.7 1222.6 L952.2 1222.3 L953.7 1222.0 L955.1 1221.7 L956.7 1221.4 L958.3 1221.0 L960.2 1220.7 L962.2 1220.3 L964.5 1219.8 L966.8 1219.3 L969.3 1218.8 L971.9 1218.3 L974.6 1217.7 L977.3 1217.2 L980.1 1216.6 L982.8 1216.1 L985.5 1215.5 L988.2 1215.0 L990.9 1214.5 L993.4 1214.0 L996.0 1213.6 L998.5 1213.1 L1001.1 1212.6 L1003.6 1212.1 L1006.2 1211.6 L1008.7 1211.1 L1011.3 1210.7 L1013.9 1210.3 L1016.4 1209.8 L1019.0 1209.4 L1021.5 1209.1 L1024.1 1208.8 L1026.7 1208.5 L1029.2 1208.2 L1031.8 1207.9 L1034.3 1207.6 L1036.9 1207.4 L1039.5 1207.1 L1042.0 1206.9 L1044.6 1206.7 L1047.2 1206.4 L1049.7 1206.2 L1052.3 1206.0 L1054.9 1205.8 L1057.4 1205.6 L1060.0 1205.4 L1062.6 1205.2 L1065.2 1205.0 L1067.7 1204.8 L1070.3 1204.6 L1072.9 1204.5 L1075.5 1204.3 L1078.0 1204.1 L1080.6 1203.9 L1083.2 1203.7 L1085.7 1203.4 L1088.3 1203.1 L1091.0 1202.9 L1093.7 1202.5 L1096.4 1202.2 L1099.1 1201.8 L1101.8 1201.5 L1104.5 1201.1 L1107.1 1200.7 L1109.7 1200.2 L1112.1 1199.8 L1114.4 1199.3 L1116.6 1198.9 L1118.7 1198.4 L1120.6 1197.9 L1122.5 1197.3 L1124.2 1196.7 L1126.0 1196.1 L1127.6 1195.5 L1129.3 1194.8 L1131.0 1194.1 L1132.7 1193.4 L1134.4 1192.6 L1136.1 1191.8 L1137.9 1191.0 L1139.6 1190.1 L1141.3 1189.1 L1143.0 1188.1 L1144.7 1187.1 L1146.4 1186.1 L1148.1 1185.0 L1149.7 1184.0 L1151.4 1182.8 L1153.0 1181.6 L1154.6 1180.4 L1156.2 1179.1 L1157.8 1177.8 L1159.4 1176.5 L1161.0 1175.1 L1162.6 1173.7 L1164.2 1172.3 L1165.8 1170.9 L1167.4 1169.4 L1169.0 1167.8 L1170.6 1166.2 L1172.2 1164.6 L1173.8 1163.0 L1175.4 1161.3 L1177.0 1159.7 L1178.5 1158.0 L1180.0 1156.3 L1181.4 1154.6 L1182.8 1152.8 L1184.2 1151.1 L1185.6 1149.3 L1186.9 1147.5 L1188.2 1145.7 L1189.4 1143.9 L1190.7 1142.1 L1192.0 1140.2 L1193.2 1138.4 L1194.4 1136.6 L1195.6 1134.8 L1196.8 1133.0 L1198.0 1131.2 L1199.2 1129.4 L1200.3 1127.5 L1201.5 1125.7 L1202.6 1123.9 L1203.7 1122.1 L1204.8 1120.3 L1205.9 1118.6 L1206.9 1116.8 L1207.9 1115.1 L1208.9 1113.4 L1209.9 1111.8 L1210.9 1110.1 L1211.8 1108.4 L1212.8 1106.8 L1213.8 1105.0 L1214.8 1103.3 L1215.8 1101.5 L1216.9 1099.6 L1218.1 1097.6 L1219.2 1095.6 L1220.4 1093.5 L1221.6 1091.4 L1222.8 1089.3 L1224.0 1087.2 L1225.2 1085.0 L1226.4 1083.0 L1227.6 1080.9 L1228.8 1078.9 L1229.9 1076.9 L1231.0 1075.0 L1232.2 1073.1 L1233.3 1071.3 L1234.4 1069.4 L1235.5 1067.5 L1236.5 1065.7 L1237.6 1063.8 L1238.6 1061.9 L1239.7 1060.0 L1240.7 1058.1 L1241.6 1056.2 L1242.6 1054.3 L1243.5 1052.4 L1244.4 1050.5 L1245.3 1048.5 L1246.2 1046.6 L1247.1 1044.5 L1248.0 1042.5 L1248.9 1040.3 L1249.8 1038.0 L1250.7 1035.6 L1251.7 1033.1 L1252.6 1030.4 L1253.6 1027.7 L1254.5 1024.9 L1255.5 1022.0 L1256.4 1019.0 L1257.4 1016.1 L1258.3 1013.1 L1259.3 1010.1 L1260.2 1007.2 L1261.2 1004.3 L1262.2 1001.4 L1263.1 998.7 L1264.1 995.9 L1265.0 993.3 L1266.0 990.6 L1267.0 988.0 L1268.0 985.3 L1269.0 982.7 L1269.9 980.1 L1270.9 977.5 L1271.9 974.9 L1272.8 972.3 L1273.8 969.7 L1274.7 967.1 L1275.7 964.5 L1276.6 961.9 L1277.5 959.2 L1278.4 956.5 L1279.3 953.9 L1280.2 951.2 L1281.1 948.5 L1282.0 945.8 L1282.9 943.1 L1283.7 940.5 L1284.6 937.8 L1285.4 935.2 L1286.2 932.6 L1287.0 930.1 L1287.8 927.6 L1288.6 925.1 L1289.3 922.7 L1290.1 920.3 L1290.8 917.9 L1291.5 915.5 L1292.2 913.1 L1292.9 910.8 L1293.5 908.4 L1294.2 906.0 L1294.9 903.6 L1295.5 901.2 L1296.1 898.7 L1296.7 896.3 L1297.3 893.8 L1297.9 891.4 L1298.4 888.9 L1299.0 886.5 L1299.5 884.0 L1300.1 881.5 L1300.6 878.9 L1301.2 876.2 L1301.8 873.5 L1302.4 870.7 L1303.0 867.8 L1303.7 864.8 L1304.4 861.6 L1305.1 858.4 L1305.9 855.0 L1306.6 851.5 L1307.4 847.9 L1308.2 844.3 L1309.0 840.6 L1309.9 836.9 L1310.7 833.2 L1311.5 829.5 L1312.3 825.8 L1313.1 822.2 L1313.9 818.6 L1314.7 815.1 L1315.5 811.7 L1316.2 808.4 L1316.9 805.1 L1317.7 801.9 L1318.4 798.7 L1319.0 795.5 L1319.7 792.3 L1320.4 789.1 L1321.1 786.0 L1321.8 783.0 L1322.5 779.9 L1323.1 776.9 L1323.8 773.9 L1324.5 771.0 L1325.2 768.1 L1326.0 765.3 L1326.7 762.5 L1327.4 759.8 L1328.1 757.0 L1328.9 754.4 L1329.6 751.7 L1330.3 749.1 L1331.1 746.5 L1331.9 744.0 L1332.6 741.5 L1333.4 739.1 L1334.2 736.7 L1335.1 734.3 L1335.9 732.0 L1336.8 729.8 L1337.7 727.5 L1338.6 725.3 L1339.5 723.1 L1340.5 720.9 L1341.5 718.8 L1342.5 716.7 L1343.5 714.8 L1344.6 712.9 L1345.7 711.1 L1346.9 709.5 L1348.0 708.0 L1349.3 706.5 L1350.5 705.1 L1351.9 703.7 L1353.2 702.4 L1354.6 701.2 L1356.1 700.1 L1357.5 699.1 L1359.1 698.3 L1360.7 697.6 L1362.4 697.0 L1364.2 696.4 L1366.1 696.0 L1368.0 695.5 L1369.9 695.0 L1371.7 694.5 L1373.5 693.9 L1375.1 693.3 L1376.7 692.5 L1378.2 691.7 L1379.8 690.8 L1381.2 689.9 L1382.7 688.9 L1384.1 687.8 L1385.4 686.7 L1386.6 685.5 L1387.8 684.2 L1388.9 682.6 L1390.0 681.0 L1391.0 679.2 L1392.1 677.3 L1393.0 675.4 L1394.0 673.4 L1394.9 671.4 L1395.8 669.4 L1396.7 667.4 L1397.5 665.5 L1398.4 663.5 L1399.1 661.5 L1399.9 659.4 L1400.7 657.3 L1401.4 655.2 L1402.1 653.1 L1402.9 651.0 L1403.6 648.8 L1404.3 646.7 L1405.0 644.5 L1405.7 642.3 L1406.4 640.2 L1407.1 638.0 L1407.8 635.8 L1408.5 633.6 L1409.2 631.3 L1409.9 629.0 L1410.6 626.7 L1411.3 624.3 L1412.0 621.8 L1412.7 619.3 L1413.5 616.7 L1414.2 614.0 L1415.0 611.3 L1415.8 608.5 L1416.6 605.7 L1417.4 602.8 L1418.3 599.9 L1419.1 597.0 L1419.9 594.0 L1420.7 591.0 L1421.4 588.0 L1422.2 584.9 L1423.0 581.9 L1423.7 578.9 L1424.4 575.8 L1425.1 572.7 L1425.8 569.5 L1426.5 566.3 L1427.1 563.0 L1427.8 559.8 L1428.5 556.5 L1429.1 553.2 L1429.8 549.9 L1430.4 546.7 L1431.0 543.4 L1431.6 540.2 L1432.2 537.0 L1432.8 533.9 L1433.4 530.8 L1433.9 527.8 L1434.5 524.9 L1435.1 522.0 L1435.6 519.2 L1436.2 516.4 L1436.8 513.6 L1437.3 510.9 L1437.8 508.1 L1438.3 505.4 L1438.8 502.6 L1439.3 499.7 L1439.7 496.8 L1440.1 493.8 L1440.4 490.7 L1440.7 487.4 L1441.0 484.1 L1441.3 480.7 L1441.5 477.2 L1441.7 473.7 L1441.9 470.0 L1442.1 466.3 L1442.3 462.6 L1442.4 458.9 L1442.6 455.1 L1442.8 451.4 L1443.0 447.6 L1443.2 443.9 L1443.5 440.2 L1443.7 436.5 L1444.0 432.9 L1444.4 429.4 L1444.8 425.9 L1445.3 422.3 L1445.9 418.7 L1446.5 415.0 L1447.3 411.3 L1448.2 407.6 L1449.1 404.0 L1450.0 400.3 L1451.0 396.8 L1452.1 393.2 L1453.1 389.8 L1454.2 386.5 L1455.3 383.3 L1456.4 380.3 L1457.4 377.5 L1458.4 374.8 L1459.4 372.3 L1460.4 369.9 L1461.4 367.6 L1462.4 365.2 L1463.4 363.0 L1464.4 360.9 L1465.5 358.9 L1466.5 357.1 L1467.6 355.5 L1468.7 354.2 L1469.8 353.2 L1470.9 352.3 L1472.1 351.5 L1473.3 350.8 L1474.6 350.2 L1475.8 349.8 L1477.0 349.5 L1478.1 349.6 L1479.4 350.0 L1480.6 350.7 L1481.8 351.6 L1482.9 352.8 L1483.9 354.0 L1484.8 355.2 L1485.6 356.6 L1486.3 358.1 L1486.9 359.9 L1487.5 361.9 L1488.1 364.1 L1488.6 366.4 L1489.1 368.8 L1489.6 371.3 L1490.1 373.8 L1490.7 376.4 L1491.2 378.9 L1491.7 381.6 L1492.3 384.4 L1492.9 387.3 L1493.4 390.4 L1494.0 393.5 L1494.6 396.8 L1495.1 400.1 L1495.7 403.5 L1496.2 406.9 L1496.7 410.3 L1497.2 413.7 L1497.7 417.1 L1498.1 420.5 L1498.5 423.9 L1498.9 427.2 L1499.2 430.5 L1499.6 433.9 L1499.8 437.3 L1500.1 440.9 L1500.4 444.4 L1500.6 448.0 L1500.9 451.6 L1501.1 455.1 L1501.3 458.6 L1501.5 462.0 L1501.8 465.4 L1502.0 468.6 L1502.2 471.7 L1502.5 474.7 L1502.7 477.4 L1503.0 480.0 L1503.3 482.4 L1503.6 484.5 L1503.9 486.6 L1504.2 488.5 L1504.6 490.3 L1504.9 492.2 L1505.2 494.1 L1505.5 496.1 L1505.8 498.2 L1506.1 500.5 L1506.3 502.9 L1506.5 505.5 L1506.7 508.1 L1506.9 510.8 L1507.1 513.6 L1507.3 516.5 L1507.5 519.4 L1507.7 522.4 L1507.9 525.4 L1508.1 528.5 L1508.3 531.6 L1508.5 534.7 L1508.8 537.9 L1509.0 541.1 L1509.3 544.3 L1509.6 547.6 L1510.0 551.0 L1510.3 554.5 L1510.7 558.0 L1511.1 561.5 L1511.5 565.1 L1511.9 568.7 L1512.3 572.3 L1512.7 576.0 L1513.1 579.6 L1513.4 583.3 L1513.8 586.9 L1514.2 590.6 L1514.5 594.2 L1514.8 597.7 L1515.1 601.3 L1515.3 604.8 L1515.6 608.3 L1515.9 611.9 L1516.1 615.4 L1516.3 618.9 L1516.6 622.5 L1516.8 626.0 L1517.0 629.5 L1517.2 633.1 L1517.4 636.6 L1517.6 640.2 L1517.9 643.7 L1518.1 647.2 L1518.3 650.8 L1518.5 654.3 L1518.8 657.8 L1519.0 661.4 L1519.2 664.9 L1519.5 668.4 L1519.7 672.0 L1520.0 675.5 L1520.2 679.0 L1520.5 682.5 L1520.7 686.1 L1521.0 689.6 L1521.2 693.1 L1521.5 696.6 L1521.7 700.2 L1521.9 703.7 L1522.2 707.3 L1522.4 710.8 L1522.6 714.4 L1522.8 717.9 L1523.0 721.5 L1523.2 725.1 L1523.4 728.6 L1523.5 732.2 L1523.7 735.7 L1523.9 739.2 L1524.0 742.8 L1524.2 746.4 L1524.4 749.9 L1524.5 753.5 L1524.7 757.1 L1524.9 760.7 L1525.0 764.4 L1525.2 768.1 L1525.4 771.8 L1525.6 775.5 L1525.8 779.3 L1526.0 783.1 L1526.2 787.0 L1526.4 791.0 L1526.6 795.0 L1526.8 799.1 L1527.1 803.2 L1527.3 807.3 L1527.6 811.4 L1527.8 815.6 L1528.1 819.8 L1528.3 823.9 L1528.6 828.1 L1528.8 832.2 L1529.1 836.3 L1529.3 840.4 L1529.6 844.4 L1529.9 848.4 L1530.1 852.4 L1530.4 856.2 L1530.6 860.1 L1530.9 863.9 L1531.2 867.8 L1531.5 871.8 L1531.7 875.7 L1532.0 879.6 L1532.3 883.5 L1532.6 887.4 L1532.8 891.2 L1533.1 895.0 L1533.4 898.7 L1533.7 902.3 L1534.0 905.7 L1534.3 909.1 L1534.6 912.3 L1534.9 915.4 L1535.2 918.3 L1535.5 921.0 L1535.8 923.5 L1536.2 925.8 L1536.5 927.9 L1536.8 930.0 L1537.1 932.0 L1537.5 934.0 L1537.8 936.1 L1538.2 938.2 L1538.5 940.4 L1538.9 942.9 L1539.3 945.5 L1539.7 948.2 L1540.1 951.1 L1540.5 954.1 L1540.9 957.2 L1541.3 960.3 L1541.7 963.5 L1542.1 966.8 L1542.6 970.1 L1543.0 973.5 L1543.4 976.8 L1543.9 980.1 L1544.3 983.5 L1544.7 986.7 L1545.2 989.9 L1545.6 993.1 L1546.0 996.3 L1546.4 999.5 L1546.8 1002.6 L1547.3 1005.9 L1547.7 1009.1 L1548.1 1012.3 L1548.5 1015.5 L1548.9 1018.6 L1549.4 1021.8 L1549.8 1025.0 L1550.2 1028.1 L1550.6 1031.2 L1551.1 1034.3 L1551.5 1037.3 L1551.9 1040.3 L1552.4 1043.3 L1552.8 1046.3 L1553.2 1049.3 L1553.7 1052.3 L1554.1 1055.2 L1554.5 1058.1 L1555.0 1061.0 L1555.4 1063.9 L1555.9 1066.7 L1556.4 1069.5 L1556.8 1072.3 L1557.3 1075.0 L1557.9 1077.6 L1558.4 1080.2 L1559.0 1082.8 L1559.6 1085.2 L1560.2 1087.7 L1560.8 1090.1 L1561.5 1092.4 L1562.1 1094.8 L1562.8 1097.1 L1563.5 1099.5 L1564.1 1101.9 L1564.8 1104.3 L1565.5 1106.7 L1566.2 1109.2 L1566.8 1111.8 L1567.5 1114.3 L1568.2 1116.9 L1568.9 1119.5 L1569.5 1122.1 L1570.2 1124.7 L1570.9 1127.3 L1571.7 1129.9 L1572.4 1132.5 L1573.2 1135.0 L1573.9 1137.4 L1574.7 1139.9 L1575.5 1142.3 L1576.3 1144.7 L1577.2 1147.1 L1578.0 1149.5 L1578.9 1151.8 L1579.8 1154.2 L1580.7 1156.5 L1581.7 1158.7 L1582.7 1160.9 L1583.7 1163.1 L1584.7 1165.1 L1585.8 1167.1 L1587.0 1169.1 L1588.2 1171.1 L1589.5 1173.0 L1590.8 1174.9 L1592.2 1176.7 L1593.6 1178.5 L1595.0 1180.2 L1596.5 1181.9 L1598.0 1183.5 L1599.6 1185.0 L1601.2 1186.5 L1602.9 1187.9 L1604.7 1189.3 L1606.5 1190.6 L1608.4 1191.9 L1610.4 1193.1 L1612.3 1194.3 L1614.3 1195.5 L1616.2 1196.6 L1618.2 1197.6 L1620.1 1198.6 L1622.0 1199.6 L1623.9 1200.5 L1625.8 1201.3 L1627.7 1202.1 L1629.6 1202.9 L1631.6 1203.7 L1633.5 1204.5 L1635.6 1205.2 L1637.7 1205.9 L1639.8 1206.6 L1642.1 1207.3 L1644.4 1207.9 L1646.8 1208.6 L1649.2 1209.2 L1651.7 1209.8 L1654.2 1210.4 L1656.8 1211.0 L1659.3 1211.6 L1661.9 1212.2 L1664.5 1212.7 L1667.1 1213.3 L1669.6 1213.8 L1672.1 1214.3 L1674.7 1214.9 L1677.2 1215.4 L1679.8 1215.9 L1682.3 1216.4 L1684.9 1216.8 L1687.5 1217.3 L1690.0 1217.8 L1692.6 1218.2 L1695.2 1218.7 L1697.8 1219.2 L1700.3 1219.6 L1702.9 1220.1 L1705.4 1220.6 L1708.0 1221.1 L1710.6 1221.5 L1713.1 1222.0 L1715.7 1222.5 L1718.3 1223.0 L1720.8 1223.4 L1723.4 1223.9 L1726.0 1224.3 L1728.5 1224.7 L1731.1 1225.1 L1733.7 1225.5 L1736.2 1225.9 L1738.8 1226.2 L1741.4 1226.6 L1744.0 1226.9 L1746.5 1227.2 L1749.1 1227.5 L1751.7 1227.8 L1754.3 1228.1 L1756.9 1228.4 L1759.4 1228.7 L1762.0 1229.0 L1764.6 1229.3 L1767.2 1229.6 L1769.7 1229.8 L1772.3 1230.1 L1774.9 1230.4 L1777.4 1230.6 L1780.0 1230.9 L1782.6 1231.1 L1785.2 1231.4 L1787.7 1231.6 L1790.3 1231.9 L1792.9 1232.2 L1795.5 1232.4 L1798.1 1232.7 L1800.8 1232.9 L1803.4 1233.2 L1806.0 1233.5 L1808.7 1233.7 L1811.3 1234.0 L1814.0 1234.2 L1816.6 1234.5 L1819.3 1234.8 L1821.9 1235.0 L1824.6 1235.3 L1827.3 1235.5 L1830.0 1235.8" stroke="#808080"/>
</g>
<g stroke="#000" stroke-width="10" stroke-linecap="round" fill="none">
<path d="M292 62 H1824" />
<path d="M316 62 V1285" />
<path d="M292 1262 H1824" />
<path d="M1824 62 V1285" />
<path d="M292 1262 H316"/>
<path d="M292 1022 H316"/>
<path d="M292 782 H316"/>
<path d="M292 542 H316"/>
<path d="M292 302 H316"/>
<path d="M292 62 H316"/>
<path d="M304 1142 H316"/>
<path d="M304 902 H316"/>
<path d="M304 662 H316"/>
<path d="M304 422 H316"/>
<path d="M304 182 H316"/>
<path d="M316.0 1262 V1285"/>
<path d="M567.3 1262 V1285"/>
<path d="M818.7 1262 V1285"/>
<path d="M1070.0 1262 V1285"/>
<path d="M1321.3 1262 V1285"/>
<path d="M1572.7 1262 V1285"/>
<path d="M1824.0 1262 V1285"/>
<path d="M441.7 1262 V1273"/>
<path d="M693.0 1262 V1273"/>
<path d="M944.3 1262 V1273"/>
<path d="M1195.7 1262 V1273"/>
<path d="M1447.0 1262 V1273"/>
<path d="M1698.3 1262 V1273"/>
</g>
<g stroke="#000" stroke-width="7.3" stroke-linecap="round" fill="none" stroke-dasharray="24.7 32.65">
<path d="M431.5 978.5 V1233"/>
<path d="M542.6 723 V1258"/>
<path d="M1360.5 658.2 V1258"/>
</g>
<path d="M1481.6 231.5 L1481.4 235.6 L1481.2 239.7 L1481.0 243.8 L1480.8 247.9 L1480.6 252.0 L1480.4 256.0 L1480.2 260.1 L1480.0 264.2 L1479.9 268.3 L1479.7 272.4 L1479.5 276.4 L1479.3 280.5 L1479.1 284.6 L1478.9 288.7 L1478.8 292.8 L1478.6 296.8 L1478.4 300.9 L1478.2 305.0 L1478.1 309.1 L1477.9 313.1 L1477.7 317.2 L1477.6 321.3 L1477.4 325.4 L1477.2 329.5 L1477.1 333.5 L1476.9 337.6 L1476.7 341.7 L1476.6 345.8 L1476.4 349.9 L1476.2 354.0 L1476.1 358.1 L1475.9 362.2 L1475.8 366.3 L1475.6 370.3 L1475.4 374.4 L1475.3 378.5 L1475.1 382.7 L1474.9 386.8 L1474.8 390.9 L1474.6 395.0 L1474.4 399.1 L1474.3 403.2 L1474.1 407.3 L1473.9 411.5 L1473.8 415.6 L1473.6 419.7 L1473.4 423.9 L1473.2 428.0 L1473.1 432.2 L1472.9 436.3 L1472.7 440.5 L1472.5 444.6 L1472.4 448.8 L1472.2 452.9 L1472.0 457.1 L1471.8 461.3 L1471.6 465.5 L1471.4 469.7 L1471.2 473.9 L1471.0 478.1 L1470.8 482.3 L1470.6 486.5 L1470.4 490.7 L1470.2 494.9 L1470.0 499.2 L1469.8 503.4 L1469.6 507.6 L1469.4 511.9 L1469.2 516.1 L1469.0 520.4 L1468.8 524.7 L1468.5 529.0 L1468.3 533.3 L1468.1 537.6 L1467.8 541.9 L1467.6 546.2 L1467.4 550.5 L1467.1 554.9 L1466.9 559.3 L1466.7 563.6 L1466.4 568.1 L1466.2 572.5 L1465.9 576.9 L1465.7 581.4 L1465.5 585.9 L1465.2 590.4 L1465.0 594.9 L1464.7 599.4 L1464.5 604.0 L1464.2 608.6 L1464.0 613.2 L1463.8 617.9 L1463.5 622.5 L1463.3 627.2 L1463.0 632.0 L1462.8 636.7 L1462.5 641.5 L1462.3 646.4 L1462.1 651.2 L1461.8 656.1 L1461.6 661.0 L1461.4 666.0 L1461.1 671.0 L1460.9 676.0 L1460.7 681.1 L1460.5 686.2 L1460.2 691.4 L1460.0 696.6 L1459.8 701.8 L1459.6 707.1 L1459.4 712.4 L1459.2 717.7 L1459.0 723.0 L1458.8 728.4 L1458.6 733.8 L1458.4 739.2 L1458.2 744.7 L1458.0 750.1 L1457.8 755.6 L1457.6 761.1 L1457.4 766.6 L1457.2 772.1 L1457.0 777.5 L1456.8 783.0 L1456.6 788.5 L1456.4 794.0 L1456.2 799.5 L1456.0 805.0 L1455.8 810.4 L1455.6 815.9 L1455.4 821.3 L1455.2 826.7 L1455.0 832.1 L1454.8 837.5 L1454.6 842.8 L1454.4 848.1 L1454.2 853.4 L1454.0 858.6 L1453.8 863.8 L1453.5 869.0 L1453.3 874.1 L1453.1 879.2 L1452.9 884.2 L1452.7 889.2 L1452.5 894.2 L1452.2 899.1 L1452.0 903.9 L1451.8 908.6 L1451.5 913.4 L1451.3 918.0 L1451.1 922.6 L1450.8 927.1 L1450.6 931.5 L1450.3 935.9 L1450.1 940.2 L1449.8 944.5 L1449.5 948.7 L1449.3 952.9 L1449.0 957.0 L1448.8 961.0 L1448.5 965.0 L1448.2 969.0 L1447.9 972.9 L1447.7 976.8 L1447.4 980.6 L1447.1 984.4 L1446.8 988.2 L1446.6 991.9 L1446.3 995.6 L1446.0 999.3 L1445.7 1002.9 L1445.4 1006.5 L1445.1 1010.1 L1444.9 1013.6 L1444.6 1017.2 L1444.3 1020.7 L1444.0 1024.2 L1443.7 1027.7 L1443.5 1031.2 L1443.2 1034.6 L1442.9 1038.1 L1442.6 1041.5 L1442.3 1045.0 L1442.1 1048.4 L1441.8 1051.9 L1441.5 1055.3 L1441.2 1058.7 L1441.0 1062.1 L1440.7 1065.5 L1440.4 1068.9 L1440.1 1072.3 L1439.8 1075.6 L1439.6 1079.0 L1439.3 1082.3 L1439.0 1085.6 L1438.7 1088.9 L1438.4 1092.1 L1438.1 1095.3 L1437.7 1098.6 L1437.4 1101.7 L1437.1 1104.9 L1436.8 1108.0 L1436.4 1111.1 L1436.1 1114.2 L1435.7 1117.2 L1435.3 1120.2 L1434.9 1123.2 L1434.5 1126.1 L1434.1 1129.0 L1433.7 1131.8 L1433.3 1134.6 L1432.9 1137.4 L1432.4 1140.1 L1432.0 1142.8 L1431.5 1145.4 L1431.1 1147.9 L1430.6 1150.4 L1430.2 1152.8 L1429.8 1155.2 L1429.3 1157.5 L1428.9 1159.7 L1428.5 1161.8 L1428.0 1163.9 L1427.6 1165.8 L1427.2 1167.7 L1426.9 1169.5 L1426.5 1171.1 L1426.2 1172.7 L1425.8 1174.2 L1425.5 1175.6 L1425.3 1176.9 L1425.0 1178.0 L1424.8 1179.1 L1424.6 1180.0 L1424.4 1180.8 L1424.3 1181.5 L1424.2 1182.0" stroke="#000" stroke-width="8.6" stroke-linecap="round" fill="none" stroke-dasharray="34.6 25.4 3.6 24.8"/>
<g stroke="#000" stroke-linecap="round" fill="none">
<path d="M1478 266 H1621" stroke-width="10"/>
<path d="M1479 347 H1619" stroke-width="10"/>
<path d="M1543.4 266 V347" stroke-width="6.5"/>
</g>
<line x1="485.1" y1="678.7" x2="512.1" y2="701.3" stroke="#000" stroke-width="2.6" stroke-linecap="round"/><polygon points="533.9,719.6 504.8,705.3 514.7,693.4" fill="#000"/>
<line x1="1259.3" y1="877.4" x2="1321.5" y2="926.0" stroke="#000" stroke-width="2.6" stroke-linecap="round"/><polygon points="1343.9,943.6 1314.3,930.3 1323.9,918.1" fill="#000"/>
<line x1="1559.6" y1="738.7" x2="1480.7" y2="791.5" stroke="#000" stroke-width="2.6" stroke-linecap="round"/><polygon points="1457.0,807.4 1478.9,783.4 1487.5,796.3" fill="#000"/>
<line x1="1577.5" y1="945.0" x2="1472.7" y2="1015.3" stroke="#000" stroke-width="2.6" stroke-linecap="round"/><polygon points="1449.0,1031.2 1470.8,1007.2 1479.5,1020.1" fill="#000"/>
<line x1="1592.6" y1="1023.6" x2="1464.0" y2="1105.9" stroke="#000" stroke-width="2.6" stroke-linecap="round"/><polygon points="1440.0,1121.3 1462.3,1097.8 1470.7,1110.8" fill="#000"/>
<g font-size="85" text-anchor="end">
<text transform="translate(276 1287.9) scale(1 1.04)">0.0</text>
<text transform="translate(276 1047.9) scale(1 1.04)">0.3</text>
<text transform="translate(276 807.9) scale(1 1.04)">0.6</text>
<text transform="translate(276 567.9) scale(1 1.04)">0.9</text>
<text transform="translate(276 327.9) scale(1 1.04)">1.2</text>
<text transform="translate(276 87.9) scale(1 1.04)">1.5</text>
</g>
<g font-size="85" text-anchor="middle">
<text transform="translate(316.0 1369) scale(1 1.04)">200</text>
<text transform="translate(567.3 1369) scale(1 1.04)">300</text>
<text transform="translate(818.7 1369) scale(1 1.04)">400</text>
<text transform="translate(1070.0 1369) scale(1 1.04)">500</text>
<text transform="translate(1321.3 1369) scale(1 1.04)">600</text>
<text transform="translate(1572.7 1369) scale(1 1.04)">700</text>
<text transform="translate(1824.0 1369) scale(1 1.04)">800</text>
</g>
<text x="1069.6" y="1481.8" font-size="91.65" text-anchor="middle">Wavelength / nm</text>
<text transform="translate(101 662.5) rotate(-90)" font-size="102" text-anchor="middle">Absorbance</text>
<g stroke-width="10" stroke-linecap="round">
<path d="M744 162.0 H865" stroke="#000000"/>
<path d="M744 247.6 H865" stroke="#808080"/>
<path d="M744 333.3 H865" stroke="#ff0000"/>
<path d="M744 418.9 H865" stroke="#0000ff"/>
<path d="M744 504.5 H865" stroke="#00ff00"/>
<path d="M744 590.1 H865" stroke="#808000"/>
<path d="M744 675.8 H865" stroke="#00ffff"/>
<path d="M744 761.4 H865" stroke="#ff0080"/>
<path d="M744 847.0 H865" stroke="#ff8000"/>
</g>
<g font-size="68">
<text x="883.5" y="180.8">6h</text>
<text x="883.5" y="266.4">6’h</text>
<text x="883.5" y="352.1">9h</text>
<text x="883.5" y="437.7">12h</text>
<text x="883.5" y="523.3">24h</text>
<text x="883.5" y="608.9">30h</text>
<text x="883.5" y="694.6">36h</text>
<text x="883.5" y="780.2">48h</text>
<text x="883.5" y="865.8">54h</text>
</g>
<g font-size="63">
<text transform="translate(376 954) scale(1 1.04)">245</text>
<text transform="translate(407.3 676.2) scale(1 1.04)">291</text>
<text transform="translate(1298.5 630.6) scale(1 1.04)">614</text>
<text transform="translate(1428.8 215.5) scale(1 1.04)">665</text>
<text transform="translate(1170 865) scale(1 1.04)">609</text>
<text transform="translate(1580 752) scale(1 1.04)">654</text>
<text transform="translate(1598.4 951) scale(1 1.04)">649</text>
<text transform="translate(1605.5 1047) scale(1 1.04)">643</text>
</g>
<text transform="translate(0 324) scale(1 1.04)" font-size="55.5"><tspan x="1550">+H</tspan><tspan x="1624.2" dy="19.23" font-size="34">2</tspan><tspan x="1644.2" dy="-19.23">O</tspan><tspan x="1688" dy="19.23" font-size="34">2</tspan></text>
</svg>
</body></html>
